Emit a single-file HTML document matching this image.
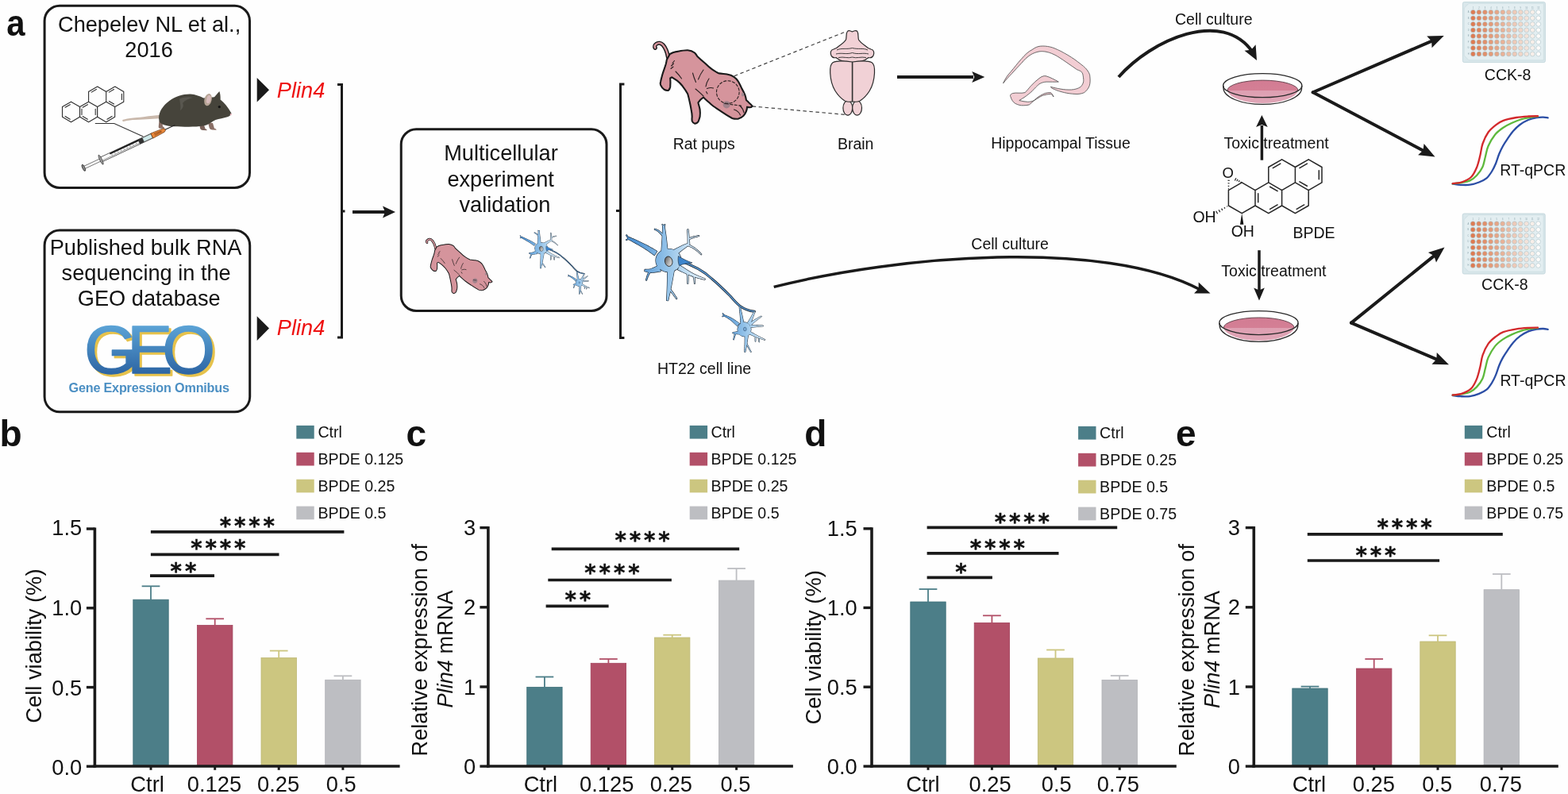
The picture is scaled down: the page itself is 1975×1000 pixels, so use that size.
<!DOCTYPE html>
<html><head><meta charset="utf-8"><title>Figure</title>
<style>
html,body{margin:0;padding:0;background:#fff;}
svg{display:block;}
text{font-family:'Liberation Sans', Arial, sans-serif;}
</style></head>
<body>
<svg width="1975" height="1000" viewBox="0 0 1975 1000">
<rect x="0" y="0" width="1975" height="1000" fill="#fefefe"/>
<text x="0.00" y="0.00" font-size="46" text-anchor="start" font-weight="bold" font-style="normal" fill="#111" transform="translate(8.3,44.8) scale(0.91,1)">a</text>
<text x="-0.50" y="562.00" font-size="46" text-anchor="start" font-weight="bold" font-style="normal" fill="#111" >b</text>
<text x="511.60" y="561.80" font-size="46" text-anchor="start" font-weight="bold" font-style="normal" fill="#111" >c</text>
<text x="1013.20" y="561.50" font-size="46" text-anchor="start" font-weight="bold" font-style="normal" fill="#111" >d</text>
<text x="1481.10" y="561.80" font-size="46" text-anchor="start" font-weight="bold" font-style="normal" fill="#111" >e</text>
<rect x="167.80" y="755.20" width="44.40" height="209.80" fill="#4c7e88" stroke="#3f717b" stroke-width="0.8"/>
<line x1="190.00" y1="738.30" x2="190.00" y2="755.70" stroke="#4c7e88" stroke-width="1.8" stroke-linecap="butt" />
<line x1="178.65" y1="738.30" x2="201.35" y2="738.30" stroke="#4c7e88" stroke-width="1.8" stroke-linecap="butt" />
<rect x="248.50" y="787.60" width="44.40" height="177.40" fill="#b25068" stroke="#a2405a" stroke-width="0.8"/>
<line x1="270.70" y1="779.30" x2="270.70" y2="788.10" stroke="#b25068" stroke-width="1.8" stroke-linecap="butt" />
<line x1="259.35" y1="779.30" x2="282.05" y2="779.30" stroke="#b25068" stroke-width="1.8" stroke-linecap="butt" />
<rect x="329.00" y="828.60" width="44.40" height="136.40" fill="#ccc680" stroke="#bdb772" stroke-width="0.8"/>
<line x1="351.20" y1="819.60" x2="351.20" y2="829.10" stroke="#ccc680" stroke-width="1.8" stroke-linecap="butt" />
<line x1="339.85" y1="819.60" x2="362.55" y2="819.60" stroke="#ccc680" stroke-width="1.8" stroke-linecap="butt" />
<rect x="409.70" y="856.30" width="44.40" height="108.70" fill="#bdbec2" stroke="#b1b2b6" stroke-width="0.8"/>
<line x1="431.90" y1="851.30" x2="431.90" y2="856.80" stroke="#bdbec2" stroke-width="1.8" stroke-linecap="butt" />
<line x1="420.55" y1="851.30" x2="443.25" y2="851.30" stroke="#bdbec2" stroke-width="1.8" stroke-linecap="butt" />
<line x1="119.40" y1="664.40" x2="119.40" y2="966.75" stroke="#1a1a1a" stroke-width="3.6" stroke-linecap="butt" />
<line x1="117.60" y1="965.00" x2="503.60" y2="965.00" stroke="#1a1a1a" stroke-width="3.5" stroke-linecap="butt" />
<line x1="108.90" y1="965.20" x2="119.40" y2="965.20" stroke="#1a1a1a" stroke-width="3.4" stroke-linecap="butt" />
<text x="103.20" y="975.90" font-size="27.3" text-anchor="end" font-weight="normal" font-style="normal" fill="#111" >0.0</text>
<line x1="108.90" y1="865.60" x2="119.40" y2="865.60" stroke="#1a1a1a" stroke-width="3.4" stroke-linecap="butt" />
<text x="103.20" y="875.60" font-size="27.3" text-anchor="end" font-weight="normal" font-style="normal" fill="#111" >0.5</text>
<line x1="108.90" y1="765.80" x2="119.40" y2="765.80" stroke="#1a1a1a" stroke-width="3.4" stroke-linecap="butt" />
<text x="103.20" y="775.20" font-size="27.3" text-anchor="end" font-weight="normal" font-style="normal" fill="#111" >1.0</text>
<line x1="108.90" y1="666.00" x2="119.40" y2="666.00" stroke="#1a1a1a" stroke-width="3.4" stroke-linecap="butt" />
<text x="103.20" y="673.90" font-size="27.3" text-anchor="end" font-weight="normal" font-style="normal" fill="#111" >1.5</text>
<line x1="190.00" y1="965.00" x2="190.00" y2="969.80" stroke="#1a1a1a" stroke-width="3" stroke-linecap="butt" />
<text x="164.34" y="997.00" font-size="27.3" text-anchor="start" font-weight="normal" font-style="normal" fill="#111" >Ctrl</text>
<line x1="270.70" y1="965.00" x2="270.70" y2="969.80" stroke="#1a1a1a" stroke-width="3" stroke-linecap="butt" />
<text x="235.75" y="997.00" font-size="27.3" text-anchor="start" font-weight="normal" font-style="normal" fill="#111" >0.125</text>
<line x1="351.20" y1="965.00" x2="351.20" y2="969.80" stroke="#1a1a1a" stroke-width="3" stroke-linecap="butt" />
<text x="324.05" y="997.00" font-size="27.3" text-anchor="start" font-weight="normal" font-style="normal" fill="#111" >0.25</text>
<line x1="431.90" y1="965.00" x2="431.90" y2="969.80" stroke="#1a1a1a" stroke-width="3" stroke-linecap="butt" />
<text x="410.75" y="997.00" font-size="27.3" text-anchor="start" font-weight="normal" font-style="normal" fill="#111" >0.5</text>
<rect x="373.30" y="535.90" width="22.40" height="16.70" fill="#4c7e88" />
<text x="400.40" y="550.90" font-size="19.6" text-anchor="start" font-weight="normal" font-style="normal" fill="#111" >Ctrl</text>
<rect x="373.30" y="569.80" width="22.40" height="16.70" fill="#b25068" />
<text x="400.40" y="584.80" font-size="19.6" text-anchor="start" font-weight="normal" font-style="normal" fill="#111" >BPDE 0.125</text>
<rect x="373.30" y="603.70" width="22.40" height="16.70" fill="#ccc680" />
<text x="400.40" y="618.70" font-size="19.6" text-anchor="start" font-weight="normal" font-style="normal" fill="#111" >BPDE 0.25</text>
<rect x="373.30" y="637.60" width="22.40" height="16.70" fill="#bdbec2" />
<text x="400.40" y="652.60" font-size="19.6" text-anchor="start" font-weight="normal" font-style="normal" fill="#111" >BPDE 0.5</text>
<line x1="189.90" y1="669.90" x2="433.40" y2="669.90" stroke="#1a1a1a" stroke-width="3.7" stroke-linecap="butt" />
<text x="313.20" y="671.60" style="font-family:DejaVu Sans,sans-serif" font-weight="bold" font-size="27.5" letter-spacing="3.9" text-anchor="middle" fill="#111" stroke="#111" stroke-width="0.45">****</text>
<line x1="189.90" y1="698.40" x2="351.50" y2="698.40" stroke="#1a1a1a" stroke-width="3.7" stroke-linecap="butt" />
<text x="276.80" y="700.10" style="font-family:DejaVu Sans,sans-serif" font-weight="bold" font-size="27.5" letter-spacing="3.9" text-anchor="middle" fill="#111" stroke="#111" stroke-width="0.45">****</text>
<line x1="189.00" y1="725.20" x2="270.00" y2="725.20" stroke="#1a1a1a" stroke-width="3.7" stroke-linecap="butt" />
<text x="232.90" y="728.60" style="font-family:DejaVu Sans,sans-serif" font-weight="bold" font-size="27.5" letter-spacing="3.9" text-anchor="middle" fill="#111" stroke="#111" stroke-width="0.45">**</text>
<text x="0.00" y="0.00" font-size="27.3" text-anchor="middle" font-weight="normal" font-style="normal" fill="#111" transform="translate(52.4,813.6) rotate(-90)">Cell viability (%)</text>
<rect x="663.70" y="865.50" width="44.40" height="99.50" fill="#4c7e88" stroke="#3f717b" stroke-width="0.8"/>
<line x1="685.90" y1="852.50" x2="685.90" y2="866.00" stroke="#4c7e88" stroke-width="1.8" stroke-linecap="butt" />
<line x1="674.55" y1="852.50" x2="697.25" y2="852.50" stroke="#4c7e88" stroke-width="1.8" stroke-linecap="butt" />
<rect x="744.20" y="835.30" width="44.40" height="129.70" fill="#b25068" stroke="#a2405a" stroke-width="0.8"/>
<line x1="766.40" y1="830.00" x2="766.40" y2="835.80" stroke="#b25068" stroke-width="1.8" stroke-linecap="butt" />
<line x1="755.05" y1="830.00" x2="777.75" y2="830.00" stroke="#b25068" stroke-width="1.8" stroke-linecap="butt" />
<rect x="824.50" y="803.00" width="44.40" height="162.00" fill="#ccc680" stroke="#bdb772" stroke-width="0.8"/>
<line x1="846.70" y1="799.70" x2="846.70" y2="803.50" stroke="#ccc680" stroke-width="1.8" stroke-linecap="butt" />
<line x1="835.35" y1="799.70" x2="858.05" y2="799.70" stroke="#ccc680" stroke-width="1.8" stroke-linecap="butt" />
<rect x="905.40" y="731.10" width="44.40" height="233.90" fill="#bdbec2" stroke="#b1b2b6" stroke-width="0.8"/>
<line x1="927.60" y1="716.00" x2="927.60" y2="731.60" stroke="#bdbec2" stroke-width="1.8" stroke-linecap="butt" />
<line x1="916.25" y1="716.00" x2="938.95" y2="716.00" stroke="#bdbec2" stroke-width="1.8" stroke-linecap="butt" />
<line x1="614.90" y1="663.00" x2="614.90" y2="966.75" stroke="#1a1a1a" stroke-width="3.6" stroke-linecap="butt" />
<line x1="613.10" y1="965.00" x2="998.90" y2="965.00" stroke="#1a1a1a" stroke-width="3.5" stroke-linecap="butt" />
<line x1="604.40" y1="965.10" x2="614.90" y2="965.10" stroke="#1a1a1a" stroke-width="3.4" stroke-linecap="butt" />
<text x="599.20" y="974.70" font-size="27.3" text-anchor="end" font-weight="normal" font-style="normal" fill="#111" >0</text>
<line x1="604.40" y1="865.00" x2="614.90" y2="865.00" stroke="#1a1a1a" stroke-width="3.4" stroke-linecap="butt" />
<text x="599.20" y="874.60" font-size="27.3" text-anchor="end" font-weight="normal" font-style="normal" fill="#111" >1</text>
<line x1="604.40" y1="764.80" x2="614.90" y2="764.80" stroke="#1a1a1a" stroke-width="3.4" stroke-linecap="butt" />
<text x="599.20" y="774.40" font-size="27.3" text-anchor="end" font-weight="normal" font-style="normal" fill="#111" >2</text>
<line x1="604.40" y1="664.60" x2="614.90" y2="664.60" stroke="#1a1a1a" stroke-width="3.4" stroke-linecap="butt" />
<text x="599.20" y="674.20" font-size="27.3" text-anchor="end" font-weight="normal" font-style="normal" fill="#111" >3</text>
<line x1="685.90" y1="965.00" x2="685.90" y2="969.80" stroke="#1a1a1a" stroke-width="3" stroke-linecap="butt" />
<text x="659.64" y="997.00" font-size="27.3" text-anchor="start" font-weight="normal" font-style="normal" fill="#111" >Ctrl</text>
<line x1="766.40" y1="965.00" x2="766.40" y2="969.80" stroke="#1a1a1a" stroke-width="3" stroke-linecap="butt" />
<text x="730.05" y="997.00" font-size="27.3" text-anchor="start" font-weight="normal" font-style="normal" fill="#111" >0.125</text>
<line x1="846.70" y1="965.00" x2="846.70" y2="969.80" stroke="#1a1a1a" stroke-width="3" stroke-linecap="butt" />
<text x="818.85" y="997.00" font-size="27.3" text-anchor="start" font-weight="normal" font-style="normal" fill="#111" >0.25</text>
<line x1="927.60" y1="965.00" x2="927.60" y2="969.80" stroke="#1a1a1a" stroke-width="3" stroke-linecap="butt" />
<text x="907.45" y="997.00" font-size="27.3" text-anchor="start" font-weight="normal" font-style="normal" fill="#111" >0.5</text>
<rect x="868.70" y="535.90" width="22.40" height="16.70" fill="#4c7e88" />
<text x="895.50" y="550.90" font-size="19.6" text-anchor="start" font-weight="normal" font-style="normal" fill="#111" >Ctrl</text>
<rect x="868.70" y="569.80" width="22.40" height="16.70" fill="#b25068" />
<text x="895.50" y="584.80" font-size="19.6" text-anchor="start" font-weight="normal" font-style="normal" fill="#111" >BPDE 0.125</text>
<rect x="868.70" y="603.70" width="22.40" height="16.70" fill="#ccc680" />
<text x="895.50" y="618.70" font-size="19.6" text-anchor="start" font-weight="normal" font-style="normal" fill="#111" >BPDE 0.25</text>
<rect x="868.70" y="637.60" width="22.40" height="16.70" fill="#bdbec2" />
<text x="895.50" y="652.60" font-size="19.6" text-anchor="start" font-weight="normal" font-style="normal" fill="#111" >BPDE 0.5</text>
<line x1="694.70" y1="691.40" x2="931.20" y2="691.40" stroke="#1a1a1a" stroke-width="3.7" stroke-linecap="butt" />
<text x="811.10" y="690.00" style="font-family:DejaVu Sans,sans-serif" font-weight="bold" font-size="27.5" letter-spacing="3.9" text-anchor="middle" fill="#111" stroke="#111" stroke-width="0.45">****</text>
<line x1="690.30" y1="730.50" x2="845.90" y2="730.50" stroke="#1a1a1a" stroke-width="3.7" stroke-linecap="butt" />
<text x="772.90" y="730.60" style="font-family:DejaVu Sans,sans-serif" font-weight="bold" font-size="27.5" letter-spacing="3.9" text-anchor="middle" fill="#111" stroke="#111" stroke-width="0.45">****</text>
<line x1="687.60" y1="763.40" x2="766.60" y2="763.40" stroke="#1a1a1a" stroke-width="3.7" stroke-linecap="butt" />
<text x="729.80" y="765.20" style="font-family:DejaVu Sans,sans-serif" font-weight="bold" font-size="27.5" letter-spacing="3.9" text-anchor="middle" fill="#111" stroke="#111" stroke-width="0.45">**</text>
<text x="0.00" y="0.00" font-size="27.2" text-anchor="middle" font-weight="normal" font-style="normal" fill="#111" transform="translate(538,818.75) rotate(-90)">Relative expression of</text>
<text font-size="27.2" text-anchor="middle" fill="#111" transform="translate(570.3,817.5) rotate(-90)"><tspan font-style="italic">Plin4</tspan> mRNA</text>
<rect x="1146.80" y="758.00" width="44.40" height="207.00" fill="#4c7e88" stroke="#3f717b" stroke-width="0.8"/>
<line x1="1169.00" y1="742.00" x2="1169.00" y2="758.50" stroke="#4c7e88" stroke-width="1.8" stroke-linecap="butt" />
<line x1="1157.65" y1="742.00" x2="1180.35" y2="742.00" stroke="#4c7e88" stroke-width="1.8" stroke-linecap="butt" />
<rect x="1227.20" y="784.40" width="44.40" height="180.60" fill="#b25068" stroke="#a2405a" stroke-width="0.8"/>
<line x1="1249.40" y1="775.30" x2="1249.40" y2="784.90" stroke="#b25068" stroke-width="1.8" stroke-linecap="butt" />
<line x1="1238.05" y1="775.30" x2="1260.75" y2="775.30" stroke="#b25068" stroke-width="1.8" stroke-linecap="butt" />
<rect x="1307.30" y="829.00" width="44.40" height="136.00" fill="#ccc680" stroke="#bdb772" stroke-width="0.8"/>
<line x1="1329.50" y1="818.50" x2="1329.50" y2="829.50" stroke="#ccc680" stroke-width="1.8" stroke-linecap="butt" />
<line x1="1318.15" y1="818.50" x2="1340.85" y2="818.50" stroke="#ccc680" stroke-width="1.8" stroke-linecap="butt" />
<rect x="1388.00" y="856.40" width="44.40" height="108.60" fill="#bdbec2" stroke="#b1b2b6" stroke-width="0.8"/>
<line x1="1410.20" y1="851.00" x2="1410.20" y2="856.90" stroke="#bdbec2" stroke-width="1.8" stroke-linecap="butt" />
<line x1="1398.85" y1="851.00" x2="1421.55" y2="851.00" stroke="#bdbec2" stroke-width="1.8" stroke-linecap="butt" />
<line x1="1098.00" y1="664.20" x2="1098.00" y2="966.75" stroke="#1a1a1a" stroke-width="3.6" stroke-linecap="butt" />
<line x1="1096.20" y1="965.00" x2="1481.80" y2="965.00" stroke="#1a1a1a" stroke-width="3.5" stroke-linecap="butt" />
<line x1="1087.50" y1="965.10" x2="1098.00" y2="965.10" stroke="#1a1a1a" stroke-width="3.4" stroke-linecap="butt" />
<text x="1079.80" y="974.70" font-size="27.3" text-anchor="end" font-weight="normal" font-style="normal" fill="#111" >0.0</text>
<line x1="1087.50" y1="865.20" x2="1098.00" y2="865.20" stroke="#1a1a1a" stroke-width="3.4" stroke-linecap="butt" />
<text x="1079.80" y="874.80" font-size="27.3" text-anchor="end" font-weight="normal" font-style="normal" fill="#111" >0.5</text>
<line x1="1087.50" y1="765.40" x2="1098.00" y2="765.40" stroke="#1a1a1a" stroke-width="3.4" stroke-linecap="butt" />
<text x="1079.80" y="775.00" font-size="27.3" text-anchor="end" font-weight="normal" font-style="normal" fill="#111" >1.0</text>
<line x1="1087.50" y1="665.80" x2="1098.00" y2="665.80" stroke="#1a1a1a" stroke-width="3.4" stroke-linecap="butt" />
<text x="1079.80" y="675.40" font-size="27.3" text-anchor="end" font-weight="normal" font-style="normal" fill="#111" >1.5</text>
<line x1="1169.00" y1="965.00" x2="1169.00" y2="969.80" stroke="#1a1a1a" stroke-width="3" stroke-linecap="butt" />
<text x="1141.24" y="997.00" font-size="27.3" text-anchor="start" font-weight="normal" font-style="normal" fill="#111" >Ctrl</text>
<line x1="1249.40" y1="965.00" x2="1249.40" y2="969.80" stroke="#1a1a1a" stroke-width="3" stroke-linecap="butt" />
<text x="1220.55" y="997.00" font-size="27.3" text-anchor="start" font-weight="normal" font-style="normal" fill="#111" >0.25</text>
<line x1="1329.50" y1="965.00" x2="1329.50" y2="969.80" stroke="#1a1a1a" stroke-width="3" stroke-linecap="butt" />
<text x="1311.85" y="997.00" font-size="27.3" text-anchor="start" font-weight="normal" font-style="normal" fill="#111" >0.5</text>
<line x1="1410.20" y1="965.00" x2="1410.20" y2="969.80" stroke="#1a1a1a" stroke-width="3" stroke-linecap="butt" />
<text x="1381.85" y="997.00" font-size="27.3" text-anchor="start" font-weight="normal" font-style="normal" fill="#111" >0.75</text>
<rect x="1358.10" y="536.90" width="22.40" height="16.70" fill="#4c7e88" />
<text x="1385.10" y="551.90" font-size="19.6" text-anchor="start" font-weight="normal" font-style="normal" fill="#111" >Ctrl</text>
<rect x="1358.10" y="570.80" width="22.40" height="16.70" fill="#b25068" />
<text x="1385.10" y="585.80" font-size="19.6" text-anchor="start" font-weight="normal" font-style="normal" fill="#111" >BPDE 0.25</text>
<rect x="1358.10" y="604.70" width="22.40" height="16.70" fill="#ccc680" />
<text x="1385.10" y="619.70" font-size="19.6" text-anchor="start" font-weight="normal" font-style="normal" fill="#111" >BPDE 0.5</text>
<rect x="1358.10" y="638.60" width="22.40" height="16.70" fill="#bdbec2" />
<text x="1385.10" y="653.60" font-size="19.6" text-anchor="start" font-weight="normal" font-style="normal" fill="#111" >BPDE 0.75</text>
<line x1="1167.60" y1="664.40" x2="1407.20" y2="664.40" stroke="#1a1a1a" stroke-width="3.7" stroke-linecap="butt" />
<text x="1289.20" y="667.00" style="font-family:DejaVu Sans,sans-serif" font-weight="bold" font-size="27.5" letter-spacing="3.9" text-anchor="middle" fill="#111" stroke="#111" stroke-width="0.45">****</text>
<line x1="1167.60" y1="696.80" x2="1333.50" y2="696.80" stroke="#1a1a1a" stroke-width="3.7" stroke-linecap="butt" />
<text x="1258.20" y="699.60" style="font-family:DejaVu Sans,sans-serif" font-weight="bold" font-size="27.5" letter-spacing="3.9" text-anchor="middle" fill="#111" stroke="#111" stroke-width="0.45">****</text>
<line x1="1167.60" y1="727.30" x2="1249.90" y2="727.30" stroke="#1a1a1a" stroke-width="3.7" stroke-linecap="butt" />
<text x="1212.30" y="730.00" style="font-family:DejaVu Sans,sans-serif" font-weight="bold" font-size="27.5" letter-spacing="3.9" text-anchor="middle" fill="#111" stroke="#111" stroke-width="0.45">*</text>
<text x="0.00" y="0.00" font-size="27.3" text-anchor="middle" font-weight="normal" font-style="normal" fill="#111" transform="translate(1033.6,815.3) rotate(-90)">Cell viability (%)</text>
<rect x="1627.80" y="867.00" width="44.40" height="98.00" fill="#4c7e88" stroke="#3f717b" stroke-width="0.8"/>
<line x1="1650.00" y1="864.60" x2="1650.00" y2="867.50" stroke="#4c7e88" stroke-width="1.8" stroke-linecap="butt" />
<line x1="1638.65" y1="864.60" x2="1661.35" y2="864.60" stroke="#4c7e88" stroke-width="1.8" stroke-linecap="butt" />
<rect x="1708.50" y="842.00" width="44.40" height="123.00" fill="#b25068" stroke="#a2405a" stroke-width="0.8"/>
<line x1="1730.70" y1="830.00" x2="1730.70" y2="842.50" stroke="#b25068" stroke-width="1.8" stroke-linecap="butt" />
<line x1="1719.35" y1="830.00" x2="1742.05" y2="830.00" stroke="#b25068" stroke-width="1.8" stroke-linecap="butt" />
<rect x="1788.80" y="808.00" width="44.40" height="157.00" fill="#ccc680" stroke="#bdb772" stroke-width="0.8"/>
<line x1="1811.00" y1="800.30" x2="1811.00" y2="808.50" stroke="#ccc680" stroke-width="1.8" stroke-linecap="butt" />
<line x1="1799.65" y1="800.30" x2="1822.35" y2="800.30" stroke="#ccc680" stroke-width="1.8" stroke-linecap="butt" />
<rect x="1869.10" y="742.70" width="44.40" height="222.30" fill="#bdbec2" stroke="#b1b2b6" stroke-width="0.8"/>
<line x1="1891.30" y1="723.00" x2="1891.30" y2="743.20" stroke="#bdbec2" stroke-width="1.8" stroke-linecap="butt" />
<line x1="1879.95" y1="723.00" x2="1902.65" y2="723.00" stroke="#bdbec2" stroke-width="1.8" stroke-linecap="butt" />
<line x1="1579.30" y1="663.00" x2="1579.30" y2="966.75" stroke="#1a1a1a" stroke-width="3.6" stroke-linecap="butt" />
<line x1="1577.50" y1="965.00" x2="1962.80" y2="965.00" stroke="#1a1a1a" stroke-width="3.5" stroke-linecap="butt" />
<line x1="1568.80" y1="965.10" x2="1579.30" y2="965.10" stroke="#1a1a1a" stroke-width="3.4" stroke-linecap="butt" />
<text x="1562.00" y="974.70" font-size="27.3" text-anchor="end" font-weight="normal" font-style="normal" fill="#111" >0</text>
<line x1="1568.80" y1="865.00" x2="1579.30" y2="865.00" stroke="#1a1a1a" stroke-width="3.4" stroke-linecap="butt" />
<text x="1562.00" y="874.60" font-size="27.3" text-anchor="end" font-weight="normal" font-style="normal" fill="#111" >1</text>
<line x1="1568.80" y1="764.80" x2="1579.30" y2="764.80" stroke="#1a1a1a" stroke-width="3.4" stroke-linecap="butt" />
<text x="1562.00" y="774.40" font-size="27.3" text-anchor="end" font-weight="normal" font-style="normal" fill="#111" >2</text>
<line x1="1568.80" y1="664.60" x2="1579.30" y2="664.60" stroke="#1a1a1a" stroke-width="3.4" stroke-linecap="butt" />
<text x="1562.00" y="674.20" font-size="27.3" text-anchor="end" font-weight="normal" font-style="normal" fill="#111" >3</text>
<line x1="1650.00" y1="965.00" x2="1650.00" y2="969.80" stroke="#1a1a1a" stroke-width="3" stroke-linecap="butt" />
<text x="1627.74" y="997.00" font-size="27.3" text-anchor="start" font-weight="normal" font-style="normal" fill="#111" >Ctrl</text>
<line x1="1730.70" y1="965.00" x2="1730.70" y2="969.80" stroke="#1a1a1a" stroke-width="3" stroke-linecap="butt" />
<text x="1703.85" y="997.00" font-size="27.3" text-anchor="start" font-weight="normal" font-style="normal" fill="#111" >0.25</text>
<line x1="1811.00" y1="965.00" x2="1811.00" y2="969.80" stroke="#1a1a1a" stroke-width="3" stroke-linecap="butt" />
<text x="1791.35" y="997.00" font-size="27.3" text-anchor="start" font-weight="normal" font-style="normal" fill="#111" >0.5</text>
<line x1="1891.30" y1="965.00" x2="1891.30" y2="969.80" stroke="#1a1a1a" stroke-width="3" stroke-linecap="butt" />
<text x="1863.75" y="997.00" font-size="27.3" text-anchor="start" font-weight="normal" font-style="normal" fill="#111" >0.75</text>
<rect x="1844.80" y="535.90" width="22.40" height="16.70" fill="#4c7e88" />
<text x="1872.30" y="550.90" font-size="19.6" text-anchor="start" font-weight="normal" font-style="normal" fill="#111" >Ctrl</text>
<rect x="1844.80" y="569.80" width="22.40" height="16.70" fill="#b25068" />
<text x="1872.30" y="584.80" font-size="19.6" text-anchor="start" font-weight="normal" font-style="normal" fill="#111" >BPDE 0.25</text>
<rect x="1844.80" y="603.70" width="22.40" height="16.70" fill="#ccc680" />
<text x="1872.30" y="618.70" font-size="19.6" text-anchor="start" font-weight="normal" font-style="normal" fill="#111" >BPDE 0.5</text>
<rect x="1844.80" y="637.60" width="22.40" height="16.70" fill="#bdbec2" />
<text x="1872.30" y="652.60" font-size="19.6" text-anchor="start" font-weight="normal" font-style="normal" fill="#111" >BPDE 0.75</text>
<line x1="1646.80" y1="672.80" x2="1892.80" y2="672.80" stroke="#1a1a1a" stroke-width="3.7" stroke-linecap="butt" />
<text x="1771.10" y="674.00" style="font-family:DejaVu Sans,sans-serif" font-weight="bold" font-size="27.5" letter-spacing="3.9" text-anchor="middle" fill="#111" stroke="#111" stroke-width="0.45">****</text>
<line x1="1646.80" y1="706.00" x2="1813.10" y2="706.00" stroke="#1a1a1a" stroke-width="3.7" stroke-linecap="butt" />
<text x="1734.80" y="708.90" style="font-family:DejaVu Sans,sans-serif" font-weight="bold" font-size="27.5" letter-spacing="3.9" text-anchor="middle" fill="#111" stroke="#111" stroke-width="0.45">***</text>
<text x="0.00" y="0.00" font-size="27.2" text-anchor="middle" font-weight="normal" font-style="normal" fill="#111" transform="translate(1504,818.8) rotate(-90)">Relative expression of</text>
<text font-size="27.2" text-anchor="middle" fill="#111" transform="translate(1536.3,818) rotate(-90)"><tspan font-style="italic">Plin4</tspan> mRNA</text>
<rect x="56.10" y="7.30" width="258.40" height="229.10" rx="19" fill="none" stroke="#1a1a1a" stroke-width="3"/>
<rect x="56.10" y="289.90" width="258.60" height="228.90" rx="19" fill="none" stroke="#1a1a1a" stroke-width="3"/>
<rect x="505.25" y="162.75" width="258.75" height="228.75" rx="19" fill="none" stroke="#1a1a1a" stroke-width="3"/>
<text x="73.00" y="40.10" font-size="27.2" text-anchor="start" font-weight="normal" font-style="normal" fill="#111" >Chepelev NL et al.,</text>
<text x="157.30" y="71.80" font-size="27.2" text-anchor="start" font-weight="normal" font-style="normal" fill="#111" >2016</text>
<text x="62.70" y="321.20" font-size="27.2" text-anchor="start" font-weight="normal" font-style="normal" fill="#111" >Published bulk RNA</text>
<text x="77.60" y="352.90" font-size="27.2" text-anchor="start" font-weight="normal" font-style="normal" fill="#111" >sequencing in the</text>
<text x="97.80" y="385.20" font-size="27.2" text-anchor="start" font-weight="normal" font-style="normal" fill="#111" >GEO database</text>
<text x="559.20" y="202.00" font-size="27.2" text-anchor="start" font-weight="normal" font-style="normal" fill="#111" >Multicellular</text>
<text x="563.40" y="234.50" font-size="27.2" text-anchor="start" font-weight="normal" font-style="normal" fill="#111" >experiment</text>
<text x="578.50" y="267.00" font-size="27.2" text-anchor="start" font-weight="normal" font-style="normal" fill="#111" >validation</text>
<path d="M323.7,98.0 L339,113.3 L323.7,128.6 Z" fill="#1a1a1a" stroke="none" stroke-width="1" />
<path d="M323.7,398.3 L339,413.6 L323.7,428.9 Z" fill="#1a1a1a" stroke="none" stroke-width="1" />
<text x="348.80" y="123.20" font-size="27.2" text-anchor="start" font-weight="normal" font-style="italic" fill="#ee1111" >Plin4</text>
<text x="348.80" y="422.00" font-size="27.2" text-anchor="start" font-weight="normal" font-style="italic" fill="#ee1111" >Plin4</text>
<path d="M425,106.5 L430.5,106.5 L430.5,425 L425,425" fill="none" stroke="#1a1a1a" stroke-width="3" />
<line x1="430.50" y1="266.00" x2="434.50" y2="266.00" stroke="#1a1a1a" stroke-width="3" stroke-linecap="butt" />
<line x1="444.00" y1="267.00" x2="486.00" y2="267.00" stroke="#1a1a1a" stroke-width="4" stroke-linecap="butt" />
<path d="M498.00,267.00 L482.00,274.50 L485.00,267.00 L482.00,259.50 Z" fill="#1a1a1a"/>
<path d="M786.4,106 L781.5,106 L781.5,425.4 L786.4,425.4" fill="none" stroke="#1a1a1a" stroke-width="3" />
<line x1="776.00" y1="265.50" x2="781.50" y2="265.50" stroke="#1a1a1a" stroke-width="3" stroke-linecap="butt" />
<text x="847.70" y="187.70" font-size="19.5" text-anchor="start" font-weight="normal" font-style="normal" fill="#111" >Rat pups</text>
<text x="1054.90" y="187.70" font-size="19.5" text-anchor="start" font-weight="normal" font-style="normal" fill="#111" >Brain</text>
<text x="1248.20" y="187.30" font-size="19.5" text-anchor="start" font-weight="normal" font-style="normal" fill="#111" >Hippocampal Tissue</text>
<text x="1480.00" y="31.00" font-size="19.5" text-anchor="start" font-weight="normal" font-style="normal" fill="#111" >Cell culture</text>
<text x="1541.50" y="187.00" font-size="19.5" text-anchor="start" font-weight="normal" font-style="normal" fill="#111" >Toxic treatment</text>
<text x="1869.80" y="101.25" font-size="19.5" text-anchor="start" font-weight="normal" font-style="normal" fill="#111" >CCK-8</text>
<text x="1889.20" y="221.25" font-size="19.5" text-anchor="start" font-weight="normal" font-style="normal" fill="#111" >RT-qPCR</text>
<text x="1628.40" y="300.40" font-size="19.5" text-anchor="start" font-weight="normal" font-style="normal" fill="#111" >BPDE</text>
<text x="1502.40" y="280.00" font-size="19.5" text-anchor="start" font-weight="normal" font-style="normal" fill="#111" >OH</text>
<text x="1550.70" y="298.30" font-size="19.5" text-anchor="start" font-weight="normal" font-style="normal" fill="#111" >OH</text>
<text x="1223.30" y="314.40" font-size="19.5" text-anchor="start" font-weight="normal" font-style="normal" fill="#111" >Cell culture</text>
<text x="1538.30" y="347.70" font-size="19.5" text-anchor="start" font-weight="normal" font-style="normal" fill="#111" >Toxic treatment</text>
<text x="1866.10" y="364.70" font-size="19.5" text-anchor="start" font-weight="normal" font-style="normal" fill="#111" >CCK-8</text>
<text x="1889.40" y="486.20" font-size="19.5" text-anchor="start" font-weight="normal" font-style="normal" fill="#111" >RT-qPCR</text>
<text x="828.00" y="470.50" font-size="19.5" text-anchor="start" font-weight="normal" font-style="normal" fill="#111" >HT22 cell line</text>
<line x1="1130.00" y1="96.90" x2="1226.00" y2="96.90" stroke="#1a1a1a" stroke-width="4" stroke-linecap="butt" />
<path d="M1240.30,96.90 L1224.30,103.90 L1227.30,96.90 L1224.30,89.90 Z" fill="#1a1a1a"/>
<path d="M1409,97 C1450,50 1540,10 1578,66" fill="none" stroke="#1a1a1a" stroke-width="4" />
<path d="M1583.00,76.00 L1567.49,63.86 L1575.96,62.76 L1581.61,56.35 Z" fill="#1a1a1a"/>
<path d="M974.7,361.4 C1130,322 1390,300 1512,365" fill="none" stroke="#1a1a1a" stroke-width="3.5" />
<path d="M1524.50,369.60 L1504.07,369.44 L1509.67,363.61 L1509.69,355.53 Z" fill="#1a1a1a"/>
<line x1="1589.40" y1="201.70" x2="1589.40" y2="158.00" stroke="#1a1a1a" stroke-width="3.5" stroke-linecap="butt" />
<path d="M1589.40,145.00 L1596.70,160.00 L1589.40,157.00 L1582.10,160.00 Z" fill="#1a1a1a"/>
<line x1="1586.00" y1="315.20" x2="1586.00" y2="366.00" stroke="#1a1a1a" stroke-width="3.5" stroke-linecap="butt" />
<path d="M1586.00,378.40 L1579.20,362.40 L1586.00,365.40 L1592.80,362.40 Z" fill="#1a1a1a"/>
<line x1="1653.75" y1="116.25" x2="1805.90" y2="50.55" stroke="#1a1a1a" stroke-width="4" stroke-linecap="round" />
<path d="M1818.75,45.00 L1803.56,60.27 L1803.14,51.74 L1797.22,45.58 Z" fill="#1a1a1a"/>
<line x1="1653.75" y1="116.25" x2="1795.12" y2="190.96" stroke="#1a1a1a" stroke-width="4" stroke-linecap="round" />
<path d="M1807.50,197.50 L1786.08,195.23 L1792.47,189.56 L1793.56,181.08 Z" fill="#1a1a1a"/>
<line x1="1702.00" y1="406.60" x2="1808.61" y2="320.40" stroke="#1a1a1a" stroke-width="4" stroke-linecap="round" />
<path d="M1819.50,311.60 L1808.98,330.40 L1806.28,322.29 L1798.92,317.95 Z" fill="#1a1a1a"/>
<line x1="1702.00" y1="406.60" x2="1812.13" y2="453.70" stroke="#1a1a1a" stroke-width="4" stroke-linecap="round" />
<path d="M1825.00,459.20 L1803.47,458.69 L1809.37,452.52 L1809.76,443.98 Z" fill="#1a1a1a"/>
<path d="M122.60,134.50L122.60,147.30M133.70,128.20L144.80,134.60M100.60,147.30L111.60,153.70M89.50,153.70L100.50,147.30M111.60,128.20L122.60,134.50M78.50,134.50L78.50,147.30M122.70,134.60L133.70,128.20M78.50,147.30L89.50,153.70M100.50,134.50L100.50,147.30M111.60,115.40L122.70,109.00M144.80,134.60L155.80,128.20M133.70,128.20L144.70,134.50M122.70,134.50L133.70,128.20M122.70,134.50L122.70,147.30M144.80,109.00L155.80,115.40M155.80,115.40L155.80,128.20M111.60,153.70L122.60,147.30M111.60,128.20L122.70,134.60M100.60,134.50L111.60,128.20M89.50,128.20L100.50,134.50M133.70,115.40L144.80,109.00M122.70,109.00L133.70,115.40M133.70,153.70L144.70,147.30M78.50,134.50L89.50,128.20M133.70,115.40L133.70,128.20M100.60,134.50L100.60,147.30M144.70,134.50L144.70,147.30M122.70,147.30L133.70,153.70M111.60,115.40L111.60,128.20M82.09,135.23L88.29,131.65M88.29,150.15L82.09,146.57M102.99,144.48L102.99,137.32M104.19,135.23L110.39,131.65M110.39,150.15L104.19,146.57M120.21,137.32L120.21,144.48M115.24,116.13L121.44,112.55M137.34,116.13L143.54,112.55M153.36,118.22L153.36,125.38M143.54,131.05L137.34,127.47M141.11,146.57L134.91,150.15" fill="none" stroke="#2e2e2e" stroke-width="1.1" stroke-linecap="round" stroke-linejoin="round"/>
<path d="M119.8,155.5 L143.8,155.5 L180.4,171.9" fill="none" stroke="#333" stroke-width="1.1" />
<path d="M1547.40,239.60L1547.40,259.00M1631.40,268.70L1648.20,259.00M1631.40,210.50L1631.40,229.90M1597.80,229.90L1614.60,239.60M1564.20,229.90L1581.00,239.60M1597.80,210.50L1597.80,229.90M1631.40,229.90L1648.20,239.60M1581.00,259.00L1597.80,268.70M1648.20,200.80L1665.00,210.50M1648.20,239.60L1648.20,259.00M1614.60,239.60L1614.60,259.00M1547.40,239.60L1564.20,229.90M1581.00,239.60L1581.00,259.00M1614.60,259.00L1631.40,268.70M1665.00,210.50L1665.00,229.90M1597.80,210.50L1614.60,200.80M1631.40,210.50L1648.20,200.80M1597.80,268.70L1614.60,259.00M1581.00,239.60L1597.80,229.90M1614.60,239.60L1631.40,229.90M1648.20,239.60L1665.00,229.90M1614.60,200.80L1631.40,210.50M1547.40,259.00L1564.20,268.70M1564.20,268.70L1581.00,259.00M1584.70,254.75L1584.70,243.85M1599.63,235.23L1609.07,240.67M1609.07,257.93L1599.63,263.37M1603.33,211.57L1612.77,206.13M1636.93,211.57L1646.37,206.13M1661.30,214.75L1661.30,225.65M1646.37,234.27L1636.93,228.83M1642.67,257.93L1633.23,263.37" fill="none" stroke="#262626" stroke-width="1.5" stroke-linecap="round" stroke-linejoin="round"/>
<text x="1539.60" y="224.20" font-size="18.5" text-anchor="start" font-weight="normal" font-style="normal" fill="#111" >O</text>
<path d="M1546.83,237.83L1548.02,237.85M1546.69,234.30L1548.26,234.32M1546.56,230.77L1548.49,230.80M1546.42,227.25L1548.73,227.28" fill="none" stroke="#222" stroke-width="1.2" />
<path d="M1562.74,229.94L1563.36,228.71M1560.27,229.13L1561.23,227.22M1557.81,228.31L1559.09,225.74M1555.34,227.50L1556.96,224.25" fill="none" stroke="#222" stroke-width="1.2" />
<path d="M1545.98,260.34L1545.53,259.56M1542.91,262.59L1542.05,261.11M1539.83,264.83L1538.57,262.67M1536.75,267.08L1535.09,264.22M1533.67,269.32L1531.61,265.78" fill="none" stroke="#222" stroke-width="1.2" />
<path d="M1564.20,268.70 L1562.00,282.70 L1566.40,282.70 Z" fill="#111" stroke="none" stroke-width="1" />
<path d="M925,95.6 L1063.5,40.6" fill="none" stroke="#444" stroke-width="1.2" stroke-dasharray="4.5,3.5"/>
<path d="M947.7,133.9 L1069,144.8" fill="none" stroke="#444" stroke-width="1.2" stroke-dasharray="4.5,3.5"/>
<defs><linearGradient id="liq" x1="0" y1="101" x2="0" y2="131" gradientUnits="userSpaceOnUse"><stop offset="0" stop-color="#d27c93"/><stop offset="0.44" stop-color="#d47f95"/><stop offset="0.45" stop-color="#dea0b2"/><stop offset="1" stop-color="#e0a6b7"/></linearGradient></defs>
<g transform="translate(0.00,0.00)">
<path d="M1545.9,114 A44.6,12.9 0 0 1 1635.1,114 A44.8,17.6 0 0 1 1545.9,114 Z" fill="url(#liq)"/>
<path d="M1545.9,114 A44.6,12.9 0 0 1 1635.1,114" fill="none" stroke="#5a3a44" stroke-width="0.9"/>
<ellipse cx="1590.25" cy="107.7" rx="49.6" ry="15" fill="none" stroke="#2a2a2a" stroke-width="1.3"/>
<path d="M1540.7,108 L1541,111 A49.3,20.5 0 0 0 1639.6,111 L1639.8,108" fill="none" stroke="#2a2a2a" stroke-width="1.3"/>
</g>
<g transform="translate(-4.80,298.90)">
<path d="M1545.9,114 A44.6,12.9 0 0 1 1635.1,114 A44.8,17.6 0 0 1 1545.9,114 Z" fill="url(#liq)"/>
<path d="M1545.9,114 A44.6,12.9 0 0 1 1635.1,114" fill="none" stroke="#5a3a44" stroke-width="0.9"/>
<ellipse cx="1590.25" cy="107.7" rx="49.6" ry="15" fill="none" stroke="#2a2a2a" stroke-width="1.3"/>
<path d="M1540.7,108 L1541,111 A49.3,20.5 0 0 0 1639.6,111 L1639.8,108" fill="none" stroke="#2a2a2a" stroke-width="1.3"/>
</g>
<g transform="translate(0.00,0.00)">
<rect x="1842.4" y="2.6" width="104" height="76" rx="2" fill="#d9e7eb" stroke="#bcd2d8" stroke-width="0.8"/>
<path d="M1850,4.4 L1944.3,4.4 L1944.3,75.8 L1850,75.8 L1844.3,70 L1844.3,10 Z" fill="#e3eef1" stroke="#c6d9de" stroke-width="0.6"/>
<circle cx="1855.40" cy="15.30" r="2.9" fill="#df7a50" stroke="#a9c3ca" stroke-width="0.6"/><circle cx="1862.89" cy="15.30" r="2.9" fill="#e0855d" stroke="#a9c3ca" stroke-width="0.6"/><circle cx="1870.38" cy="15.30" r="2.9" fill="#e28f6a" stroke="#a9c3ca" stroke-width="0.6"/><circle cx="1877.87" cy="15.30" r="2.9" fill="#e49a78" stroke="#a9c3ca" stroke-width="0.6"/><circle cx="1885.36" cy="15.30" r="2.9" fill="#e6a586" stroke="#a9c3ca" stroke-width="0.6"/><circle cx="1892.85" cy="15.30" r="2.9" fill="#e9b196" stroke="#a9c3ca" stroke-width="0.6"/><circle cx="1900.34" cy="15.30" r="2.9" fill="#ebbda6" stroke="#a9c3ca" stroke-width="0.6"/><circle cx="1907.83" cy="15.30" r="2.9" fill="#eec9b7" stroke="#a9c3ca" stroke-width="0.6"/><circle cx="1915.32" cy="15.30" r="2.9" fill="#f1d6c8" stroke="#a9c3ca" stroke-width="0.6"/><circle cx="1922.81" cy="15.30" r="2.9" fill="#f4e3da" stroke="#a9c3ca" stroke-width="0.6"/><circle cx="1930.30" cy="15.30" r="2.9" fill="#f8efe9" stroke="#a9c3ca" stroke-width="0.6"/><circle cx="1937.79" cy="15.30" r="2.9" fill="#fdfbfa" stroke="#a9c3ca" stroke-width="0.6"/><circle cx="1855.40" cy="22.83" r="2.9" fill="#df7a50" stroke="#a9c3ca" stroke-width="0.6"/><circle cx="1862.89" cy="22.83" r="2.9" fill="#e0855d" stroke="#a9c3ca" stroke-width="0.6"/><circle cx="1870.38" cy="22.83" r="2.9" fill="#e28f6a" stroke="#a9c3ca" stroke-width="0.6"/><circle cx="1877.87" cy="22.83" r="2.9" fill="#e49a78" stroke="#a9c3ca" stroke-width="0.6"/><circle cx="1885.36" cy="22.83" r="2.9" fill="#e6a586" stroke="#a9c3ca" stroke-width="0.6"/><circle cx="1892.85" cy="22.83" r="2.9" fill="#e9b196" stroke="#a9c3ca" stroke-width="0.6"/><circle cx="1900.34" cy="22.83" r="2.9" fill="#ebbda6" stroke="#a9c3ca" stroke-width="0.6"/><circle cx="1907.83" cy="22.83" r="2.9" fill="#eec9b7" stroke="#a9c3ca" stroke-width="0.6"/><circle cx="1915.32" cy="22.83" r="2.9" fill="#f1d6c8" stroke="#a9c3ca" stroke-width="0.6"/><circle cx="1922.81" cy="22.83" r="2.9" fill="#f4e3da" stroke="#a9c3ca" stroke-width="0.6"/><circle cx="1930.30" cy="22.83" r="2.9" fill="#f8efe9" stroke="#a9c3ca" stroke-width="0.6"/><circle cx="1937.79" cy="22.83" r="2.9" fill="#fdfbfa" stroke="#a9c3ca" stroke-width="0.6"/><circle cx="1855.40" cy="30.36" r="2.9" fill="#df7a50" stroke="#a9c3ca" stroke-width="0.6"/><circle cx="1862.89" cy="30.36" r="2.9" fill="#e0855d" stroke="#a9c3ca" stroke-width="0.6"/><circle cx="1870.38" cy="30.36" r="2.9" fill="#e28f6a" stroke="#a9c3ca" stroke-width="0.6"/><circle cx="1877.87" cy="30.36" r="2.9" fill="#e49a78" stroke="#a9c3ca" stroke-width="0.6"/><circle cx="1885.36" cy="30.36" r="2.9" fill="#e6a586" stroke="#a9c3ca" stroke-width="0.6"/><circle cx="1892.85" cy="30.36" r="2.9" fill="#e9b196" stroke="#a9c3ca" stroke-width="0.6"/><circle cx="1900.34" cy="30.36" r="2.9" fill="#ebbda6" stroke="#a9c3ca" stroke-width="0.6"/><circle cx="1907.83" cy="30.36" r="2.9" fill="#eec9b7" stroke="#a9c3ca" stroke-width="0.6"/><circle cx="1915.32" cy="30.36" r="2.9" fill="#f1d6c8" stroke="#a9c3ca" stroke-width="0.6"/><circle cx="1922.81" cy="30.36" r="2.9" fill="#f4e3da" stroke="#a9c3ca" stroke-width="0.6"/><circle cx="1930.30" cy="30.36" r="2.9" fill="#f8efe9" stroke="#a9c3ca" stroke-width="0.6"/><circle cx="1937.79" cy="30.36" r="2.9" fill="#fdfbfa" stroke="#a9c3ca" stroke-width="0.6"/><circle cx="1855.40" cy="37.89" r="2.9" fill="#df7a50" stroke="#a9c3ca" stroke-width="0.6"/><circle cx="1862.89" cy="37.89" r="2.9" fill="#e0855d" stroke="#a9c3ca" stroke-width="0.6"/><circle cx="1870.38" cy="37.89" r="2.9" fill="#e28f6a" stroke="#a9c3ca" stroke-width="0.6"/><circle cx="1877.87" cy="37.89" r="2.9" fill="#e49a78" stroke="#a9c3ca" stroke-width="0.6"/><circle cx="1885.36" cy="37.89" r="2.9" fill="#e6a586" stroke="#a9c3ca" stroke-width="0.6"/><circle cx="1892.85" cy="37.89" r="2.9" fill="#e9b196" stroke="#a9c3ca" stroke-width="0.6"/><circle cx="1900.34" cy="37.89" r="2.9" fill="#ebbda6" stroke="#a9c3ca" stroke-width="0.6"/><circle cx="1907.83" cy="37.89" r="2.9" fill="#eec9b7" stroke="#a9c3ca" stroke-width="0.6"/><circle cx="1915.32" cy="37.89" r="2.9" fill="#f1d6c8" stroke="#a9c3ca" stroke-width="0.6"/><circle cx="1922.81" cy="37.89" r="2.9" fill="#f4e3da" stroke="#a9c3ca" stroke-width="0.6"/><circle cx="1930.30" cy="37.89" r="2.9" fill="#f8efe9" stroke="#a9c3ca" stroke-width="0.6"/><circle cx="1937.79" cy="37.89" r="2.9" fill="#fdfbfa" stroke="#a9c3ca" stroke-width="0.6"/><circle cx="1855.40" cy="45.42" r="2.9" fill="#df7a50" stroke="#a9c3ca" stroke-width="0.6"/><circle cx="1862.89" cy="45.42" r="2.9" fill="#e0855d" stroke="#a9c3ca" stroke-width="0.6"/><circle cx="1870.38" cy="45.42" r="2.9" fill="#e28f6a" stroke="#a9c3ca" stroke-width="0.6"/><circle cx="1877.87" cy="45.42" r="2.9" fill="#e49a78" stroke="#a9c3ca" stroke-width="0.6"/><circle cx="1885.36" cy="45.42" r="2.9" fill="#e6a586" stroke="#a9c3ca" stroke-width="0.6"/><circle cx="1892.85" cy="45.42" r="2.9" fill="#e9b196" stroke="#a9c3ca" stroke-width="0.6"/><circle cx="1900.34" cy="45.42" r="2.9" fill="#ebbda6" stroke="#a9c3ca" stroke-width="0.6"/><circle cx="1907.83" cy="45.42" r="2.9" fill="#eec9b7" stroke="#a9c3ca" stroke-width="0.6"/><circle cx="1915.32" cy="45.42" r="2.9" fill="#f1d6c8" stroke="#a9c3ca" stroke-width="0.6"/><circle cx="1922.81" cy="45.42" r="2.9" fill="#f4e3da" stroke="#a9c3ca" stroke-width="0.6"/><circle cx="1930.30" cy="45.42" r="2.9" fill="#f8efe9" stroke="#a9c3ca" stroke-width="0.6"/><circle cx="1937.79" cy="45.42" r="2.9" fill="#fdfbfa" stroke="#a9c3ca" stroke-width="0.6"/><circle cx="1855.40" cy="52.95" r="2.9" fill="#df7a50" stroke="#a9c3ca" stroke-width="0.6"/><circle cx="1862.89" cy="52.95" r="2.9" fill="#e0855d" stroke="#a9c3ca" stroke-width="0.6"/><circle cx="1870.38" cy="52.95" r="2.9" fill="#e28f6a" stroke="#a9c3ca" stroke-width="0.6"/><circle cx="1877.87" cy="52.95" r="2.9" fill="#e49a78" stroke="#a9c3ca" stroke-width="0.6"/><circle cx="1885.36" cy="52.95" r="2.9" fill="#e6a586" stroke="#a9c3ca" stroke-width="0.6"/><circle cx="1892.85" cy="52.95" r="2.9" fill="#e9b196" stroke="#a9c3ca" stroke-width="0.6"/><circle cx="1900.34" cy="52.95" r="2.9" fill="#ebbda6" stroke="#a9c3ca" stroke-width="0.6"/><circle cx="1907.83" cy="52.95" r="2.9" fill="#eec9b7" stroke="#a9c3ca" stroke-width="0.6"/><circle cx="1915.32" cy="52.95" r="2.9" fill="#f1d6c8" stroke="#a9c3ca" stroke-width="0.6"/><circle cx="1922.81" cy="52.95" r="2.9" fill="#f4e3da" stroke="#a9c3ca" stroke-width="0.6"/><circle cx="1930.30" cy="52.95" r="2.9" fill="#f8efe9" stroke="#a9c3ca" stroke-width="0.6"/><circle cx="1937.79" cy="52.95" r="2.9" fill="#fdfbfa" stroke="#a9c3ca" stroke-width="0.6"/><circle cx="1855.40" cy="60.48" r="2.9" fill="#df7a50" stroke="#a9c3ca" stroke-width="0.6"/><circle cx="1862.89" cy="60.48" r="2.9" fill="#e0855d" stroke="#a9c3ca" stroke-width="0.6"/><circle cx="1870.38" cy="60.48" r="2.9" fill="#e28f6a" stroke="#a9c3ca" stroke-width="0.6"/><circle cx="1877.87" cy="60.48" r="2.9" fill="#e49a78" stroke="#a9c3ca" stroke-width="0.6"/><circle cx="1885.36" cy="60.48" r="2.9" fill="#e6a586" stroke="#a9c3ca" stroke-width="0.6"/><circle cx="1892.85" cy="60.48" r="2.9" fill="#e9b196" stroke="#a9c3ca" stroke-width="0.6"/><circle cx="1900.34" cy="60.48" r="2.9" fill="#ebbda6" stroke="#a9c3ca" stroke-width="0.6"/><circle cx="1907.83" cy="60.48" r="2.9" fill="#eec9b7" stroke="#a9c3ca" stroke-width="0.6"/><circle cx="1915.32" cy="60.48" r="2.9" fill="#f1d6c8" stroke="#a9c3ca" stroke-width="0.6"/><circle cx="1922.81" cy="60.48" r="2.9" fill="#f4e3da" stroke="#a9c3ca" stroke-width="0.6"/><circle cx="1930.30" cy="60.48" r="2.9" fill="#f8efe9" stroke="#a9c3ca" stroke-width="0.6"/><circle cx="1937.79" cy="60.48" r="2.9" fill="#fdfbfa" stroke="#a9c3ca" stroke-width="0.6"/><circle cx="1855.40" cy="68.01" r="2.9" fill="#df7a50" stroke="#a9c3ca" stroke-width="0.6"/><circle cx="1862.89" cy="68.01" r="2.9" fill="#e0855d" stroke="#a9c3ca" stroke-width="0.6"/><circle cx="1870.38" cy="68.01" r="2.9" fill="#e28f6a" stroke="#a9c3ca" stroke-width="0.6"/><circle cx="1877.87" cy="68.01" r="2.9" fill="#e49a78" stroke="#a9c3ca" stroke-width="0.6"/><circle cx="1885.36" cy="68.01" r="2.9" fill="#e6a586" stroke="#a9c3ca" stroke-width="0.6"/><circle cx="1892.85" cy="68.01" r="2.9" fill="#e9b196" stroke="#a9c3ca" stroke-width="0.6"/><circle cx="1900.34" cy="68.01" r="2.9" fill="#ebbda6" stroke="#a9c3ca" stroke-width="0.6"/><circle cx="1907.83" cy="68.01" r="2.9" fill="#eec9b7" stroke="#a9c3ca" stroke-width="0.6"/><circle cx="1915.32" cy="68.01" r="2.9" fill="#f1d6c8" stroke="#a9c3ca" stroke-width="0.6"/><circle cx="1922.81" cy="68.01" r="2.9" fill="#f4e3da" stroke="#a9c3ca" stroke-width="0.6"/><circle cx="1930.30" cy="68.01" r="2.9" fill="#f8efe9" stroke="#a9c3ca" stroke-width="0.6"/><circle cx="1937.79" cy="68.01" r="2.9" fill="#fdfbfa" stroke="#a9c3ca" stroke-width="0.6"/>
<text x="1855.40" y="10.6" font-size="2.6" text-anchor="middle" fill="#8aa4ac">1</text><text x="1862.89" y="10.6" font-size="2.6" text-anchor="middle" fill="#8aa4ac">2</text><text x="1870.38" y="10.6" font-size="2.6" text-anchor="middle" fill="#8aa4ac">3</text><text x="1877.87" y="10.6" font-size="2.6" text-anchor="middle" fill="#8aa4ac">4</text><text x="1885.36" y="10.6" font-size="2.6" text-anchor="middle" fill="#8aa4ac">5</text><text x="1892.85" y="10.6" font-size="2.6" text-anchor="middle" fill="#8aa4ac">6</text><text x="1900.34" y="10.6" font-size="2.6" text-anchor="middle" fill="#8aa4ac">7</text><text x="1907.83" y="10.6" font-size="2.6" text-anchor="middle" fill="#8aa4ac">8</text><text x="1915.32" y="10.6" font-size="2.6" text-anchor="middle" fill="#8aa4ac">9</text><text x="1922.81" y="10.6" font-size="2.6" text-anchor="middle" fill="#8aa4ac">10</text><text x="1930.30" y="10.6" font-size="2.6" text-anchor="middle" fill="#8aa4ac">11</text><text x="1937.79" y="10.6" font-size="2.6" text-anchor="middle" fill="#8aa4ac">12</text><text x="1849.6" y="16.20" font-size="2.6" text-anchor="middle" fill="#8aa4ac">A</text><text x="1849.6" y="23.73" font-size="2.6" text-anchor="middle" fill="#8aa4ac">B</text><text x="1849.6" y="31.26" font-size="2.6" text-anchor="middle" fill="#8aa4ac">C</text><text x="1849.6" y="38.79" font-size="2.6" text-anchor="middle" fill="#8aa4ac">D</text><text x="1849.6" y="46.32" font-size="2.6" text-anchor="middle" fill="#8aa4ac">E</text><text x="1849.6" y="53.85" font-size="2.6" text-anchor="middle" fill="#8aa4ac">F</text><text x="1849.6" y="61.38" font-size="2.6" text-anchor="middle" fill="#8aa4ac">G</text><text x="1849.6" y="68.91" font-size="2.6" text-anchor="middle" fill="#8aa4ac">H</text>
</g>
<g transform="translate(-0.20,266.40)">
<rect x="1842.4" y="2.6" width="104" height="76" rx="2" fill="#d9e7eb" stroke="#bcd2d8" stroke-width="0.8"/>
<path d="M1850,4.4 L1944.3,4.4 L1944.3,75.8 L1850,75.8 L1844.3,70 L1844.3,10 Z" fill="#e3eef1" stroke="#c6d9de" stroke-width="0.6"/>
<circle cx="1855.40" cy="15.30" r="2.9" fill="#df7a50" stroke="#a9c3ca" stroke-width="0.6"/><circle cx="1862.89" cy="15.30" r="2.9" fill="#e0855d" stroke="#a9c3ca" stroke-width="0.6"/><circle cx="1870.38" cy="15.30" r="2.9" fill="#e28f6a" stroke="#a9c3ca" stroke-width="0.6"/><circle cx="1877.87" cy="15.30" r="2.9" fill="#e49a78" stroke="#a9c3ca" stroke-width="0.6"/><circle cx="1885.36" cy="15.30" r="2.9" fill="#e6a586" stroke="#a9c3ca" stroke-width="0.6"/><circle cx="1892.85" cy="15.30" r="2.9" fill="#e9b196" stroke="#a9c3ca" stroke-width="0.6"/><circle cx="1900.34" cy="15.30" r="2.9" fill="#ebbda6" stroke="#a9c3ca" stroke-width="0.6"/><circle cx="1907.83" cy="15.30" r="2.9" fill="#eec9b7" stroke="#a9c3ca" stroke-width="0.6"/><circle cx="1915.32" cy="15.30" r="2.9" fill="#f1d6c8" stroke="#a9c3ca" stroke-width="0.6"/><circle cx="1922.81" cy="15.30" r="2.9" fill="#f4e3da" stroke="#a9c3ca" stroke-width="0.6"/><circle cx="1930.30" cy="15.30" r="2.9" fill="#f8efe9" stroke="#a9c3ca" stroke-width="0.6"/><circle cx="1937.79" cy="15.30" r="2.9" fill="#fdfbfa" stroke="#a9c3ca" stroke-width="0.6"/><circle cx="1855.40" cy="22.83" r="2.9" fill="#df7a50" stroke="#a9c3ca" stroke-width="0.6"/><circle cx="1862.89" cy="22.83" r="2.9" fill="#e0855d" stroke="#a9c3ca" stroke-width="0.6"/><circle cx="1870.38" cy="22.83" r="2.9" fill="#e28f6a" stroke="#a9c3ca" stroke-width="0.6"/><circle cx="1877.87" cy="22.83" r="2.9" fill="#e49a78" stroke="#a9c3ca" stroke-width="0.6"/><circle cx="1885.36" cy="22.83" r="2.9" fill="#e6a586" stroke="#a9c3ca" stroke-width="0.6"/><circle cx="1892.85" cy="22.83" r="2.9" fill="#e9b196" stroke="#a9c3ca" stroke-width="0.6"/><circle cx="1900.34" cy="22.83" r="2.9" fill="#ebbda6" stroke="#a9c3ca" stroke-width="0.6"/><circle cx="1907.83" cy="22.83" r="2.9" fill="#eec9b7" stroke="#a9c3ca" stroke-width="0.6"/><circle cx="1915.32" cy="22.83" r="2.9" fill="#f1d6c8" stroke="#a9c3ca" stroke-width="0.6"/><circle cx="1922.81" cy="22.83" r="2.9" fill="#f4e3da" stroke="#a9c3ca" stroke-width="0.6"/><circle cx="1930.30" cy="22.83" r="2.9" fill="#f8efe9" stroke="#a9c3ca" stroke-width="0.6"/><circle cx="1937.79" cy="22.83" r="2.9" fill="#fdfbfa" stroke="#a9c3ca" stroke-width="0.6"/><circle cx="1855.40" cy="30.36" r="2.9" fill="#df7a50" stroke="#a9c3ca" stroke-width="0.6"/><circle cx="1862.89" cy="30.36" r="2.9" fill="#e0855d" stroke="#a9c3ca" stroke-width="0.6"/><circle cx="1870.38" cy="30.36" r="2.9" fill="#e28f6a" stroke="#a9c3ca" stroke-width="0.6"/><circle cx="1877.87" cy="30.36" r="2.9" fill="#e49a78" stroke="#a9c3ca" stroke-width="0.6"/><circle cx="1885.36" cy="30.36" r="2.9" fill="#e6a586" stroke="#a9c3ca" stroke-width="0.6"/><circle cx="1892.85" cy="30.36" r="2.9" fill="#e9b196" stroke="#a9c3ca" stroke-width="0.6"/><circle cx="1900.34" cy="30.36" r="2.9" fill="#ebbda6" stroke="#a9c3ca" stroke-width="0.6"/><circle cx="1907.83" cy="30.36" r="2.9" fill="#eec9b7" stroke="#a9c3ca" stroke-width="0.6"/><circle cx="1915.32" cy="30.36" r="2.9" fill="#f1d6c8" stroke="#a9c3ca" stroke-width="0.6"/><circle cx="1922.81" cy="30.36" r="2.9" fill="#f4e3da" stroke="#a9c3ca" stroke-width="0.6"/><circle cx="1930.30" cy="30.36" r="2.9" fill="#f8efe9" stroke="#a9c3ca" stroke-width="0.6"/><circle cx="1937.79" cy="30.36" r="2.9" fill="#fdfbfa" stroke="#a9c3ca" stroke-width="0.6"/><circle cx="1855.40" cy="37.89" r="2.9" fill="#df7a50" stroke="#a9c3ca" stroke-width="0.6"/><circle cx="1862.89" cy="37.89" r="2.9" fill="#e0855d" stroke="#a9c3ca" stroke-width="0.6"/><circle cx="1870.38" cy="37.89" r="2.9" fill="#e28f6a" stroke="#a9c3ca" stroke-width="0.6"/><circle cx="1877.87" cy="37.89" r="2.9" fill="#e49a78" stroke="#a9c3ca" stroke-width="0.6"/><circle cx="1885.36" cy="37.89" r="2.9" fill="#e6a586" stroke="#a9c3ca" stroke-width="0.6"/><circle cx="1892.85" cy="37.89" r="2.9" fill="#e9b196" stroke="#a9c3ca" stroke-width="0.6"/><circle cx="1900.34" cy="37.89" r="2.9" fill="#ebbda6" stroke="#a9c3ca" stroke-width="0.6"/><circle cx="1907.83" cy="37.89" r="2.9" fill="#eec9b7" stroke="#a9c3ca" stroke-width="0.6"/><circle cx="1915.32" cy="37.89" r="2.9" fill="#f1d6c8" stroke="#a9c3ca" stroke-width="0.6"/><circle cx="1922.81" cy="37.89" r="2.9" fill="#f4e3da" stroke="#a9c3ca" stroke-width="0.6"/><circle cx="1930.30" cy="37.89" r="2.9" fill="#f8efe9" stroke="#a9c3ca" stroke-width="0.6"/><circle cx="1937.79" cy="37.89" r="2.9" fill="#fdfbfa" stroke="#a9c3ca" stroke-width="0.6"/><circle cx="1855.40" cy="45.42" r="2.9" fill="#df7a50" stroke="#a9c3ca" stroke-width="0.6"/><circle cx="1862.89" cy="45.42" r="2.9" fill="#e0855d" stroke="#a9c3ca" stroke-width="0.6"/><circle cx="1870.38" cy="45.42" r="2.9" fill="#e28f6a" stroke="#a9c3ca" stroke-width="0.6"/><circle cx="1877.87" cy="45.42" r="2.9" fill="#e49a78" stroke="#a9c3ca" stroke-width="0.6"/><circle cx="1885.36" cy="45.42" r="2.9" fill="#e6a586" stroke="#a9c3ca" stroke-width="0.6"/><circle cx="1892.85" cy="45.42" r="2.9" fill="#e9b196" stroke="#a9c3ca" stroke-width="0.6"/><circle cx="1900.34" cy="45.42" r="2.9" fill="#ebbda6" stroke="#a9c3ca" stroke-width="0.6"/><circle cx="1907.83" cy="45.42" r="2.9" fill="#eec9b7" stroke="#a9c3ca" stroke-width="0.6"/><circle cx="1915.32" cy="45.42" r="2.9" fill="#f1d6c8" stroke="#a9c3ca" stroke-width="0.6"/><circle cx="1922.81" cy="45.42" r="2.9" fill="#f4e3da" stroke="#a9c3ca" stroke-width="0.6"/><circle cx="1930.30" cy="45.42" r="2.9" fill="#f8efe9" stroke="#a9c3ca" stroke-width="0.6"/><circle cx="1937.79" cy="45.42" r="2.9" fill="#fdfbfa" stroke="#a9c3ca" stroke-width="0.6"/><circle cx="1855.40" cy="52.95" r="2.9" fill="#df7a50" stroke="#a9c3ca" stroke-width="0.6"/><circle cx="1862.89" cy="52.95" r="2.9" fill="#e0855d" stroke="#a9c3ca" stroke-width="0.6"/><circle cx="1870.38" cy="52.95" r="2.9" fill="#e28f6a" stroke="#a9c3ca" stroke-width="0.6"/><circle cx="1877.87" cy="52.95" r="2.9" fill="#e49a78" stroke="#a9c3ca" stroke-width="0.6"/><circle cx="1885.36" cy="52.95" r="2.9" fill="#e6a586" stroke="#a9c3ca" stroke-width="0.6"/><circle cx="1892.85" cy="52.95" r="2.9" fill="#e9b196" stroke="#a9c3ca" stroke-width="0.6"/><circle cx="1900.34" cy="52.95" r="2.9" fill="#ebbda6" stroke="#a9c3ca" stroke-width="0.6"/><circle cx="1907.83" cy="52.95" r="2.9" fill="#eec9b7" stroke="#a9c3ca" stroke-width="0.6"/><circle cx="1915.32" cy="52.95" r="2.9" fill="#f1d6c8" stroke="#a9c3ca" stroke-width="0.6"/><circle cx="1922.81" cy="52.95" r="2.9" fill="#f4e3da" stroke="#a9c3ca" stroke-width="0.6"/><circle cx="1930.30" cy="52.95" r="2.9" fill="#f8efe9" stroke="#a9c3ca" stroke-width="0.6"/><circle cx="1937.79" cy="52.95" r="2.9" fill="#fdfbfa" stroke="#a9c3ca" stroke-width="0.6"/><circle cx="1855.40" cy="60.48" r="2.9" fill="#df7a50" stroke="#a9c3ca" stroke-width="0.6"/><circle cx="1862.89" cy="60.48" r="2.9" fill="#e0855d" stroke="#a9c3ca" stroke-width="0.6"/><circle cx="1870.38" cy="60.48" r="2.9" fill="#e28f6a" stroke="#a9c3ca" stroke-width="0.6"/><circle cx="1877.87" cy="60.48" r="2.9" fill="#e49a78" stroke="#a9c3ca" stroke-width="0.6"/><circle cx="1885.36" cy="60.48" r="2.9" fill="#e6a586" stroke="#a9c3ca" stroke-width="0.6"/><circle cx="1892.85" cy="60.48" r="2.9" fill="#e9b196" stroke="#a9c3ca" stroke-width="0.6"/><circle cx="1900.34" cy="60.48" r="2.9" fill="#ebbda6" stroke="#a9c3ca" stroke-width="0.6"/><circle cx="1907.83" cy="60.48" r="2.9" fill="#eec9b7" stroke="#a9c3ca" stroke-width="0.6"/><circle cx="1915.32" cy="60.48" r="2.9" fill="#f1d6c8" stroke="#a9c3ca" stroke-width="0.6"/><circle cx="1922.81" cy="60.48" r="2.9" fill="#f4e3da" stroke="#a9c3ca" stroke-width="0.6"/><circle cx="1930.30" cy="60.48" r="2.9" fill="#f8efe9" stroke="#a9c3ca" stroke-width="0.6"/><circle cx="1937.79" cy="60.48" r="2.9" fill="#fdfbfa" stroke="#a9c3ca" stroke-width="0.6"/><circle cx="1855.40" cy="68.01" r="2.9" fill="#df7a50" stroke="#a9c3ca" stroke-width="0.6"/><circle cx="1862.89" cy="68.01" r="2.9" fill="#e0855d" stroke="#a9c3ca" stroke-width="0.6"/><circle cx="1870.38" cy="68.01" r="2.9" fill="#e28f6a" stroke="#a9c3ca" stroke-width="0.6"/><circle cx="1877.87" cy="68.01" r="2.9" fill="#e49a78" stroke="#a9c3ca" stroke-width="0.6"/><circle cx="1885.36" cy="68.01" r="2.9" fill="#e6a586" stroke="#a9c3ca" stroke-width="0.6"/><circle cx="1892.85" cy="68.01" r="2.9" fill="#e9b196" stroke="#a9c3ca" stroke-width="0.6"/><circle cx="1900.34" cy="68.01" r="2.9" fill="#ebbda6" stroke="#a9c3ca" stroke-width="0.6"/><circle cx="1907.83" cy="68.01" r="2.9" fill="#eec9b7" stroke="#a9c3ca" stroke-width="0.6"/><circle cx="1915.32" cy="68.01" r="2.9" fill="#f1d6c8" stroke="#a9c3ca" stroke-width="0.6"/><circle cx="1922.81" cy="68.01" r="2.9" fill="#f4e3da" stroke="#a9c3ca" stroke-width="0.6"/><circle cx="1930.30" cy="68.01" r="2.9" fill="#f8efe9" stroke="#a9c3ca" stroke-width="0.6"/><circle cx="1937.79" cy="68.01" r="2.9" fill="#fdfbfa" stroke="#a9c3ca" stroke-width="0.6"/>
<text x="1855.40" y="10.6" font-size="2.6" text-anchor="middle" fill="#8aa4ac">1</text><text x="1862.89" y="10.6" font-size="2.6" text-anchor="middle" fill="#8aa4ac">2</text><text x="1870.38" y="10.6" font-size="2.6" text-anchor="middle" fill="#8aa4ac">3</text><text x="1877.87" y="10.6" font-size="2.6" text-anchor="middle" fill="#8aa4ac">4</text><text x="1885.36" y="10.6" font-size="2.6" text-anchor="middle" fill="#8aa4ac">5</text><text x="1892.85" y="10.6" font-size="2.6" text-anchor="middle" fill="#8aa4ac">6</text><text x="1900.34" y="10.6" font-size="2.6" text-anchor="middle" fill="#8aa4ac">7</text><text x="1907.83" y="10.6" font-size="2.6" text-anchor="middle" fill="#8aa4ac">8</text><text x="1915.32" y="10.6" font-size="2.6" text-anchor="middle" fill="#8aa4ac">9</text><text x="1922.81" y="10.6" font-size="2.6" text-anchor="middle" fill="#8aa4ac">10</text><text x="1930.30" y="10.6" font-size="2.6" text-anchor="middle" fill="#8aa4ac">11</text><text x="1937.79" y="10.6" font-size="2.6" text-anchor="middle" fill="#8aa4ac">12</text><text x="1849.6" y="16.20" font-size="2.6" text-anchor="middle" fill="#8aa4ac">A</text><text x="1849.6" y="23.73" font-size="2.6" text-anchor="middle" fill="#8aa4ac">B</text><text x="1849.6" y="31.26" font-size="2.6" text-anchor="middle" fill="#8aa4ac">C</text><text x="1849.6" y="38.79" font-size="2.6" text-anchor="middle" fill="#8aa4ac">D</text><text x="1849.6" y="46.32" font-size="2.6" text-anchor="middle" fill="#8aa4ac">E</text><text x="1849.6" y="53.85" font-size="2.6" text-anchor="middle" fill="#8aa4ac">F</text><text x="1849.6" y="61.38" font-size="2.6" text-anchor="middle" fill="#8aa4ac">G</text><text x="1849.6" y="68.91" font-size="2.6" text-anchor="middle" fill="#8aa4ac">H</text>
</g>
<g transform="translate(0,0.00)" fill="none" stroke-width="2.3" stroke-linecap="round">
<path d="M1829.70,231.60 C1831.42,231.80 1836.37,232.62 1840.00,232.80 C1843.63,232.98 1847.67,233.25 1851.50,232.70 C1855.33,232.15 1859.50,230.90 1863.00,229.50 C1866.50,228.10 1869.83,226.55 1872.50,224.30 C1875.17,222.05 1877.08,219.05 1879.00,216.00 C1880.92,212.95 1882.45,209.70 1884.00,206.00 C1885.55,202.30 1886.80,197.47 1888.30,193.80 C1889.80,190.13 1891.25,187.15 1893.00,184.00 C1894.75,180.85 1896.63,178.07 1898.80,174.90 C1900.97,171.73 1903.38,167.98 1906.00,165.00 C1908.62,162.02 1911.33,159.33 1914.50,157.00 C1917.67,154.67 1921.50,152.48 1925.00,151.00 C1928.50,149.52 1932.33,148.67 1935.50,148.10 C1938.67,147.53 1941.63,147.55 1944.00,147.60 C1946.37,147.65 1948.75,148.27 1949.70,148.40" stroke="#2b4ea5"/>
<path d="M1829.70,231.30 C1831.58,231.08 1837.37,230.65 1841.00,230.00 C1844.63,229.35 1848.33,228.90 1851.50,227.40 C1854.67,225.90 1857.37,223.80 1860.00,221.00 C1862.63,218.20 1865.47,214.60 1867.30,210.60 C1869.13,206.60 1869.80,201.43 1871.00,197.00 C1872.20,192.57 1872.50,188.55 1874.50,184.00 C1876.50,179.45 1879.92,173.53 1883.00,169.70 C1886.08,165.87 1889.50,163.45 1893.00,161.00 C1896.50,158.55 1900.00,156.83 1904.00,155.00 C1908.00,153.17 1912.62,151.28 1917.00,150.00 C1921.38,148.72 1926.97,147.87 1930.30,147.30 C1933.63,146.73 1935.88,146.72 1937.00,146.60" stroke="#5db93c"/>
<path d="M1829.70,231.10 C1831.58,230.83 1837.12,230.85 1841.00,229.50 C1844.88,228.15 1849.83,226.08 1853.00,223.00 C1856.17,219.92 1858.12,215.50 1860.00,211.00 C1861.88,206.50 1863.05,201.00 1864.30,196.00 C1865.55,191.00 1865.78,185.92 1867.50,181.00 C1869.22,176.08 1871.85,170.42 1874.60,166.50 C1877.35,162.58 1880.85,159.95 1884.00,157.50 C1887.15,155.05 1889.17,153.38 1893.50,151.80 C1897.83,150.22 1904.75,148.88 1910.00,148.00 C1915.25,147.12 1920.50,146.80 1925.00,146.50 C1929.50,146.20 1935.00,146.25 1937.00,146.20" stroke="#d3292c"/>
</g>
<g transform="translate(0,266.40)" fill="none" stroke-width="2.3" stroke-linecap="round">
<path d="M1829.70,231.60 C1831.42,231.80 1836.37,232.62 1840.00,232.80 C1843.63,232.98 1847.67,233.25 1851.50,232.70 C1855.33,232.15 1859.50,230.90 1863.00,229.50 C1866.50,228.10 1869.83,226.55 1872.50,224.30 C1875.17,222.05 1877.08,219.05 1879.00,216.00 C1880.92,212.95 1882.45,209.70 1884.00,206.00 C1885.55,202.30 1886.80,197.47 1888.30,193.80 C1889.80,190.13 1891.25,187.15 1893.00,184.00 C1894.75,180.85 1896.63,178.07 1898.80,174.90 C1900.97,171.73 1903.38,167.98 1906.00,165.00 C1908.62,162.02 1911.33,159.33 1914.50,157.00 C1917.67,154.67 1921.50,152.48 1925.00,151.00 C1928.50,149.52 1932.33,148.67 1935.50,148.10 C1938.67,147.53 1941.63,147.55 1944.00,147.60 C1946.37,147.65 1948.75,148.27 1949.70,148.40" stroke="#2b4ea5"/>
<path d="M1829.70,231.30 C1831.58,231.08 1837.37,230.65 1841.00,230.00 C1844.63,229.35 1848.33,228.90 1851.50,227.40 C1854.67,225.90 1857.37,223.80 1860.00,221.00 C1862.63,218.20 1865.47,214.60 1867.30,210.60 C1869.13,206.60 1869.80,201.43 1871.00,197.00 C1872.20,192.57 1872.50,188.55 1874.50,184.00 C1876.50,179.45 1879.92,173.53 1883.00,169.70 C1886.08,165.87 1889.50,163.45 1893.00,161.00 C1896.50,158.55 1900.00,156.83 1904.00,155.00 C1908.00,153.17 1912.62,151.28 1917.00,150.00 C1921.38,148.72 1926.97,147.87 1930.30,147.30 C1933.63,146.73 1935.88,146.72 1937.00,146.60" stroke="#5db93c"/>
<path d="M1829.70,231.10 C1831.58,230.83 1837.12,230.85 1841.00,229.50 C1844.88,228.15 1849.83,226.08 1853.00,223.00 C1856.17,219.92 1858.12,215.50 1860.00,211.00 C1861.88,206.50 1863.05,201.00 1864.30,196.00 C1865.55,191.00 1865.78,185.92 1867.50,181.00 C1869.22,176.08 1871.85,170.42 1874.60,166.50 C1877.35,162.58 1880.85,159.95 1884.00,157.50 C1887.15,155.05 1889.17,153.38 1893.50,151.80 C1897.83,150.22 1904.75,148.88 1910.00,148.00 C1915.25,147.12 1920.50,146.80 1925.00,146.50 C1929.50,146.20 1935.00,146.25 1937.00,146.20" stroke="#d3292c"/>
</g>
<g stroke="#2a2a2a" stroke-width="1.2" stroke-linejoin="round">
<ellipse cx="1067.8" cy="136" rx="5.9" ry="9.2" fill="#f1d1d6"/>
<ellipse cx="1079.6" cy="136" rx="5.9" ry="9.2" fill="#f1d1d6"/>
<path d="M1067.4,39.5 C1069,37.5 1071,38.5 1073.4,40 C1076,38.5 1078,37.5 1079.8,39.5 C1081.5,42 1080.5,46 1081.5,50 C1084,54 1089,57 1093.5,60.5 L1097,62 C1100.5,62.5 1101.5,66 1100.2,69.5 C1099,72.5 1096,73 1094,72.5 C1090,76 1083,78.5 1073.5,78.5 C1064,78.5 1057,76 1053,72.5 C1051,73 1048,72.5 1046.8,69.5 C1045.5,66 1046.5,62.5 1050,62 L1053.5,60.5 C1058,57 1063,54 1065.5,50 C1066.5,46 1065.5,42 1067.4,39.5 Z" fill="#f1d1d6"/>
<path d="M1054,63 C1060,60 1066,62.5 1073.5,60.5 C1081,62.5 1087,60 1093,63 M1053,68 C1060,66 1066,69 1073.5,66.5 C1081,69 1087,66 1094,68 M1056,72.5 C1063,71 1068,74 1073.5,72 C1079,74 1084,71 1091,72.5" fill="none" stroke-width="0.9"/>
<path d="M1073.4,78 C1066,77 1054,76.3 1049,78.8 C1046,80.8 1045.4,86 1045.7,92 C1046.1,100 1048,108 1052,114.5 C1055.5,120 1060,124.5 1064,127 C1067,128.3 1071,128.4 1073.4,127.8 Z" fill="#f1d1d6"/>
<path d="M1073.8,78 C1081.2,77 1093.2,76.3 1098.2,78.8 C1101.2,80.8 1101.8,86 1101.5,92 C1101.1,100 1099.2,108 1095.2,114.5 C1091.7,120 1087.2,124.5 1083.2,127 C1080.2,128.3 1076.2,128.4 1073.8,127.8 Z" fill="#f1d1d6"/>
</g>
<path d="M1263.6,104.9 C1266,99 1269,95 1273,90.5 C1277,86 1282,79 1286.5,74.3 C1291,69 1295,65 1300,62.6 C1303.5,60 1307,58.3 1310.8,58.1 C1315,57.8 1318.5,58.2 1322.5,59 C1327,60 1331,62 1336,64.4 C1342,67.5 1348,71 1354,75.2 C1359,79 1364,82.5 1367.5,86 C1371,90 1373,93.5 1372.9,96.8 C1373.3,101 1373.3,105 1372,108.5 C1370.5,112 1368.5,114.5 1365.7,116.6 C1362,118.3 1358,118.7 1354,118.4 C1349,118.2 1345,117.6 1340.5,116.6 C1336,115.5 1331,114 1327,112.1 C1325,111.3 1323.8,110.4 1323.4,109.4 C1327,110.2 1331,111.3 1336,112.1 C1340,112.8 1345,113.2 1349.5,113 C1354,112.7 1358,111.5 1361.2,109.4 C1363.6,106.8 1365.2,103.5 1364.8,100.4 C1364.5,97 1364.2,93.5 1363,91.4 C1361.5,89.5 1359,88.5 1356.7,87.8 C1352.5,85 1349,82.3 1345,79.7 C1340.5,76.5 1336,73.5 1331.5,70.7 C1327,68.2 1322.5,66.2 1318,65.3 C1315,64.7 1312,64.5 1309,64.9 C1305,65.6 1301.5,67 1298.2,68.9 C1294,71.5 1290,75.5 1286.5,79.7 C1282.5,84 1278.5,88 1274.8,92.3 C1270.5,96.8 1266.5,101 1263.6,104.9 Z" fill="#f2cdd3" stroke="#4a4a4a" stroke-width="0.8"/>
<path d="M1333.3,103.1 C1328,100 1323,97.5 1318,95.9 C1315,95 1312,96.3 1309,98.6 C1305,101.5 1301.5,105 1298.2,108.5 C1295.5,111.5 1293.5,114.5 1291,116.6 C1286,118 1280,116.3 1275.7,117.5 C1272.5,118.5 1272,120.5 1273,122 C1274,125.5 1276,128.5 1278.4,130.1 C1282,132.3 1286,133 1289.2,132.8 C1291.7,132.7 1294,132.7 1296.4,131.9 C1299.5,129.5 1302.5,126.5 1305.4,123.8 C1309,121 1312.5,119 1316.2,117.5 C1318.5,116.8 1321,116.5 1323.4,116.6 C1325,117.8 1326.3,119.8 1327,122 C1326.2,120.3 1325,119 1323.4,118.4 C1320,118.6 1317,119.2 1313.5,120.2 C1310,121.7 1306.5,124.2 1302.7,126.5 C1300,127.6 1297.5,128.3 1294.6,128.3 C1291,128 1287,127.5 1283.8,126.5 C1286.5,125 1288.5,123.5 1291,122 C1294.5,119.5 1297.5,117 1300,114.8 C1303,111.5 1306,108.3 1309,105.8 C1312,104 1315,103.3 1318,103.1 C1323,103 1328,103.4 1333.3,103.1 Z" fill="#f2cdd3" stroke="#4a4a4a" stroke-width="0.8"/>
<g transform="translate(0,0)" stroke-linejoin="round" stroke-linecap="round">
<path d="M841.5,72 C840.5,66 838.5,60.5 835,56.5 C832.5,54 829,53.5 826.5,55.5 C824.5,57 824.3,59 825.2,60.3" fill="none" stroke="#1a1a1a" stroke-width="5.24"/>
<path d="M841.5,72 C840.5,66 838.5,60.5 835,56.5 C832.5,54 829,53.5 826.5,55.5 C824.5,57 824.3,59 825.2,60.3" fill="none" stroke="#d5949c" stroke-width="2.4"/>
<path d="M843.7,68.2 C846,66.5 849.5,65.5 853,64.9 C857.5,64 862,63 866.2,63.2 C869.5,63.4 872.5,64.5 875,66.5 C876.5,68 877.5,69.5 878.3,70.9 C881.5,74 885,77 888.2,79.7 C891,82.5 894,85.2 897,87.4 C900,89.5 903,91.5 905.8,92.4 C909,93 912.5,93 915.7,93.5 C919,94 922,95 924.5,96.8 C927,98.5 928.8,100.5 930,102.8 C931.5,105.5 933,108.5 934.4,111.6 C935.8,114 937.2,116.8 938.3,119.3 C939,121.5 939.6,123.5 939.9,125.9 C941,127 942.2,128 943.2,129.2 C944.8,130.5 946.3,131.8 947.6,133.6 C946.8,134.8 945.5,135.3 944.3,135.3 C943,135.2 942,135 941,134.7 C941,136.5 940.7,138.4 939.9,140.2 C939,142.3 938,144 936.6,145.7 C934.5,147.6 932.3,149 930,149.6 C927.5,150 924.8,149.8 922.3,149 C917.5,146.5 912.5,143.3 908,140.2 C904.5,137.8 900.5,135.2 897,132.5 C894,130 891,127.3 888.2,124.8 C887.5,124 886.7,123.3 886,122.6 C883,124.5 880.8,126.8 879.4,129.2 C880,132 881.2,135 881.6,138 C882,141 882,144 881.6,146.8 C881,149 880.4,151.3 879.4,153.4 C878.2,155 876.5,155.8 875,155.6 C873.5,155 872.3,153.8 871.7,152.3 C871.3,150.5 871.5,148.6 871.7,146.8 C871.7,144 871.2,141 870.6,138 C870,134.3 869.2,130.5 868.4,127 C867.8,124 867,121 866.2,118.2 C864.3,114.8 862,111.4 859.6,108.3 C857.5,105.8 855.3,103.5 853,101.7 C850.8,100.1 848.6,98.6 846.4,97.3 C845.6,97.6 844.9,98 844.2,98.4 C844.5,102 844.6,105.8 844.2,109.4 C843.8,111.2 843,112.8 842,113.8 C840.3,114.2 838.2,113.6 836.5,112.7 C834.5,111.3 833,109.3 832.1,107.2 C831.6,105.8 831.6,104.2 832.1,102.8 C832.7,99.8 833.5,96.9 834.3,94 C835,91.8 835.7,89.6 836.5,87.4 C837.3,85.2 838,83 838.7,80.8 C839.1,79 839.5,77.1 839.8,75.3 C841.2,72.8 842.4,70.5 843.7,68.2 Z" fill="#d5949c" stroke="#1a1a1a" stroke-width="2.1"/>
<path d="M847,79.5 L849.5,76.5 M845.5,83 L848.5,80 M845,86.5 L848,84 M851,90 C854,93 856.5,96 858.5,99 M872.5,92 C873.5,96 875,100 876.5,103.5 M886,88 C883,92 881,96 879.5,100 M893,99 C891,102 889.5,105.5 889,109 M876,112 C880,115 883,118 886,121 M890.5,111.5 C893,110.5 896,110 898.5,111 M889.5,115.5 L891,118 M924.5,138 C928,139 931,141.5 932.5,145 M932,133 C934.5,135.5 936.5,138.5 937,142" fill="none" stroke="#2a2020" stroke-width="1.1"/>
<circle cx="915.2" cy="131.8" r="4.6" fill="#9b8089" opacity="0.9"/>
<path d="M912.5,130.5 L917.5,131" stroke="#3a2a30" stroke-width="1.1" fill="none"/>
<ellipse cx="935.5" cy="119" rx="1.7" ry="2.6" fill="#a08890"/>
<circle cx="916.8" cy="116" r="14.3" fill="none" stroke="#2a2020" stroke-width="1.1" stroke-dasharray="3.2,2.4"/>
<path d="M920,131.5 L936,133.5" fill="none" stroke="#2a2020" stroke-width="1.1" stroke-dasharray="3,2.4"/>
</g>
<g transform="translate(537.2,300.8) scale(0.672) translate(-824.3,-53.3)" stroke-linejoin="round" stroke-linecap="round">
<path d="M841.5,72 C840.5,66 838.5,60.5 835,56.5 C832.5,54 829,53.5 826.5,55.5 C824.5,57 824.3,59 825.2,60.3" fill="none" stroke="#1a1a1a" stroke-width="4.43"/>
<path d="M841.5,72 C840.5,66 838.5,60.5 835,56.5 C832.5,54 829,53.5 826.5,55.5 C824.5,57 824.3,59 825.2,60.3" fill="none" stroke="#d5949c" stroke-width="2.4"/>
<path d="M843.7,68.2 C846,66.5 849.5,65.5 853,64.9 C857.5,64 862,63 866.2,63.2 C869.5,63.4 872.5,64.5 875,66.5 C876.5,68 877.5,69.5 878.3,70.9 C881.5,74 885,77 888.2,79.7 C891,82.5 894,85.2 897,87.4 C900,89.5 903,91.5 905.8,92.4 C909,93 912.5,93 915.7,93.5 C919,94 922,95 924.5,96.8 C927,98.5 928.8,100.5 930,102.8 C931.5,105.5 933,108.5 934.4,111.6 C935.8,114 937.2,116.8 938.3,119.3 C939,121.5 939.6,123.5 939.9,125.9 C941,127 942.2,128 943.2,129.2 C944.8,130.5 946.3,131.8 947.6,133.6 C946.8,134.8 945.5,135.3 944.3,135.3 C943,135.2 942,135 941,134.7 C941,136.5 940.7,138.4 939.9,140.2 C939,142.3 938,144 936.6,145.7 C934.5,147.6 932.3,149 930,149.6 C927.5,150 924.8,149.8 922.3,149 C917.5,146.5 912.5,143.3 908,140.2 C904.5,137.8 900.5,135.2 897,132.5 C894,130 891,127.3 888.2,124.8 C887.5,124 886.7,123.3 886,122.6 C883,124.5 880.8,126.8 879.4,129.2 C880,132 881.2,135 881.6,138 C882,141 882,144 881.6,146.8 C881,149 880.4,151.3 879.4,153.4 C878.2,155 876.5,155.8 875,155.6 C873.5,155 872.3,153.8 871.7,152.3 C871.3,150.5 871.5,148.6 871.7,146.8 C871.7,144 871.2,141 870.6,138 C870,134.3 869.2,130.5 868.4,127 C867.8,124 867,121 866.2,118.2 C864.3,114.8 862,111.4 859.6,108.3 C857.5,105.8 855.3,103.5 853,101.7 C850.8,100.1 848.6,98.6 846.4,97.3 C845.6,97.6 844.9,98 844.2,98.4 C844.5,102 844.6,105.8 844.2,109.4 C843.8,111.2 843,112.8 842,113.8 C840.3,114.2 838.2,113.6 836.5,112.7 C834.5,111.3 833,109.3 832.1,107.2 C831.6,105.8 831.6,104.2 832.1,102.8 C832.7,99.8 833.5,96.9 834.3,94 C835,91.8 835.7,89.6 836.5,87.4 C837.3,85.2 838,83 838.7,80.8 C839.1,79 839.5,77.1 839.8,75.3 C841.2,72.8 842.4,70.5 843.7,68.2 Z" fill="#d5949c" stroke="#1a1a1a" stroke-width="1.5"/>
<path d="M847,79.5 L849.5,76.5 M845.5,83 L848.5,80 M845,86.5 L848,84 M851,90 C854,93 856.5,96 858.5,99 M872.5,92 C873.5,96 875,100 876.5,103.5 M886,88 C883,92 881,96 879.5,100 M893,99 C891,102 889.5,105.5 889,109 M876,112 C880,115 883,118 886,121 M890.5,111.5 C893,110.5 896,110 898.5,111 M889.5,115.5 L891,118 M924.5,138 C928,139 931,141.5 932.5,145 M932,133 C934.5,135.5 936.5,138.5 937,142" fill="none" stroke="#2a2020" stroke-width="1.1"/>
<circle cx="915.2" cy="131.8" r="4.6" fill="#9b8089" opacity="0.9"/>
<path d="M912.5,130.5 L917.5,131" stroke="#3a2a30" stroke-width="1.1" fill="none"/>
<ellipse cx="935.5" cy="119" rx="1.7" ry="2.6" fill="#a08890"/>
</g>
<g stroke-linejoin="round">
<path d="M200.5,149.2 C190,149.8 178,150.5 168,151 C162,151.3 158,151.6 155.3,151.9 C158,151.2 163,150.5 168,150 C178,149 190,147.8 200.5,146.8 Z" fill="#c9b8ab"/>
<path d="M200.8,146.2 C190,147.2 178,148.6 168,149.6 C162,150.3 158,151 155.3,151.9" fill="none" stroke="#c9b8ab" stroke-width="2.2" stroke-linecap="round"/>
<path d="M200.5,152 L199.8,158.5 C199.5,160.5 200,161.8 201.5,161.8 L207,161.8 C207.5,160.8 206.5,160 205,159.6 L204.5,153 Z" fill="#8a6f66"/>
<path d="M262,154 L263.5,160.5 C264,162.5 265.5,163.5 267.5,163.5 L272.5,163.8 C272.8,162.8 271.5,162 270,161.8 L268,155 Z" fill="#8a6f66"/>
<path d="M251,156 L252,161.5 C252.5,163.2 254,164 256,164 L260.5,164.2 C260.8,163.2 259.8,162.6 258.5,162.3 L256.8,156.5 Z" fill="#7a625a"/>
<path d="M200.1,149.5 C199.6,141.5 205,133 213,127.2 C220.5,121.8 231,118.3 240,118.6 C246,119 251.5,121.3 256.5,123.5 L270,122.3 L276.3,115 C277.4,117.5 277.9,122 277.6,125.6 C282.5,129.5 287.5,135.5 291.5,142.8 C291,145 289,146.6 286.5,147.3 C281.5,148.8 276,149.6 271.5,151 C267.5,152.8 264.5,155.5 260,157.6 C254,159.3 246,159.6 238,159.7 C230,159.8 222,159.7 215,159.1 C208.5,158.4 203.5,156.6 201.2,154 C200.5,152.6 200.2,151 200.1,149.5 Z" fill="#46443b"/>
<path d="M226,124.5 C232,122 238,121.5 243,123 C238,124 233,126 230,130 C232,133 230,137 227,139 C228,135 227,130 226,124.5 Z" fill="#5e5c55" opacity="0.8"/>
<ellipse cx="262" cy="125.6" rx="4.6" ry="7.8" transform="rotate(14 262 125.6)" fill="#b7a596"/>
<ellipse cx="262.8" cy="125.2" rx="2.6" ry="5.2" transform="rotate(14 262.8 125.2)" fill="#d8bcbc"/>
<circle cx="276.3" cy="134.6" r="1.6" fill="#111"/>
<circle cx="290.8" cy="144.2" r="1.1" fill="#e9b6bf"/>
</g>
<g transform="translate(104.8,211.6) rotate(-25.1)">
<rect x="0" y="-1.7" width="25" height="3.4" fill="#f6f6f6" stroke="#3a3a3a" stroke-width="0.6"/>
<ellipse cx="0.6" cy="0" rx="1.5" ry="4.4" fill="#8a8a8a" stroke="#222" stroke-width="0.7"/>
<rect x="24.6" y="-3.1" width="71" height="6.2" fill="#fafafa" stroke="#333" stroke-width="0.7"/>
<rect x="38" y="-3.1" width="42" height="2.1" fill="#1e1e1e"/>
<path d="M40.0,-1 L40.0,1.2 M44.2,-1 L44.2,1.2 M48.4,-1 L48.4,1.2 M52.6,-1 L52.6,1.2 M56.8,-1 L56.8,1.2 M61.0,-1 L61.0,1.2 M65.2,-1 L65.2,1.2 M69.4,-1 L69.4,1.2 M73.6,-1 L73.6,1.2 M77.8,-1 L77.8,1.2  M26,1.6 L80,1.6" stroke="#555" stroke-width="0.5" fill="none"/>
<rect x="77.5" y="-3.1" width="6" height="6.2" fill="#333"/>
<rect x="83.5" y="-2.7" width="12" height="5.4" fill="#cfeaea" stroke="#333" stroke-width="0.5"/>
<ellipse cx="24.6" cy="0" rx="1.4" ry="6.6" fill="#a0a0a0" stroke="#333" stroke-width="0.7"/>
<path d="M95.5,-3.4 L112,-2.4 L114,-1 L114,1 L112,2.4 L95.5,3.4 Z" fill="#e8873a" stroke="#5a3010" stroke-width="0.6"/>
<path d="M99,-1 L109,-0.6 M99,1 L109,0.6" stroke="#7a3a10" stroke-width="0.7"/>
<line x1="114" y1="0" x2="127.6" y2="0" stroke="#222" stroke-width="1"/>
</g>
<defs><linearGradient id="geob" x1="0" y1="405" x2="0" y2="472" gradientUnits="userSpaceOnUse"><stop offset="0" stop-color="#5fa8da"/><stop offset="1" stop-color="#2c64a3"/></linearGradient></defs>
<text x="109" y="472.5" font-size="86" letter-spacing="-13" stroke-width="1.4" stroke-linejoin="round" fill="#e6c24c" stroke="#e6c24c">GEO</text>
<text x="106" y="469.5" font-size="86" letter-spacing="-13" stroke-width="1.4" stroke-linejoin="round" fill="url(#geob)" stroke="url(#geob)">GEO</text>
<text x="86.5" y="494" font-size="16.2" font-weight="bold" fill="#4b8fc3" letter-spacing="-0.2">Gene Expression Omnibus</text>
<defs><linearGradient id="ngr" x1="800" y1="0" x2="885" y2="0" gradientUnits="userSpaceOnUse"><stop offset="0" stop-color="#4f92d2"/><stop offset="0.45" stop-color="#8fc0e8"/><stop offset="0.75" stop-color="#c2def3"/><stop offset="1" stop-color="#e2f0fa"/></linearGradient><linearGradient id="ngr2" x1="910" y1="0" x2="962" y2="0" gradientUnits="userSpaceOnUse"><stop offset="0" stop-color="#4f92d2"/><stop offset="0.5" stop-color="#8fc0e8"/><stop offset="1" stop-color="#d8ebf8"/></linearGradient><linearGradient id="nuc" x1="0" y1="0" x2="1" y2="1"><stop offset="0" stop-color="#4a4a4a"/><stop offset="0.6" stop-color="#bdbdbd"/><stop offset="1" stop-color="#eeeeee"/></linearGradient></defs>
<g transform="translate(0,0)">
<path d="M855,328 C870,333 885,340 896.5,351 C905,358 914,367 920,373 C925,379 929,383 931.7,385.2 C937,389 944,391.5 950.4,392.3" fill="none" stroke="#1d2935" stroke-width="3.0" stroke-linecap="round"/>
<path d="M855,328 C870,333 885,340 896.5,351 C905,358 914,367 920,373 C925,379 929,383 931.7,385.2 C937,389 944,391.5 950.4,392.3" fill="none" stroke="#5a9ad6" stroke-width="1.4" stroke-linecap="round"/>
<path d="M826.00,328.00 a16.00,14.50 0 1 0 32.00,0 a16.00,14.50 0 1 0 -32.00,0 Z" fill="#1d2935" stroke="#1d2935" stroke-width="1.20" stroke-linejoin="round"/>
<path d="M827.63,316.48 L826.77,315.98 L825.64,315.30 L824.28,314.49 L822.75,313.58 L821.13,312.63 L819.47,311.67 L817.82,310.73 L816.25,309.88 L814.73,309.08 L813.18,308.28 L811.61,307.50 L810.03,306.73 L808.46,305.98 L806.90,305.24 L805.37,304.51 L803.88,303.81 L802.34,303.09 L800.72,302.35 L799.07,301.61 L797.47,300.89 L795.96,300.23 L794.61,299.63 L793.48,299.13 L792.62,298.75 L791.38,301.25 L792.20,301.71 L793.30,302.30 L794.59,303.01 L796.03,303.79 L797.56,304.63 L799.13,305.50 L800.67,306.36 L802.12,307.19 L803.55,308.01 L805.00,308.85 L806.48,309.71 L807.97,310.58 L809.45,311.46 L810.92,312.35 L812.35,313.24 L813.75,314.12 L815.18,315.06 L816.69,316.09 L818.23,317.16 L819.75,318.23 L821.17,319.24 L822.46,320.16 L823.55,320.94 L824.37,321.52 Z" fill="#1d2935" stroke="#1d2935" stroke-width="1.20" stroke-linejoin="round"/>
<path d="M792.67,300.06 L792.39,299.70 L791.99,299.19 L791.51,298.58 L791.00,297.92 L790.48,297.26 L790.01,296.65 L789.61,296.14 L789.33,295.78 L788.67,296.22 L788.89,296.62 L789.21,297.18 L789.59,297.85 L790.00,298.58 L790.41,299.31 L790.79,299.98 L791.11,300.55 L791.33,300.94 Z" fill="#1d2935" stroke="#1d2935" stroke-width="1.20" stroke-linejoin="round"/>
<path d="M791.67,299.88 L791.42,300.05 L791.05,300.29 L790.62,300.58 L790.15,300.89 L789.69,301.20 L789.25,301.48 L788.89,301.72 L788.64,301.89 L788.96,302.51 L789.25,302.39 L789.65,302.23 L790.13,302.03 L790.65,301.81 L791.17,301.60 L791.65,301.40 L792.05,301.23 L792.33,301.12 Z" fill="#1d2935" stroke="#1d2935" stroke-width="1.20" stroke-linejoin="round"/>
<path d="M841.00,315.92 L840.84,314.51 L840.64,312.61 L840.39,310.33 L840.11,307.81 L839.82,305.18 L839.53,302.57 L839.24,300.11 L838.97,297.91 L838.70,295.86 L838.40,293.78 L838.10,291.74 L837.80,289.77 L837.52,287.95 L837.27,286.34 L837.06,284.98 L836.90,283.93 L834.70,284.07 L834.67,285.13 L834.64,286.51 L834.59,288.14 L834.55,289.98 L834.49,291.95 L834.41,294.00 L834.33,296.06 L834.23,298.09 L834.11,300.26 L833.95,302.71 L833.77,305.31 L833.59,307.94 L833.41,310.46 L833.24,312.74 L833.10,314.66 L833.00,316.08 Z" fill="#1d2935" stroke="#1d2935" stroke-width="1.20" stroke-linejoin="round"/>
<path d="M837.29,297.24 L836.77,296.74 L836.06,296.04 L835.21,295.21 L834.27,294.29 L833.28,293.35 L832.29,292.43 L831.33,291.61 L830.46,290.92 L829.62,290.35 L828.77,289.86 L827.92,289.43 L827.11,289.05 L826.35,288.73 L825.69,288.46 L825.14,288.24 L824.72,288.05 L824.28,288.95 L824.70,289.18 L825.24,289.45 L825.88,289.77 L826.58,290.13 L827.33,290.55 L828.08,291.01 L828.83,291.52 L829.54,292.08 L830.29,292.77 L831.13,293.63 L832.02,294.59 L832.92,295.59 L833.78,296.56 L834.56,297.46 L835.22,298.21 L835.71,298.76 Z" fill="#1d2935" stroke="#1d2935" stroke-width="1.20" stroke-linejoin="round"/>
<path d="M836.34,284.64 L836.19,284.45 L835.97,284.19 L835.70,283.87 L835.42,283.52 L835.13,283.18 L834.87,282.86 L834.65,282.59 L834.49,282.41 L833.91,282.79 L834.02,283.01 L834.18,283.32 L834.38,283.68 L834.58,284.08 L834.79,284.47 L834.98,284.84 L835.15,285.15 L835.26,285.36 Z" fill="#1d2935" stroke="#1d2935" stroke-width="1.20" stroke-linejoin="round"/>
<path d="M836.41,285.40 L836.54,285.20 L836.71,284.91 L836.92,284.57 L837.15,284.21 L837.37,283.84 L837.58,283.50 L837.75,283.21 L837.88,283.01 L837.32,282.59 L837.16,282.76 L836.93,283.00 L836.65,283.28 L836.35,283.59 L836.06,283.91 L835.78,284.19 L835.55,284.43 L835.39,284.60 Z" fill="#1d2935" stroke="#1d2935" stroke-width="1.20" stroke-linejoin="round"/>
<path d="M851.92,320.92 L852.66,320.32 L853.66,319.49 L854.84,318.51 L856.14,317.43 L857.48,316.32 L858.81,315.24 L860.06,314.24 L861.14,313.40 L862.14,312.66 L863.16,311.93 L864.17,311.24 L865.14,310.58 L866.05,309.99 L866.87,309.46 L867.56,309.01 L868.10,308.65 L866.90,306.35 L866.31,306.57 L865.55,306.86 L864.64,307.21 L863.61,307.60 L862.48,308.05 L861.30,308.53 L860.08,309.05 L858.86,309.60 L857.55,310.23 L856.07,310.96 L854.50,311.76 L852.93,312.57 L851.42,313.35 L850.05,314.06 L848.91,314.65 L848.08,315.08 Z" fill="#1d2935" stroke="#1d2935" stroke-width="1.20" stroke-linejoin="round"/>
<path d="M868.70,307.95 L868.63,307.08 L868.55,305.91 L868.45,304.50 L868.34,302.96 L868.21,301.34 L868.09,299.75 L867.97,298.26 L867.85,296.95 L867.73,295.74 L867.60,294.54 L867.46,293.36 L867.32,292.25 L867.19,291.22 L867.07,290.30 L866.97,289.54 L866.90,288.94 L865.70,289.06 L865.74,289.66 L865.79,290.43 L865.85,291.35 L865.92,292.38 L865.98,293.49 L866.05,294.67 L866.10,295.86 L866.15,297.05 L866.18,298.35 L866.21,299.84 L866.23,301.43 L866.25,303.04 L866.27,304.59 L866.28,306.00 L866.29,307.18 L866.30,308.05 Z" fill="#1d2935" stroke="#1d2935" stroke-width="1.20" stroke-linejoin="round"/>
<path d="M867.48,301.75 L868.01,301.53 L868.71,301.24 L869.53,300.89 L870.45,300.51 L871.41,300.11 L872.38,299.72 L873.31,299.37 L874.17,299.07 L875.02,298.80 L875.93,298.54 L876.86,298.30 L877.78,298.07 L878.65,297.86 L879.43,297.67 L880.09,297.51 L880.59,297.39 L880.41,296.61 L879.91,296.70 L879.25,296.82 L878.46,296.96 L877.57,297.12 L876.63,297.30 L875.67,297.50 L874.73,297.71 L873.83,297.93 L872.92,298.20 L871.94,298.50 L870.94,298.84 L869.94,299.18 L869.00,299.51 L868.15,299.82 L867.45,300.07 L866.92,300.25 Z" fill="#1d2935" stroke="#1d2935" stroke-width="1.20" stroke-linejoin="round"/>
<path d="M866.10,309.31 L866.77,309.62 L867.66,310.02 L868.71,310.48 L869.86,311.00 L871.08,311.58 L872.32,312.20 L873.51,312.86 L874.61,313.55 L875.73,314.34 L876.94,315.30 L878.19,316.34 L879.43,317.41 L880.60,318.46 L881.66,319.41 L882.56,320.21 L883.23,320.80 L883.77,320.20 L883.13,319.59 L882.28,318.75 L881.27,317.75 L880.13,316.65 L878.93,315.50 L877.71,314.38 L876.52,313.35 L875.39,312.45 L874.25,311.67 L873.04,310.92 L871.79,310.21 L870.57,309.56 L869.42,308.97 L868.39,308.46 L867.54,308.03 L866.90,307.69 Z" fill="#1d2935" stroke="#1d2935" stroke-width="1.20" stroke-linejoin="round"/>
<path d="M829.87,334.16 L829.01,334.56 L827.86,335.11 L826.53,335.75 L825.08,336.44 L823.59,337.14 L822.13,337.78 L820.80,338.33 L819.70,338.72 L818.71,338.98 L817.65,339.17 L816.56,339.29 L815.49,339.35 L814.48,339.37 L813.55,339.38 L812.75,339.38 L812.11,339.41 L811.89,341.59 L812.45,341.74 L813.18,341.96 L814.09,342.23 L815.13,342.53 L816.30,342.81 L817.56,343.05 L818.90,343.22 L820.30,343.28 L821.81,343.22 L823.46,343.07 L825.19,342.86 L826.92,342.62 L828.57,342.37 L830.05,342.14 L831.25,341.95 L832.13,341.84 Z" fill="#1d2935" stroke="#1d2935" stroke-width="1.20" stroke-linejoin="round"/>
<path d="M818.11,340.54 L817.89,341.01 L817.59,341.63 L817.23,342.38 L816.84,343.22 L816.43,344.10 L816.02,345.00 L815.64,345.89 L815.31,346.71 L815.02,347.54 L814.74,348.42 L814.48,349.31 L814.24,350.19 L814.01,351.02 L813.82,351.76 L813.65,352.38 L813.52,352.85 L814.48,353.15 L814.64,352.69 L814.86,352.08 L815.11,351.36 L815.39,350.56 L815.70,349.71 L816.02,348.86 L816.35,348.04 L816.69,347.29 L817.05,346.53 L817.48,345.71 L817.94,344.87 L818.41,344.03 L818.87,343.24 L819.28,342.52 L819.63,341.92 L819.89,341.46 Z" fill="#1d2935" stroke="#1d2935" stroke-width="1.20" stroke-linejoin="round"/>
<path d="M840.77,339.59 L840.75,341.16 L840.72,343.25 L840.69,345.74 L840.66,348.50 L840.62,351.40 L840.57,354.32 L840.51,357.13 L840.45,359.71 L840.36,362.24 L840.26,364.92 L840.14,367.65 L840.01,370.33 L839.89,372.85 L839.77,375.12 L839.68,377.03 L839.61,378.47 L841.59,378.73 L841.90,377.32 L842.31,375.46 L842.80,373.24 L843.34,370.77 L843.91,368.14 L844.49,365.45 L845.04,362.80 L845.55,360.29 L846.05,357.73 L846.58,354.94 L847.12,352.05 L847.64,349.18 L848.13,346.45 L848.58,344.00 L848.95,341.95 L849.23,340.41 Z" fill="#1d2935" stroke="#1d2935" stroke-width="1.20" stroke-linejoin="round"/>
<path d="M842.42,364.63 L842.81,365.08 L843.33,365.67 L843.95,366.38 L844.63,367.16 L845.35,367.99 L846.07,368.84 L846.76,369.67 L847.40,370.45 L848.01,371.24 L848.67,372.11 L849.34,373.02 L849.99,373.92 L850.61,374.77 L851.17,375.54 L851.63,376.19 L851.99,376.68 L852.81,376.12 L852.49,375.61 L852.07,374.94 L851.57,374.13 L851.01,373.23 L850.41,372.29 L849.79,371.33 L849.18,370.41 L848.60,369.55 L848.01,368.71 L847.36,367.82 L846.69,366.92 L846.02,366.04 L845.38,365.21 L844.81,364.46 L844.33,363.84 L843.98,363.37 Z" fill="#1d2935" stroke="#1d2935" stroke-width="1.20" stroke-linejoin="round"/>
<path d="M853.57,339.64 L854.92,340.26 L856.73,341.11 L858.91,342.14 L861.33,343.27 L863.89,344.45 L866.48,345.60 L868.98,346.66 L871.29,347.58 L873.56,348.37 L875.95,349.13 L878.36,349.84 L880.71,350.49 L882.92,351.08 L884.90,351.59 L886.55,352.02 L887.80,352.37 L888.20,351.23 L886.99,350.72 L885.40,350.07 L883.51,349.30 L881.42,348.44 L879.20,347.49 L876.94,346.49 L874.75,345.46 L872.71,344.42 L870.63,343.27 L868.37,341.93 L866.01,340.48 L863.67,339.00 L861.44,337.57 L859.42,336.27 L857.72,335.17 L856.43,334.36 Z" fill="#1d2935" stroke="#1d2935" stroke-width="1.20" stroke-linejoin="round"/>
<path d="M865.20,345.06 L865.25,345.52 L865.32,346.14 L865.40,346.86 L865.49,347.67 L865.58,348.52 L865.67,349.38 L865.74,350.23 L865.80,351.01 L865.83,351.81 L865.86,352.68 L865.88,353.57 L865.89,354.46 L865.89,355.31 L865.89,356.07 L865.90,356.71 L865.90,357.19 L866.70,357.21 L866.73,356.73 L866.77,356.09 L866.81,355.33 L866.86,354.49 L866.91,353.59 L866.96,352.69 L866.99,351.81 L867.00,350.99 L867.00,350.17 L866.98,349.31 L866.95,348.42 L866.92,347.56 L866.88,346.74 L866.85,346.01 L866.82,345.40 L866.80,344.94 Z" fill="#1d2935" stroke="#1d2935" stroke-width="1.20" stroke-linejoin="round"/>
<path d="M873.21,348.13 L873.27,348.43 L873.36,348.82 L873.46,349.28 L873.56,349.79 L873.68,350.34 L873.79,350.92 L873.89,351.49 L873.98,352.06 L874.06,352.67 L874.14,353.37 L874.21,354.12 L874.29,354.88 L874.35,355.60 L874.41,356.26 L874.46,356.81 L874.50,357.22 L875.30,357.18 L875.30,356.77 L875.29,356.22 L875.29,355.56 L875.29,354.82 L875.28,354.06 L875.27,353.30 L875.25,352.58 L875.22,351.94 L875.18,351.34 L875.13,350.73 L875.06,350.13 L875.00,349.56 L874.93,349.03 L874.87,348.56 L874.82,348.17 L874.79,347.87 Z" fill="#1d2935" stroke="#1d2935" stroke-width="1.20" stroke-linejoin="round"/>
<path d="M826.00,328.00 a16.00,14.50 0 1 0 32.00,0 a16.00,14.50 0 1 0 -32.00,0 Z" fill="url(#ngr)"/>
<path d="M827.63,316.48 L826.77,315.98 L825.64,315.30 L824.28,314.49 L822.75,313.58 L821.13,312.63 L819.47,311.67 L817.82,310.73 L816.25,309.88 L814.73,309.08 L813.18,308.28 L811.61,307.50 L810.03,306.73 L808.46,305.98 L806.90,305.24 L805.37,304.51 L803.88,303.81 L802.34,303.09 L800.72,302.35 L799.07,301.61 L797.47,300.89 L795.96,300.23 L794.61,299.63 L793.48,299.13 L792.62,298.75 L791.38,301.25 L792.20,301.71 L793.30,302.30 L794.59,303.01 L796.03,303.79 L797.56,304.63 L799.13,305.50 L800.67,306.36 L802.12,307.19 L803.55,308.01 L805.00,308.85 L806.48,309.71 L807.97,310.58 L809.45,311.46 L810.92,312.35 L812.35,313.24 L813.75,314.12 L815.18,315.06 L816.69,316.09 L818.23,317.16 L819.75,318.23 L821.17,319.24 L822.46,320.16 L823.55,320.94 L824.37,321.52 Z" fill="url(#ngr)"/>
<path d="M792.67,300.06 L792.39,299.70 L791.99,299.19 L791.51,298.58 L791.00,297.92 L790.48,297.26 L790.01,296.65 L789.61,296.14 L789.33,295.78 L788.67,296.22 L788.89,296.62 L789.21,297.18 L789.59,297.85 L790.00,298.58 L790.41,299.31 L790.79,299.98 L791.11,300.55 L791.33,300.94 Z" fill="url(#ngr)"/>
<path d="M791.67,299.88 L791.42,300.05 L791.05,300.29 L790.62,300.58 L790.15,300.89 L789.69,301.20 L789.25,301.48 L788.89,301.72 L788.64,301.89 L788.96,302.51 L789.25,302.39 L789.65,302.23 L790.13,302.03 L790.65,301.81 L791.17,301.60 L791.65,301.40 L792.05,301.23 L792.33,301.12 Z" fill="url(#ngr)"/>
<path d="M841.00,315.92 L840.84,314.51 L840.64,312.61 L840.39,310.33 L840.11,307.81 L839.82,305.18 L839.53,302.57 L839.24,300.11 L838.97,297.91 L838.70,295.86 L838.40,293.78 L838.10,291.74 L837.80,289.77 L837.52,287.95 L837.27,286.34 L837.06,284.98 L836.90,283.93 L834.70,284.07 L834.67,285.13 L834.64,286.51 L834.59,288.14 L834.55,289.98 L834.49,291.95 L834.41,294.00 L834.33,296.06 L834.23,298.09 L834.11,300.26 L833.95,302.71 L833.77,305.31 L833.59,307.94 L833.41,310.46 L833.24,312.74 L833.10,314.66 L833.00,316.08 Z" fill="url(#ngr)"/>
<path d="M837.29,297.24 L836.77,296.74 L836.06,296.04 L835.21,295.21 L834.27,294.29 L833.28,293.35 L832.29,292.43 L831.33,291.61 L830.46,290.92 L829.62,290.35 L828.77,289.86 L827.92,289.43 L827.11,289.05 L826.35,288.73 L825.69,288.46 L825.14,288.24 L824.72,288.05 L824.28,288.95 L824.70,289.18 L825.24,289.45 L825.88,289.77 L826.58,290.13 L827.33,290.55 L828.08,291.01 L828.83,291.52 L829.54,292.08 L830.29,292.77 L831.13,293.63 L832.02,294.59 L832.92,295.59 L833.78,296.56 L834.56,297.46 L835.22,298.21 L835.71,298.76 Z" fill="url(#ngr)"/>
<path d="M836.34,284.64 L836.19,284.45 L835.97,284.19 L835.70,283.87 L835.42,283.52 L835.13,283.18 L834.87,282.86 L834.65,282.59 L834.49,282.41 L833.91,282.79 L834.02,283.01 L834.18,283.32 L834.38,283.68 L834.58,284.08 L834.79,284.47 L834.98,284.84 L835.15,285.15 L835.26,285.36 Z" fill="url(#ngr)"/>
<path d="M836.41,285.40 L836.54,285.20 L836.71,284.91 L836.92,284.57 L837.15,284.21 L837.37,283.84 L837.58,283.50 L837.75,283.21 L837.88,283.01 L837.32,282.59 L837.16,282.76 L836.93,283.00 L836.65,283.28 L836.35,283.59 L836.06,283.91 L835.78,284.19 L835.55,284.43 L835.39,284.60 Z" fill="url(#ngr)"/>
<path d="M851.92,320.92 L852.66,320.32 L853.66,319.49 L854.84,318.51 L856.14,317.43 L857.48,316.32 L858.81,315.24 L860.06,314.24 L861.14,313.40 L862.14,312.66 L863.16,311.93 L864.17,311.24 L865.14,310.58 L866.05,309.99 L866.87,309.46 L867.56,309.01 L868.10,308.65 L866.90,306.35 L866.31,306.57 L865.55,306.86 L864.64,307.21 L863.61,307.60 L862.48,308.05 L861.30,308.53 L860.08,309.05 L858.86,309.60 L857.55,310.23 L856.07,310.96 L854.50,311.76 L852.93,312.57 L851.42,313.35 L850.05,314.06 L848.91,314.65 L848.08,315.08 Z" fill="url(#ngr)"/>
<path d="M868.70,307.95 L868.63,307.08 L868.55,305.91 L868.45,304.50 L868.34,302.96 L868.21,301.34 L868.09,299.75 L867.97,298.26 L867.85,296.95 L867.73,295.74 L867.60,294.54 L867.46,293.36 L867.32,292.25 L867.19,291.22 L867.07,290.30 L866.97,289.54 L866.90,288.94 L865.70,289.06 L865.74,289.66 L865.79,290.43 L865.85,291.35 L865.92,292.38 L865.98,293.49 L866.05,294.67 L866.10,295.86 L866.15,297.05 L866.18,298.35 L866.21,299.84 L866.23,301.43 L866.25,303.04 L866.27,304.59 L866.28,306.00 L866.29,307.18 L866.30,308.05 Z" fill="url(#ngr)"/>
<path d="M867.48,301.75 L868.01,301.53 L868.71,301.24 L869.53,300.89 L870.45,300.51 L871.41,300.11 L872.38,299.72 L873.31,299.37 L874.17,299.07 L875.02,298.80 L875.93,298.54 L876.86,298.30 L877.78,298.07 L878.65,297.86 L879.43,297.67 L880.09,297.51 L880.59,297.39 L880.41,296.61 L879.91,296.70 L879.25,296.82 L878.46,296.96 L877.57,297.12 L876.63,297.30 L875.67,297.50 L874.73,297.71 L873.83,297.93 L872.92,298.20 L871.94,298.50 L870.94,298.84 L869.94,299.18 L869.00,299.51 L868.15,299.82 L867.45,300.07 L866.92,300.25 Z" fill="url(#ngr)"/>
<path d="M866.10,309.31 L866.77,309.62 L867.66,310.02 L868.71,310.48 L869.86,311.00 L871.08,311.58 L872.32,312.20 L873.51,312.86 L874.61,313.55 L875.73,314.34 L876.94,315.30 L878.19,316.34 L879.43,317.41 L880.60,318.46 L881.66,319.41 L882.56,320.21 L883.23,320.80 L883.77,320.20 L883.13,319.59 L882.28,318.75 L881.27,317.75 L880.13,316.65 L878.93,315.50 L877.71,314.38 L876.52,313.35 L875.39,312.45 L874.25,311.67 L873.04,310.92 L871.79,310.21 L870.57,309.56 L869.42,308.97 L868.39,308.46 L867.54,308.03 L866.90,307.69 Z" fill="url(#ngr)"/>
<path d="M829.87,334.16 L829.01,334.56 L827.86,335.11 L826.53,335.75 L825.08,336.44 L823.59,337.14 L822.13,337.78 L820.80,338.33 L819.70,338.72 L818.71,338.98 L817.65,339.17 L816.56,339.29 L815.49,339.35 L814.48,339.37 L813.55,339.38 L812.75,339.38 L812.11,339.41 L811.89,341.59 L812.45,341.74 L813.18,341.96 L814.09,342.23 L815.13,342.53 L816.30,342.81 L817.56,343.05 L818.90,343.22 L820.30,343.28 L821.81,343.22 L823.46,343.07 L825.19,342.86 L826.92,342.62 L828.57,342.37 L830.05,342.14 L831.25,341.95 L832.13,341.84 Z" fill="url(#ngr)"/>
<path d="M818.11,340.54 L817.89,341.01 L817.59,341.63 L817.23,342.38 L816.84,343.22 L816.43,344.10 L816.02,345.00 L815.64,345.89 L815.31,346.71 L815.02,347.54 L814.74,348.42 L814.48,349.31 L814.24,350.19 L814.01,351.02 L813.82,351.76 L813.65,352.38 L813.52,352.85 L814.48,353.15 L814.64,352.69 L814.86,352.08 L815.11,351.36 L815.39,350.56 L815.70,349.71 L816.02,348.86 L816.35,348.04 L816.69,347.29 L817.05,346.53 L817.48,345.71 L817.94,344.87 L818.41,344.03 L818.87,343.24 L819.28,342.52 L819.63,341.92 L819.89,341.46 Z" fill="url(#ngr)"/>
<path d="M840.77,339.59 L840.75,341.16 L840.72,343.25 L840.69,345.74 L840.66,348.50 L840.62,351.40 L840.57,354.32 L840.51,357.13 L840.45,359.71 L840.36,362.24 L840.26,364.92 L840.14,367.65 L840.01,370.33 L839.89,372.85 L839.77,375.12 L839.68,377.03 L839.61,378.47 L841.59,378.73 L841.90,377.32 L842.31,375.46 L842.80,373.24 L843.34,370.77 L843.91,368.14 L844.49,365.45 L845.04,362.80 L845.55,360.29 L846.05,357.73 L846.58,354.94 L847.12,352.05 L847.64,349.18 L848.13,346.45 L848.58,344.00 L848.95,341.95 L849.23,340.41 Z" fill="url(#ngr)"/>
<path d="M842.42,364.63 L842.81,365.08 L843.33,365.67 L843.95,366.38 L844.63,367.16 L845.35,367.99 L846.07,368.84 L846.76,369.67 L847.40,370.45 L848.01,371.24 L848.67,372.11 L849.34,373.02 L849.99,373.92 L850.61,374.77 L851.17,375.54 L851.63,376.19 L851.99,376.68 L852.81,376.12 L852.49,375.61 L852.07,374.94 L851.57,374.13 L851.01,373.23 L850.41,372.29 L849.79,371.33 L849.18,370.41 L848.60,369.55 L848.01,368.71 L847.36,367.82 L846.69,366.92 L846.02,366.04 L845.38,365.21 L844.81,364.46 L844.33,363.84 L843.98,363.37 Z" fill="url(#ngr)"/>
<path d="M853.57,339.64 L854.92,340.26 L856.73,341.11 L858.91,342.14 L861.33,343.27 L863.89,344.45 L866.48,345.60 L868.98,346.66 L871.29,347.58 L873.56,348.37 L875.95,349.13 L878.36,349.84 L880.71,350.49 L882.92,351.08 L884.90,351.59 L886.55,352.02 L887.80,352.37 L888.20,351.23 L886.99,350.72 L885.40,350.07 L883.51,349.30 L881.42,348.44 L879.20,347.49 L876.94,346.49 L874.75,345.46 L872.71,344.42 L870.63,343.27 L868.37,341.93 L866.01,340.48 L863.67,339.00 L861.44,337.57 L859.42,336.27 L857.72,335.17 L856.43,334.36 Z" fill="url(#ngr)"/>
<path d="M865.20,345.06 L865.25,345.52 L865.32,346.14 L865.40,346.86 L865.49,347.67 L865.58,348.52 L865.67,349.38 L865.74,350.23 L865.80,351.01 L865.83,351.81 L865.86,352.68 L865.88,353.57 L865.89,354.46 L865.89,355.31 L865.89,356.07 L865.90,356.71 L865.90,357.19 L866.70,357.21 L866.73,356.73 L866.77,356.09 L866.81,355.33 L866.86,354.49 L866.91,353.59 L866.96,352.69 L866.99,351.81 L867.00,350.99 L867.00,350.17 L866.98,349.31 L866.95,348.42 L866.92,347.56 L866.88,346.74 L866.85,346.01 L866.82,345.40 L866.80,344.94 Z" fill="url(#ngr)"/>
<path d="M873.21,348.13 L873.27,348.43 L873.36,348.82 L873.46,349.28 L873.56,349.79 L873.68,350.34 L873.79,350.92 L873.89,351.49 L873.98,352.06 L874.06,352.67 L874.14,353.37 L874.21,354.12 L874.29,354.88 L874.35,355.60 L874.41,356.26 L874.46,356.81 L874.50,357.22 L875.30,357.18 L875.30,356.77 L875.29,356.22 L875.29,355.56 L875.29,354.82 L875.28,354.06 L875.27,353.30 L875.25,352.58 L875.22,351.94 L875.18,351.34 L875.13,350.73 L875.06,350.13 L875.00,349.56 L874.93,349.03 L874.87,348.56 L874.82,348.17 L874.79,347.87 Z" fill="url(#ngr)"/>
<path d="M854.4,322.5 C860,326 866,329 872,331 C866,331.5 860,332.5 855.5,334.5 C854,331 853.8,326 854.4,322.5 Z" fill="#3d85cc" stroke="#1d2935" stroke-width="0.6"/>
<ellipse cx="842.2" cy="329.2" rx="4.7" ry="6.3" transform="rotate(-12 842.2 329.2)" fill="url(#nuc)" stroke="#222" stroke-width="0.8"/>
<path d="M929.00,414.80 a8.50,9.00 0 1 0 17.00,0 a8.50,9.00 0 1 0 -17.00,0 Z" fill="#1d2935" stroke="#1d2935" stroke-width="1.00" stroke-linejoin="round"/>
<path d="M931.40,407.24 L930.68,406.75 L929.71,406.07 L928.54,405.25 L927.24,404.34 L925.85,403.39 L924.44,402.46 L923.07,401.59 L921.77,400.82 L920.48,400.14 L919.12,399.49 L917.73,398.87 L916.38,398.29 L915.10,397.77 L913.96,397.31 L913.01,396.92 L912.30,396.62 L911.70,397.78 L912.38,398.19 L913.27,398.71 L914.33,399.34 L915.50,400.03 L916.72,400.79 L917.96,401.58 L919.15,402.38 L920.23,403.18 L921.31,404.05 L922.48,405.06 L923.69,406.15 L924.89,407.26 L926.03,408.33 L927.06,409.31 L927.93,410.14 L928.60,410.76 Z" fill="#1d2935" stroke="#1d2935" stroke-width="1.00" stroke-linejoin="round"/>
<path d="M912.47,397.22 L912.31,396.99 L912.09,396.66 L911.81,396.26 L911.52,395.84 L911.22,395.41 L910.95,395.01 L910.72,394.68 L910.56,394.45 L910.04,394.75 L910.17,395.01 L910.34,395.37 L910.55,395.80 L910.78,396.26 L911.01,396.73 L911.22,397.16 L911.40,397.52 L911.53,397.78 Z" fill="#1d2935" stroke="#1d2935" stroke-width="1.00" stroke-linejoin="round"/>
<path d="M911.75,397.07 L911.57,397.20 L911.32,397.38 L911.03,397.59 L910.71,397.83 L910.39,398.06 L910.09,398.28 L909.85,398.46 L909.67,398.58 L909.93,399.02 L910.12,398.92 L910.40,398.79 L910.73,398.64 L911.09,398.47 L911.45,398.31 L911.78,398.15 L912.06,398.02 L912.25,397.93 Z" fill="#1d2935" stroke="#1d2935" stroke-width="1.00" stroke-linejoin="round"/>
<path d="M936.98,407.73 L936.82,406.89 L936.59,405.77 L936.33,404.44 L936.04,402.95 L935.73,401.38 L935.40,399.79 L935.09,398.24 L934.78,396.81 L934.47,395.38 L934.12,393.85 L933.76,392.30 L933.40,390.76 L933.05,389.31 L932.74,388.01 L932.49,386.92 L932.29,386.10 L931.11,386.30 L931.20,387.14 L931.32,388.26 L931.46,389.59 L931.62,391.06 L931.78,392.63 L931.94,394.21 L932.09,395.76 L932.22,397.19 L932.34,398.64 L932.46,400.20 L932.58,401.81 L932.69,403.40 L932.79,404.91 L932.88,406.26 L932.96,407.41 L933.02,408.27 Z" fill="#1d2935" stroke="#1d2935" stroke-width="1.00" stroke-linejoin="round"/>
<path d="M944.79,408.90 L945.05,408.26 L945.40,407.40 L945.82,406.38 L946.29,405.24 L946.78,404.04 L947.27,402.82 L947.74,401.64 L948.16,400.55 L948.56,399.46 L948.97,398.32 L949.38,397.15 L949.77,396.01 L950.14,394.93 L950.47,393.96 L950.74,393.15 L950.95,392.54 L949.85,392.06 L949.54,392.63 L949.14,393.39 L948.66,394.29 L948.13,395.29 L947.56,396.35 L946.98,397.43 L946.40,398.48 L945.84,399.45 L945.27,400.44 L944.63,401.51 L943.96,402.62 L943.29,403.72 L942.65,404.77 L942.07,405.71 L941.58,406.50 L941.21,407.10 Z" fill="#1d2935" stroke="#1d2935" stroke-width="1.00" stroke-linejoin="round"/>
<path d="M945.06,410.39 L945.65,409.88 L946.44,409.18 L947.38,408.35 L948.41,407.43 L949.50,406.47 L950.59,405.53 L951.64,404.63 L952.59,403.84 L953.51,403.09 L954.49,402.33 L955.49,401.57 L956.46,400.84 L957.38,400.15 L958.20,399.54 L958.89,399.03 L959.42,398.64 L958.98,397.96 L958.41,398.28 L957.65,398.68 L956.75,399.17 L955.74,399.71 L954.66,400.30 L953.56,400.92 L952.46,401.54 L951.41,402.16 L950.33,402.83 L949.14,403.57 L947.91,404.36 L946.69,405.16 L945.52,405.92 L944.47,406.61 L943.60,407.18 L942.94,407.61 Z" fill="#1d2935" stroke="#1d2935" stroke-width="1.00" stroke-linejoin="round"/>
<path d="M945.08,412.50 L945.69,412.42 L946.50,412.33 L947.47,412.21 L948.54,412.08 L949.68,411.94 L950.84,411.81 L951.97,411.68 L953.04,411.56 L954.12,411.45 L955.29,411.34 L956.51,411.23 L957.71,411.12 L958.86,411.02 L959.89,410.93 L960.76,410.86 L961.41,410.80 L961.39,410.00 L960.74,409.97 L959.87,409.93 L958.84,409.88 L957.69,409.83 L956.47,409.77 L955.25,409.72 L954.06,409.67 L952.96,409.64 L951.88,409.61 L950.73,409.58 L949.56,409.56 L948.41,409.55 L947.32,409.53 L946.35,409.52 L945.54,409.51 L944.92,409.50 Z" fill="#1d2935" stroke="#1d2935" stroke-width="1.00" stroke-linejoin="round"/>
<path d="M930.87,417.00 L930.47,417.10 L929.93,417.23 L929.29,417.39 L928.59,417.56 L927.87,417.73 L927.16,417.90 L926.51,418.05 L925.97,418.16 L925.50,418.26 L925.04,418.33 L924.59,418.40 L924.18,418.46 L923.79,418.50 L923.45,418.54 L923.16,418.57 L922.93,418.60 L922.87,419.80 L923.09,419.85 L923.37,419.91 L923.71,419.99 L924.10,420.08 L924.53,420.17 L925.00,420.27 L925.50,420.36 L926.03,420.44 L926.62,420.51 L927.31,420.59 L928.05,420.67 L928.80,420.75 L929.53,420.83 L930.18,420.90 L930.73,420.95 L931.13,421.00 Z" fill="#1d2935" stroke="#1d2935" stroke-width="1.00" stroke-linejoin="round"/>
<path d="M925.88,419.20 L925.78,419.56 L925.63,420.04 L925.46,420.62 L925.26,421.27 L925.07,421.94 L924.87,422.62 L924.69,423.27 L924.53,423.86 L924.39,424.43 L924.26,425.02 L924.13,425.62 L924.01,426.19 L923.90,426.73 L923.80,427.21 L923.72,427.61 L923.66,427.92 L924.34,428.08 L924.42,427.78 L924.53,427.38 L924.66,426.91 L924.80,426.38 L924.96,425.82 L925.13,425.25 L925.30,424.68 L925.47,424.14 L925.66,423.57 L925.88,422.95 L926.12,422.29 L926.36,421.63 L926.59,421.01 L926.81,420.44 L926.99,419.96 L927.12,419.60 Z" fill="#1d2935" stroke="#1d2935" stroke-width="1.00" stroke-linejoin="round"/>
<path d="M938.26,419.82 L938.25,420.75 L938.24,422.00 L938.23,423.49 L938.21,425.14 L938.20,426.87 L938.18,428.62 L938.16,430.31 L938.13,431.87 L938.09,433.41 L938.04,435.04 L937.99,436.71 L937.93,438.35 L937.88,439.90 L937.83,441.29 L937.78,442.46 L937.75,443.34 L938.85,443.46 L939.00,442.59 L939.21,441.44 L939.46,440.07 L939.74,438.55 L940.03,436.93 L940.33,435.28 L940.61,433.66 L940.87,432.13 L941.13,430.58 L941.40,428.90 L941.67,427.16 L941.94,425.44 L942.19,423.81 L942.41,422.34 L942.60,421.11 L942.74,420.18 Z" fill="#1d2935" stroke="#1d2935" stroke-width="1.00" stroke-linejoin="round"/>
<path d="M939.32,432.30 L939.57,432.76 L939.91,433.37 L940.30,434.11 L940.75,434.93 L941.21,435.79 L941.68,436.65 L942.14,437.48 L942.57,438.23 L942.98,438.97 L943.43,439.74 L943.89,440.52 L944.33,441.28 L944.76,441.99 L945.14,442.63 L945.45,443.16 L945.69,443.57 L946.31,443.23 L946.08,442.81 L945.79,442.26 L945.44,441.60 L945.05,440.87 L944.64,440.10 L944.22,439.30 L943.82,438.51 L943.43,437.77 L943.05,437.00 L942.63,436.15 L942.20,435.27 L941.78,434.40 L941.38,433.56 L941.01,432.81 L940.71,432.18 L940.48,431.70 Z" fill="#1d2935" stroke="#1d2935" stroke-width="1.00" stroke-linejoin="round"/>
<path d="M943.21,420.56 L944.00,420.90 L945.07,421.37 L946.33,421.92 L947.75,422.53 L949.24,423.18 L950.75,423.81 L952.21,424.42 L953.56,424.95 L954.90,425.46 L956.31,425.96 L957.75,426.46 L959.17,426.94 L960.50,427.39 L961.69,427.78 L962.69,428.12 L963.45,428.37 L963.75,427.63 L963.03,427.28 L962.08,426.83 L960.94,426.29 L959.68,425.68 L958.35,425.03 L956.99,424.36 L955.67,423.69 L954.44,423.05 L953.19,422.36 L951.84,421.59 L950.44,420.78 L949.05,419.97 L947.74,419.18 L946.55,418.48 L945.55,417.88 L944.79,417.44 Z" fill="#1d2935" stroke="#1d2935" stroke-width="1.00" stroke-linejoin="round"/>
<path d="M951.00,424.50 L951.02,424.98 L951.04,425.66 L951.07,426.47 L951.10,427.35 L951.13,428.23 L951.16,429.04 L951.18,429.72 L951.20,430.20 L951.80,430.20 L951.82,429.72 L951.84,429.04 L951.87,428.23 L951.90,427.35 L951.93,426.47 L951.96,425.66 L951.98,424.98 L952.00,424.50 Z" fill="#1d2935" stroke="#1d2935" stroke-width="1.00" stroke-linejoin="round"/>
<path d="M955.50,426.33 L955.54,426.73 L955.60,427.28 L955.67,427.95 L955.75,428.68 L955.83,429.40 L955.90,430.07 L955.96,430.63 L956.00,431.02 L956.60,430.98 L956.59,430.59 L956.58,430.02 L956.56,429.35 L956.55,428.62 L956.53,427.90 L956.52,427.23 L956.51,426.66 L956.50,426.27 Z" fill="#1d2935" stroke="#1d2935" stroke-width="1.00" stroke-linejoin="round"/>
<path d="M929.00,414.80 a8.50,9.00 0 1 0 17.00,0 a8.50,9.00 0 1 0 -17.00,0 Z" fill="url(#ngr2)"/>
<path d="M931.40,407.24 L930.68,406.75 L929.71,406.07 L928.54,405.25 L927.24,404.34 L925.85,403.39 L924.44,402.46 L923.07,401.59 L921.77,400.82 L920.48,400.14 L919.12,399.49 L917.73,398.87 L916.38,398.29 L915.10,397.77 L913.96,397.31 L913.01,396.92 L912.30,396.62 L911.70,397.78 L912.38,398.19 L913.27,398.71 L914.33,399.34 L915.50,400.03 L916.72,400.79 L917.96,401.58 L919.15,402.38 L920.23,403.18 L921.31,404.05 L922.48,405.06 L923.69,406.15 L924.89,407.26 L926.03,408.33 L927.06,409.31 L927.93,410.14 L928.60,410.76 Z" fill="url(#ngr2)"/>
<path d="M912.47,397.22 L912.31,396.99 L912.09,396.66 L911.81,396.26 L911.52,395.84 L911.22,395.41 L910.95,395.01 L910.72,394.68 L910.56,394.45 L910.04,394.75 L910.17,395.01 L910.34,395.37 L910.55,395.80 L910.78,396.26 L911.01,396.73 L911.22,397.16 L911.40,397.52 L911.53,397.78 Z" fill="url(#ngr2)"/>
<path d="M911.75,397.07 L911.57,397.20 L911.32,397.38 L911.03,397.59 L910.71,397.83 L910.39,398.06 L910.09,398.28 L909.85,398.46 L909.67,398.58 L909.93,399.02 L910.12,398.92 L910.40,398.79 L910.73,398.64 L911.09,398.47 L911.45,398.31 L911.78,398.15 L912.06,398.02 L912.25,397.93 Z" fill="url(#ngr2)"/>
<path d="M936.98,407.73 L936.82,406.89 L936.59,405.77 L936.33,404.44 L936.04,402.95 L935.73,401.38 L935.40,399.79 L935.09,398.24 L934.78,396.81 L934.47,395.38 L934.12,393.85 L933.76,392.30 L933.40,390.76 L933.05,389.31 L932.74,388.01 L932.49,386.92 L932.29,386.10 L931.11,386.30 L931.20,387.14 L931.32,388.26 L931.46,389.59 L931.62,391.06 L931.78,392.63 L931.94,394.21 L932.09,395.76 L932.22,397.19 L932.34,398.64 L932.46,400.20 L932.58,401.81 L932.69,403.40 L932.79,404.91 L932.88,406.26 L932.96,407.41 L933.02,408.27 Z" fill="url(#ngr2)"/>
<path d="M944.79,408.90 L945.05,408.26 L945.40,407.40 L945.82,406.38 L946.29,405.24 L946.78,404.04 L947.27,402.82 L947.74,401.64 L948.16,400.55 L948.56,399.46 L948.97,398.32 L949.38,397.15 L949.77,396.01 L950.14,394.93 L950.47,393.96 L950.74,393.15 L950.95,392.54 L949.85,392.06 L949.54,392.63 L949.14,393.39 L948.66,394.29 L948.13,395.29 L947.56,396.35 L946.98,397.43 L946.40,398.48 L945.84,399.45 L945.27,400.44 L944.63,401.51 L943.96,402.62 L943.29,403.72 L942.65,404.77 L942.07,405.71 L941.58,406.50 L941.21,407.10 Z" fill="url(#ngr2)"/>
<path d="M945.06,410.39 L945.65,409.88 L946.44,409.18 L947.38,408.35 L948.41,407.43 L949.50,406.47 L950.59,405.53 L951.64,404.63 L952.59,403.84 L953.51,403.09 L954.49,402.33 L955.49,401.57 L956.46,400.84 L957.38,400.15 L958.20,399.54 L958.89,399.03 L959.42,398.64 L958.98,397.96 L958.41,398.28 L957.65,398.68 L956.75,399.17 L955.74,399.71 L954.66,400.30 L953.56,400.92 L952.46,401.54 L951.41,402.16 L950.33,402.83 L949.14,403.57 L947.91,404.36 L946.69,405.16 L945.52,405.92 L944.47,406.61 L943.60,407.18 L942.94,407.61 Z" fill="url(#ngr2)"/>
<path d="M945.08,412.50 L945.69,412.42 L946.50,412.33 L947.47,412.21 L948.54,412.08 L949.68,411.94 L950.84,411.81 L951.97,411.68 L953.04,411.56 L954.12,411.45 L955.29,411.34 L956.51,411.23 L957.71,411.12 L958.86,411.02 L959.89,410.93 L960.76,410.86 L961.41,410.80 L961.39,410.00 L960.74,409.97 L959.87,409.93 L958.84,409.88 L957.69,409.83 L956.47,409.77 L955.25,409.72 L954.06,409.67 L952.96,409.64 L951.88,409.61 L950.73,409.58 L949.56,409.56 L948.41,409.55 L947.32,409.53 L946.35,409.52 L945.54,409.51 L944.92,409.50 Z" fill="url(#ngr2)"/>
<path d="M930.87,417.00 L930.47,417.10 L929.93,417.23 L929.29,417.39 L928.59,417.56 L927.87,417.73 L927.16,417.90 L926.51,418.05 L925.97,418.16 L925.50,418.26 L925.04,418.33 L924.59,418.40 L924.18,418.46 L923.79,418.50 L923.45,418.54 L923.16,418.57 L922.93,418.60 L922.87,419.80 L923.09,419.85 L923.37,419.91 L923.71,419.99 L924.10,420.08 L924.53,420.17 L925.00,420.27 L925.50,420.36 L926.03,420.44 L926.62,420.51 L927.31,420.59 L928.05,420.67 L928.80,420.75 L929.53,420.83 L930.18,420.90 L930.73,420.95 L931.13,421.00 Z" fill="url(#ngr2)"/>
<path d="M925.88,419.20 L925.78,419.56 L925.63,420.04 L925.46,420.62 L925.26,421.27 L925.07,421.94 L924.87,422.62 L924.69,423.27 L924.53,423.86 L924.39,424.43 L924.26,425.02 L924.13,425.62 L924.01,426.19 L923.90,426.73 L923.80,427.21 L923.72,427.61 L923.66,427.92 L924.34,428.08 L924.42,427.78 L924.53,427.38 L924.66,426.91 L924.80,426.38 L924.96,425.82 L925.13,425.25 L925.30,424.68 L925.47,424.14 L925.66,423.57 L925.88,422.95 L926.12,422.29 L926.36,421.63 L926.59,421.01 L926.81,420.44 L926.99,419.96 L927.12,419.60 Z" fill="url(#ngr2)"/>
<path d="M938.26,419.82 L938.25,420.75 L938.24,422.00 L938.23,423.49 L938.21,425.14 L938.20,426.87 L938.18,428.62 L938.16,430.31 L938.13,431.87 L938.09,433.41 L938.04,435.04 L937.99,436.71 L937.93,438.35 L937.88,439.90 L937.83,441.29 L937.78,442.46 L937.75,443.34 L938.85,443.46 L939.00,442.59 L939.21,441.44 L939.46,440.07 L939.74,438.55 L940.03,436.93 L940.33,435.28 L940.61,433.66 L940.87,432.13 L941.13,430.58 L941.40,428.90 L941.67,427.16 L941.94,425.44 L942.19,423.81 L942.41,422.34 L942.60,421.11 L942.74,420.18 Z" fill="url(#ngr2)"/>
<path d="M939.32,432.30 L939.57,432.76 L939.91,433.37 L940.30,434.11 L940.75,434.93 L941.21,435.79 L941.68,436.65 L942.14,437.48 L942.57,438.23 L942.98,438.97 L943.43,439.74 L943.89,440.52 L944.33,441.28 L944.76,441.99 L945.14,442.63 L945.45,443.16 L945.69,443.57 L946.31,443.23 L946.08,442.81 L945.79,442.26 L945.44,441.60 L945.05,440.87 L944.64,440.10 L944.22,439.30 L943.82,438.51 L943.43,437.77 L943.05,437.00 L942.63,436.15 L942.20,435.27 L941.78,434.40 L941.38,433.56 L941.01,432.81 L940.71,432.18 L940.48,431.70 Z" fill="url(#ngr2)"/>
<path d="M943.21,420.56 L944.00,420.90 L945.07,421.37 L946.33,421.92 L947.75,422.53 L949.24,423.18 L950.75,423.81 L952.21,424.42 L953.56,424.95 L954.90,425.46 L956.31,425.96 L957.75,426.46 L959.17,426.94 L960.50,427.39 L961.69,427.78 L962.69,428.12 L963.45,428.37 L963.75,427.63 L963.03,427.28 L962.08,426.83 L960.94,426.29 L959.68,425.68 L958.35,425.03 L956.99,424.36 L955.67,423.69 L954.44,423.05 L953.19,422.36 L951.84,421.59 L950.44,420.78 L949.05,419.97 L947.74,419.18 L946.55,418.48 L945.55,417.88 L944.79,417.44 Z" fill="url(#ngr2)"/>
<path d="M951.00,424.50 L951.02,424.98 L951.04,425.66 L951.07,426.47 L951.10,427.35 L951.13,428.23 L951.16,429.04 L951.18,429.72 L951.20,430.20 L951.80,430.20 L951.82,429.72 L951.84,429.04 L951.87,428.23 L951.90,427.35 L951.93,426.47 L951.96,425.66 L951.98,424.98 L952.00,424.50 Z" fill="url(#ngr2)"/>
<path d="M955.50,426.33 L955.54,426.73 L955.60,427.28 L955.67,427.95 L955.75,428.68 L955.83,429.40 L955.90,430.07 L955.96,430.63 L956.00,431.02 L956.60,430.98 L956.59,430.59 L956.58,430.02 L956.56,429.35 L956.55,428.62 L956.53,427.90 L956.52,427.23 L956.51,426.66 L956.50,426.27 Z" fill="url(#ngr2)"/>
<ellipse cx="938.3" cy="414.5" rx="1.8" ry="2.3" fill="#7fb1dc" stroke="#2a4a6a" stroke-width="0.6"/>
</g>
<g transform="translate(656,290) scale(0.5) translate(-790.7,-282.6)">
<path d="M855,328 C870,333 885,340 896.5,351 C905,358 914,367 920,373 C925,379 929,383 931.7,385.2 C937,389 944,391.5 950.4,392.3" fill="none" stroke="#1d2935" stroke-width="3.0" stroke-linecap="round"/>
<path d="M855,328 C870,333 885,340 896.5,351 C905,358 914,367 920,373 C925,379 929,383 931.7,385.2 C937,389 944,391.5 950.4,392.3" fill="none" stroke="#5a9ad6" stroke-width="1.4" stroke-linecap="round"/>
<path d="M826.00,328.00 a16.00,14.50 0 1 0 32.00,0 a16.00,14.50 0 1 0 -32.00,0 Z" fill="#1d2935" stroke="#1d2935" stroke-width="1.20" stroke-linejoin="round"/>
<path d="M827.63,316.48 L826.77,315.98 L825.64,315.30 L824.28,314.49 L822.75,313.58 L821.13,312.63 L819.47,311.67 L817.82,310.73 L816.25,309.88 L814.73,309.08 L813.18,308.28 L811.61,307.50 L810.03,306.73 L808.46,305.98 L806.90,305.24 L805.37,304.51 L803.88,303.81 L802.34,303.09 L800.72,302.35 L799.07,301.61 L797.47,300.89 L795.96,300.23 L794.61,299.63 L793.48,299.13 L792.62,298.75 L791.38,301.25 L792.20,301.71 L793.30,302.30 L794.59,303.01 L796.03,303.79 L797.56,304.63 L799.13,305.50 L800.67,306.36 L802.12,307.19 L803.55,308.01 L805.00,308.85 L806.48,309.71 L807.97,310.58 L809.45,311.46 L810.92,312.35 L812.35,313.24 L813.75,314.12 L815.18,315.06 L816.69,316.09 L818.23,317.16 L819.75,318.23 L821.17,319.24 L822.46,320.16 L823.55,320.94 L824.37,321.52 Z" fill="#1d2935" stroke="#1d2935" stroke-width="1.20" stroke-linejoin="round"/>
<path d="M792.67,300.06 L792.39,299.70 L791.99,299.19 L791.51,298.58 L791.00,297.92 L790.48,297.26 L790.01,296.65 L789.61,296.14 L789.33,295.78 L788.67,296.22 L788.89,296.62 L789.21,297.18 L789.59,297.85 L790.00,298.58 L790.41,299.31 L790.79,299.98 L791.11,300.55 L791.33,300.94 Z" fill="#1d2935" stroke="#1d2935" stroke-width="1.20" stroke-linejoin="round"/>
<path d="M791.67,299.88 L791.42,300.05 L791.05,300.29 L790.62,300.58 L790.15,300.89 L789.69,301.20 L789.25,301.48 L788.89,301.72 L788.64,301.89 L788.96,302.51 L789.25,302.39 L789.65,302.23 L790.13,302.03 L790.65,301.81 L791.17,301.60 L791.65,301.40 L792.05,301.23 L792.33,301.12 Z" fill="#1d2935" stroke="#1d2935" stroke-width="1.20" stroke-linejoin="round"/>
<path d="M841.00,315.92 L840.84,314.51 L840.64,312.61 L840.39,310.33 L840.11,307.81 L839.82,305.18 L839.53,302.57 L839.24,300.11 L838.97,297.91 L838.70,295.86 L838.40,293.78 L838.10,291.74 L837.80,289.77 L837.52,287.95 L837.27,286.34 L837.06,284.98 L836.90,283.93 L834.70,284.07 L834.67,285.13 L834.64,286.51 L834.59,288.14 L834.55,289.98 L834.49,291.95 L834.41,294.00 L834.33,296.06 L834.23,298.09 L834.11,300.26 L833.95,302.71 L833.77,305.31 L833.59,307.94 L833.41,310.46 L833.24,312.74 L833.10,314.66 L833.00,316.08 Z" fill="#1d2935" stroke="#1d2935" stroke-width="1.20" stroke-linejoin="round"/>
<path d="M837.29,297.24 L836.77,296.74 L836.06,296.04 L835.21,295.21 L834.27,294.29 L833.28,293.35 L832.29,292.43 L831.33,291.61 L830.46,290.92 L829.62,290.35 L828.77,289.86 L827.92,289.43 L827.11,289.05 L826.35,288.73 L825.69,288.46 L825.14,288.24 L824.72,288.05 L824.28,288.95 L824.70,289.18 L825.24,289.45 L825.88,289.77 L826.58,290.13 L827.33,290.55 L828.08,291.01 L828.83,291.52 L829.54,292.08 L830.29,292.77 L831.13,293.63 L832.02,294.59 L832.92,295.59 L833.78,296.56 L834.56,297.46 L835.22,298.21 L835.71,298.76 Z" fill="#1d2935" stroke="#1d2935" stroke-width="1.20" stroke-linejoin="round"/>
<path d="M836.34,284.64 L836.19,284.45 L835.97,284.19 L835.70,283.87 L835.42,283.52 L835.13,283.18 L834.87,282.86 L834.65,282.59 L834.49,282.41 L833.91,282.79 L834.02,283.01 L834.18,283.32 L834.38,283.68 L834.58,284.08 L834.79,284.47 L834.98,284.84 L835.15,285.15 L835.26,285.36 Z" fill="#1d2935" stroke="#1d2935" stroke-width="1.20" stroke-linejoin="round"/>
<path d="M836.41,285.40 L836.54,285.20 L836.71,284.91 L836.92,284.57 L837.15,284.21 L837.37,283.84 L837.58,283.50 L837.75,283.21 L837.88,283.01 L837.32,282.59 L837.16,282.76 L836.93,283.00 L836.65,283.28 L836.35,283.59 L836.06,283.91 L835.78,284.19 L835.55,284.43 L835.39,284.60 Z" fill="#1d2935" stroke="#1d2935" stroke-width="1.20" stroke-linejoin="round"/>
<path d="M851.92,320.92 L852.66,320.32 L853.66,319.49 L854.84,318.51 L856.14,317.43 L857.48,316.32 L858.81,315.24 L860.06,314.24 L861.14,313.40 L862.14,312.66 L863.16,311.93 L864.17,311.24 L865.14,310.58 L866.05,309.99 L866.87,309.46 L867.56,309.01 L868.10,308.65 L866.90,306.35 L866.31,306.57 L865.55,306.86 L864.64,307.21 L863.61,307.60 L862.48,308.05 L861.30,308.53 L860.08,309.05 L858.86,309.60 L857.55,310.23 L856.07,310.96 L854.50,311.76 L852.93,312.57 L851.42,313.35 L850.05,314.06 L848.91,314.65 L848.08,315.08 Z" fill="#1d2935" stroke="#1d2935" stroke-width="1.20" stroke-linejoin="round"/>
<path d="M868.70,307.95 L868.63,307.08 L868.55,305.91 L868.45,304.50 L868.34,302.96 L868.21,301.34 L868.09,299.75 L867.97,298.26 L867.85,296.95 L867.73,295.74 L867.60,294.54 L867.46,293.36 L867.32,292.25 L867.19,291.22 L867.07,290.30 L866.97,289.54 L866.90,288.94 L865.70,289.06 L865.74,289.66 L865.79,290.43 L865.85,291.35 L865.92,292.38 L865.98,293.49 L866.05,294.67 L866.10,295.86 L866.15,297.05 L866.18,298.35 L866.21,299.84 L866.23,301.43 L866.25,303.04 L866.27,304.59 L866.28,306.00 L866.29,307.18 L866.30,308.05 Z" fill="#1d2935" stroke="#1d2935" stroke-width="1.20" stroke-linejoin="round"/>
<path d="M867.48,301.75 L868.01,301.53 L868.71,301.24 L869.53,300.89 L870.45,300.51 L871.41,300.11 L872.38,299.72 L873.31,299.37 L874.17,299.07 L875.02,298.80 L875.93,298.54 L876.86,298.30 L877.78,298.07 L878.65,297.86 L879.43,297.67 L880.09,297.51 L880.59,297.39 L880.41,296.61 L879.91,296.70 L879.25,296.82 L878.46,296.96 L877.57,297.12 L876.63,297.30 L875.67,297.50 L874.73,297.71 L873.83,297.93 L872.92,298.20 L871.94,298.50 L870.94,298.84 L869.94,299.18 L869.00,299.51 L868.15,299.82 L867.45,300.07 L866.92,300.25 Z" fill="#1d2935" stroke="#1d2935" stroke-width="1.20" stroke-linejoin="round"/>
<path d="M866.10,309.31 L866.77,309.62 L867.66,310.02 L868.71,310.48 L869.86,311.00 L871.08,311.58 L872.32,312.20 L873.51,312.86 L874.61,313.55 L875.73,314.34 L876.94,315.30 L878.19,316.34 L879.43,317.41 L880.60,318.46 L881.66,319.41 L882.56,320.21 L883.23,320.80 L883.77,320.20 L883.13,319.59 L882.28,318.75 L881.27,317.75 L880.13,316.65 L878.93,315.50 L877.71,314.38 L876.52,313.35 L875.39,312.45 L874.25,311.67 L873.04,310.92 L871.79,310.21 L870.57,309.56 L869.42,308.97 L868.39,308.46 L867.54,308.03 L866.90,307.69 Z" fill="#1d2935" stroke="#1d2935" stroke-width="1.20" stroke-linejoin="round"/>
<path d="M829.87,334.16 L829.01,334.56 L827.86,335.11 L826.53,335.75 L825.08,336.44 L823.59,337.14 L822.13,337.78 L820.80,338.33 L819.70,338.72 L818.71,338.98 L817.65,339.17 L816.56,339.29 L815.49,339.35 L814.48,339.37 L813.55,339.38 L812.75,339.38 L812.11,339.41 L811.89,341.59 L812.45,341.74 L813.18,341.96 L814.09,342.23 L815.13,342.53 L816.30,342.81 L817.56,343.05 L818.90,343.22 L820.30,343.28 L821.81,343.22 L823.46,343.07 L825.19,342.86 L826.92,342.62 L828.57,342.37 L830.05,342.14 L831.25,341.95 L832.13,341.84 Z" fill="#1d2935" stroke="#1d2935" stroke-width="1.20" stroke-linejoin="round"/>
<path d="M818.11,340.54 L817.89,341.01 L817.59,341.63 L817.23,342.38 L816.84,343.22 L816.43,344.10 L816.02,345.00 L815.64,345.89 L815.31,346.71 L815.02,347.54 L814.74,348.42 L814.48,349.31 L814.24,350.19 L814.01,351.02 L813.82,351.76 L813.65,352.38 L813.52,352.85 L814.48,353.15 L814.64,352.69 L814.86,352.08 L815.11,351.36 L815.39,350.56 L815.70,349.71 L816.02,348.86 L816.35,348.04 L816.69,347.29 L817.05,346.53 L817.48,345.71 L817.94,344.87 L818.41,344.03 L818.87,343.24 L819.28,342.52 L819.63,341.92 L819.89,341.46 Z" fill="#1d2935" stroke="#1d2935" stroke-width="1.20" stroke-linejoin="round"/>
<path d="M840.77,339.59 L840.75,341.16 L840.72,343.25 L840.69,345.74 L840.66,348.50 L840.62,351.40 L840.57,354.32 L840.51,357.13 L840.45,359.71 L840.36,362.24 L840.26,364.92 L840.14,367.65 L840.01,370.33 L839.89,372.85 L839.77,375.12 L839.68,377.03 L839.61,378.47 L841.59,378.73 L841.90,377.32 L842.31,375.46 L842.80,373.24 L843.34,370.77 L843.91,368.14 L844.49,365.45 L845.04,362.80 L845.55,360.29 L846.05,357.73 L846.58,354.94 L847.12,352.05 L847.64,349.18 L848.13,346.45 L848.58,344.00 L848.95,341.95 L849.23,340.41 Z" fill="#1d2935" stroke="#1d2935" stroke-width="1.20" stroke-linejoin="round"/>
<path d="M842.42,364.63 L842.81,365.08 L843.33,365.67 L843.95,366.38 L844.63,367.16 L845.35,367.99 L846.07,368.84 L846.76,369.67 L847.40,370.45 L848.01,371.24 L848.67,372.11 L849.34,373.02 L849.99,373.92 L850.61,374.77 L851.17,375.54 L851.63,376.19 L851.99,376.68 L852.81,376.12 L852.49,375.61 L852.07,374.94 L851.57,374.13 L851.01,373.23 L850.41,372.29 L849.79,371.33 L849.18,370.41 L848.60,369.55 L848.01,368.71 L847.36,367.82 L846.69,366.92 L846.02,366.04 L845.38,365.21 L844.81,364.46 L844.33,363.84 L843.98,363.37 Z" fill="#1d2935" stroke="#1d2935" stroke-width="1.20" stroke-linejoin="round"/>
<path d="M853.57,339.64 L854.92,340.26 L856.73,341.11 L858.91,342.14 L861.33,343.27 L863.89,344.45 L866.48,345.60 L868.98,346.66 L871.29,347.58 L873.56,348.37 L875.95,349.13 L878.36,349.84 L880.71,350.49 L882.92,351.08 L884.90,351.59 L886.55,352.02 L887.80,352.37 L888.20,351.23 L886.99,350.72 L885.40,350.07 L883.51,349.30 L881.42,348.44 L879.20,347.49 L876.94,346.49 L874.75,345.46 L872.71,344.42 L870.63,343.27 L868.37,341.93 L866.01,340.48 L863.67,339.00 L861.44,337.57 L859.42,336.27 L857.72,335.17 L856.43,334.36 Z" fill="#1d2935" stroke="#1d2935" stroke-width="1.20" stroke-linejoin="round"/>
<path d="M865.20,345.06 L865.25,345.52 L865.32,346.14 L865.40,346.86 L865.49,347.67 L865.58,348.52 L865.67,349.38 L865.74,350.23 L865.80,351.01 L865.83,351.81 L865.86,352.68 L865.88,353.57 L865.89,354.46 L865.89,355.31 L865.89,356.07 L865.90,356.71 L865.90,357.19 L866.70,357.21 L866.73,356.73 L866.77,356.09 L866.81,355.33 L866.86,354.49 L866.91,353.59 L866.96,352.69 L866.99,351.81 L867.00,350.99 L867.00,350.17 L866.98,349.31 L866.95,348.42 L866.92,347.56 L866.88,346.74 L866.85,346.01 L866.82,345.40 L866.80,344.94 Z" fill="#1d2935" stroke="#1d2935" stroke-width="1.20" stroke-linejoin="round"/>
<path d="M873.21,348.13 L873.27,348.43 L873.36,348.82 L873.46,349.28 L873.56,349.79 L873.68,350.34 L873.79,350.92 L873.89,351.49 L873.98,352.06 L874.06,352.67 L874.14,353.37 L874.21,354.12 L874.29,354.88 L874.35,355.60 L874.41,356.26 L874.46,356.81 L874.50,357.22 L875.30,357.18 L875.30,356.77 L875.29,356.22 L875.29,355.56 L875.29,354.82 L875.28,354.06 L875.27,353.30 L875.25,352.58 L875.22,351.94 L875.18,351.34 L875.13,350.73 L875.06,350.13 L875.00,349.56 L874.93,349.03 L874.87,348.56 L874.82,348.17 L874.79,347.87 Z" fill="#1d2935" stroke="#1d2935" stroke-width="1.20" stroke-linejoin="round"/>
<path d="M826.00,328.00 a16.00,14.50 0 1 0 32.00,0 a16.00,14.50 0 1 0 -32.00,0 Z" fill="url(#ngr)"/>
<path d="M827.63,316.48 L826.77,315.98 L825.64,315.30 L824.28,314.49 L822.75,313.58 L821.13,312.63 L819.47,311.67 L817.82,310.73 L816.25,309.88 L814.73,309.08 L813.18,308.28 L811.61,307.50 L810.03,306.73 L808.46,305.98 L806.90,305.24 L805.37,304.51 L803.88,303.81 L802.34,303.09 L800.72,302.35 L799.07,301.61 L797.47,300.89 L795.96,300.23 L794.61,299.63 L793.48,299.13 L792.62,298.75 L791.38,301.25 L792.20,301.71 L793.30,302.30 L794.59,303.01 L796.03,303.79 L797.56,304.63 L799.13,305.50 L800.67,306.36 L802.12,307.19 L803.55,308.01 L805.00,308.85 L806.48,309.71 L807.97,310.58 L809.45,311.46 L810.92,312.35 L812.35,313.24 L813.75,314.12 L815.18,315.06 L816.69,316.09 L818.23,317.16 L819.75,318.23 L821.17,319.24 L822.46,320.16 L823.55,320.94 L824.37,321.52 Z" fill="url(#ngr)"/>
<path d="M792.67,300.06 L792.39,299.70 L791.99,299.19 L791.51,298.58 L791.00,297.92 L790.48,297.26 L790.01,296.65 L789.61,296.14 L789.33,295.78 L788.67,296.22 L788.89,296.62 L789.21,297.18 L789.59,297.85 L790.00,298.58 L790.41,299.31 L790.79,299.98 L791.11,300.55 L791.33,300.94 Z" fill="url(#ngr)"/>
<path d="M791.67,299.88 L791.42,300.05 L791.05,300.29 L790.62,300.58 L790.15,300.89 L789.69,301.20 L789.25,301.48 L788.89,301.72 L788.64,301.89 L788.96,302.51 L789.25,302.39 L789.65,302.23 L790.13,302.03 L790.65,301.81 L791.17,301.60 L791.65,301.40 L792.05,301.23 L792.33,301.12 Z" fill="url(#ngr)"/>
<path d="M841.00,315.92 L840.84,314.51 L840.64,312.61 L840.39,310.33 L840.11,307.81 L839.82,305.18 L839.53,302.57 L839.24,300.11 L838.97,297.91 L838.70,295.86 L838.40,293.78 L838.10,291.74 L837.80,289.77 L837.52,287.95 L837.27,286.34 L837.06,284.98 L836.90,283.93 L834.70,284.07 L834.67,285.13 L834.64,286.51 L834.59,288.14 L834.55,289.98 L834.49,291.95 L834.41,294.00 L834.33,296.06 L834.23,298.09 L834.11,300.26 L833.95,302.71 L833.77,305.31 L833.59,307.94 L833.41,310.46 L833.24,312.74 L833.10,314.66 L833.00,316.08 Z" fill="url(#ngr)"/>
<path d="M837.29,297.24 L836.77,296.74 L836.06,296.04 L835.21,295.21 L834.27,294.29 L833.28,293.35 L832.29,292.43 L831.33,291.61 L830.46,290.92 L829.62,290.35 L828.77,289.86 L827.92,289.43 L827.11,289.05 L826.35,288.73 L825.69,288.46 L825.14,288.24 L824.72,288.05 L824.28,288.95 L824.70,289.18 L825.24,289.45 L825.88,289.77 L826.58,290.13 L827.33,290.55 L828.08,291.01 L828.83,291.52 L829.54,292.08 L830.29,292.77 L831.13,293.63 L832.02,294.59 L832.92,295.59 L833.78,296.56 L834.56,297.46 L835.22,298.21 L835.71,298.76 Z" fill="url(#ngr)"/>
<path d="M836.34,284.64 L836.19,284.45 L835.97,284.19 L835.70,283.87 L835.42,283.52 L835.13,283.18 L834.87,282.86 L834.65,282.59 L834.49,282.41 L833.91,282.79 L834.02,283.01 L834.18,283.32 L834.38,283.68 L834.58,284.08 L834.79,284.47 L834.98,284.84 L835.15,285.15 L835.26,285.36 Z" fill="url(#ngr)"/>
<path d="M836.41,285.40 L836.54,285.20 L836.71,284.91 L836.92,284.57 L837.15,284.21 L837.37,283.84 L837.58,283.50 L837.75,283.21 L837.88,283.01 L837.32,282.59 L837.16,282.76 L836.93,283.00 L836.65,283.28 L836.35,283.59 L836.06,283.91 L835.78,284.19 L835.55,284.43 L835.39,284.60 Z" fill="url(#ngr)"/>
<path d="M851.92,320.92 L852.66,320.32 L853.66,319.49 L854.84,318.51 L856.14,317.43 L857.48,316.32 L858.81,315.24 L860.06,314.24 L861.14,313.40 L862.14,312.66 L863.16,311.93 L864.17,311.24 L865.14,310.58 L866.05,309.99 L866.87,309.46 L867.56,309.01 L868.10,308.65 L866.90,306.35 L866.31,306.57 L865.55,306.86 L864.64,307.21 L863.61,307.60 L862.48,308.05 L861.30,308.53 L860.08,309.05 L858.86,309.60 L857.55,310.23 L856.07,310.96 L854.50,311.76 L852.93,312.57 L851.42,313.35 L850.05,314.06 L848.91,314.65 L848.08,315.08 Z" fill="url(#ngr)"/>
<path d="M868.70,307.95 L868.63,307.08 L868.55,305.91 L868.45,304.50 L868.34,302.96 L868.21,301.34 L868.09,299.75 L867.97,298.26 L867.85,296.95 L867.73,295.74 L867.60,294.54 L867.46,293.36 L867.32,292.25 L867.19,291.22 L867.07,290.30 L866.97,289.54 L866.90,288.94 L865.70,289.06 L865.74,289.66 L865.79,290.43 L865.85,291.35 L865.92,292.38 L865.98,293.49 L866.05,294.67 L866.10,295.86 L866.15,297.05 L866.18,298.35 L866.21,299.84 L866.23,301.43 L866.25,303.04 L866.27,304.59 L866.28,306.00 L866.29,307.18 L866.30,308.05 Z" fill="url(#ngr)"/>
<path d="M867.48,301.75 L868.01,301.53 L868.71,301.24 L869.53,300.89 L870.45,300.51 L871.41,300.11 L872.38,299.72 L873.31,299.37 L874.17,299.07 L875.02,298.80 L875.93,298.54 L876.86,298.30 L877.78,298.07 L878.65,297.86 L879.43,297.67 L880.09,297.51 L880.59,297.39 L880.41,296.61 L879.91,296.70 L879.25,296.82 L878.46,296.96 L877.57,297.12 L876.63,297.30 L875.67,297.50 L874.73,297.71 L873.83,297.93 L872.92,298.20 L871.94,298.50 L870.94,298.84 L869.94,299.18 L869.00,299.51 L868.15,299.82 L867.45,300.07 L866.92,300.25 Z" fill="url(#ngr)"/>
<path d="M866.10,309.31 L866.77,309.62 L867.66,310.02 L868.71,310.48 L869.86,311.00 L871.08,311.58 L872.32,312.20 L873.51,312.86 L874.61,313.55 L875.73,314.34 L876.94,315.30 L878.19,316.34 L879.43,317.41 L880.60,318.46 L881.66,319.41 L882.56,320.21 L883.23,320.80 L883.77,320.20 L883.13,319.59 L882.28,318.75 L881.27,317.75 L880.13,316.65 L878.93,315.50 L877.71,314.38 L876.52,313.35 L875.39,312.45 L874.25,311.67 L873.04,310.92 L871.79,310.21 L870.57,309.56 L869.42,308.97 L868.39,308.46 L867.54,308.03 L866.90,307.69 Z" fill="url(#ngr)"/>
<path d="M829.87,334.16 L829.01,334.56 L827.86,335.11 L826.53,335.75 L825.08,336.44 L823.59,337.14 L822.13,337.78 L820.80,338.33 L819.70,338.72 L818.71,338.98 L817.65,339.17 L816.56,339.29 L815.49,339.35 L814.48,339.37 L813.55,339.38 L812.75,339.38 L812.11,339.41 L811.89,341.59 L812.45,341.74 L813.18,341.96 L814.09,342.23 L815.13,342.53 L816.30,342.81 L817.56,343.05 L818.90,343.22 L820.30,343.28 L821.81,343.22 L823.46,343.07 L825.19,342.86 L826.92,342.62 L828.57,342.37 L830.05,342.14 L831.25,341.95 L832.13,341.84 Z" fill="url(#ngr)"/>
<path d="M818.11,340.54 L817.89,341.01 L817.59,341.63 L817.23,342.38 L816.84,343.22 L816.43,344.10 L816.02,345.00 L815.64,345.89 L815.31,346.71 L815.02,347.54 L814.74,348.42 L814.48,349.31 L814.24,350.19 L814.01,351.02 L813.82,351.76 L813.65,352.38 L813.52,352.85 L814.48,353.15 L814.64,352.69 L814.86,352.08 L815.11,351.36 L815.39,350.56 L815.70,349.71 L816.02,348.86 L816.35,348.04 L816.69,347.29 L817.05,346.53 L817.48,345.71 L817.94,344.87 L818.41,344.03 L818.87,343.24 L819.28,342.52 L819.63,341.92 L819.89,341.46 Z" fill="url(#ngr)"/>
<path d="M840.77,339.59 L840.75,341.16 L840.72,343.25 L840.69,345.74 L840.66,348.50 L840.62,351.40 L840.57,354.32 L840.51,357.13 L840.45,359.71 L840.36,362.24 L840.26,364.92 L840.14,367.65 L840.01,370.33 L839.89,372.85 L839.77,375.12 L839.68,377.03 L839.61,378.47 L841.59,378.73 L841.90,377.32 L842.31,375.46 L842.80,373.24 L843.34,370.77 L843.91,368.14 L844.49,365.45 L845.04,362.80 L845.55,360.29 L846.05,357.73 L846.58,354.94 L847.12,352.05 L847.64,349.18 L848.13,346.45 L848.58,344.00 L848.95,341.95 L849.23,340.41 Z" fill="url(#ngr)"/>
<path d="M842.42,364.63 L842.81,365.08 L843.33,365.67 L843.95,366.38 L844.63,367.16 L845.35,367.99 L846.07,368.84 L846.76,369.67 L847.40,370.45 L848.01,371.24 L848.67,372.11 L849.34,373.02 L849.99,373.92 L850.61,374.77 L851.17,375.54 L851.63,376.19 L851.99,376.68 L852.81,376.12 L852.49,375.61 L852.07,374.94 L851.57,374.13 L851.01,373.23 L850.41,372.29 L849.79,371.33 L849.18,370.41 L848.60,369.55 L848.01,368.71 L847.36,367.82 L846.69,366.92 L846.02,366.04 L845.38,365.21 L844.81,364.46 L844.33,363.84 L843.98,363.37 Z" fill="url(#ngr)"/>
<path d="M853.57,339.64 L854.92,340.26 L856.73,341.11 L858.91,342.14 L861.33,343.27 L863.89,344.45 L866.48,345.60 L868.98,346.66 L871.29,347.58 L873.56,348.37 L875.95,349.13 L878.36,349.84 L880.71,350.49 L882.92,351.08 L884.90,351.59 L886.55,352.02 L887.80,352.37 L888.20,351.23 L886.99,350.72 L885.40,350.07 L883.51,349.30 L881.42,348.44 L879.20,347.49 L876.94,346.49 L874.75,345.46 L872.71,344.42 L870.63,343.27 L868.37,341.93 L866.01,340.48 L863.67,339.00 L861.44,337.57 L859.42,336.27 L857.72,335.17 L856.43,334.36 Z" fill="url(#ngr)"/>
<path d="M865.20,345.06 L865.25,345.52 L865.32,346.14 L865.40,346.86 L865.49,347.67 L865.58,348.52 L865.67,349.38 L865.74,350.23 L865.80,351.01 L865.83,351.81 L865.86,352.68 L865.88,353.57 L865.89,354.46 L865.89,355.31 L865.89,356.07 L865.90,356.71 L865.90,357.19 L866.70,357.21 L866.73,356.73 L866.77,356.09 L866.81,355.33 L866.86,354.49 L866.91,353.59 L866.96,352.69 L866.99,351.81 L867.00,350.99 L867.00,350.17 L866.98,349.31 L866.95,348.42 L866.92,347.56 L866.88,346.74 L866.85,346.01 L866.82,345.40 L866.80,344.94 Z" fill="url(#ngr)"/>
<path d="M873.21,348.13 L873.27,348.43 L873.36,348.82 L873.46,349.28 L873.56,349.79 L873.68,350.34 L873.79,350.92 L873.89,351.49 L873.98,352.06 L874.06,352.67 L874.14,353.37 L874.21,354.12 L874.29,354.88 L874.35,355.60 L874.41,356.26 L874.46,356.81 L874.50,357.22 L875.30,357.18 L875.30,356.77 L875.29,356.22 L875.29,355.56 L875.29,354.82 L875.28,354.06 L875.27,353.30 L875.25,352.58 L875.22,351.94 L875.18,351.34 L875.13,350.73 L875.06,350.13 L875.00,349.56 L874.93,349.03 L874.87,348.56 L874.82,348.17 L874.79,347.87 Z" fill="url(#ngr)"/>
<path d="M854.4,322.5 C860,326 866,329 872,331 C866,331.5 860,332.5 855.5,334.5 C854,331 853.8,326 854.4,322.5 Z" fill="#3d85cc" stroke="#1d2935" stroke-width="0.6"/>
<ellipse cx="842.2" cy="329.2" rx="4.7" ry="6.3" transform="rotate(-12 842.2 329.2)" fill="url(#nuc)" stroke="#222" stroke-width="0.8"/>
<path d="M929.00,414.80 a8.50,9.00 0 1 0 17.00,0 a8.50,9.00 0 1 0 -17.00,0 Z" fill="#1d2935" stroke="#1d2935" stroke-width="1.00" stroke-linejoin="round"/>
<path d="M931.40,407.24 L930.68,406.75 L929.71,406.07 L928.54,405.25 L927.24,404.34 L925.85,403.39 L924.44,402.46 L923.07,401.59 L921.77,400.82 L920.48,400.14 L919.12,399.49 L917.73,398.87 L916.38,398.29 L915.10,397.77 L913.96,397.31 L913.01,396.92 L912.30,396.62 L911.70,397.78 L912.38,398.19 L913.27,398.71 L914.33,399.34 L915.50,400.03 L916.72,400.79 L917.96,401.58 L919.15,402.38 L920.23,403.18 L921.31,404.05 L922.48,405.06 L923.69,406.15 L924.89,407.26 L926.03,408.33 L927.06,409.31 L927.93,410.14 L928.60,410.76 Z" fill="#1d2935" stroke="#1d2935" stroke-width="1.00" stroke-linejoin="round"/>
<path d="M912.47,397.22 L912.31,396.99 L912.09,396.66 L911.81,396.26 L911.52,395.84 L911.22,395.41 L910.95,395.01 L910.72,394.68 L910.56,394.45 L910.04,394.75 L910.17,395.01 L910.34,395.37 L910.55,395.80 L910.78,396.26 L911.01,396.73 L911.22,397.16 L911.40,397.52 L911.53,397.78 Z" fill="#1d2935" stroke="#1d2935" stroke-width="1.00" stroke-linejoin="round"/>
<path d="M911.75,397.07 L911.57,397.20 L911.32,397.38 L911.03,397.59 L910.71,397.83 L910.39,398.06 L910.09,398.28 L909.85,398.46 L909.67,398.58 L909.93,399.02 L910.12,398.92 L910.40,398.79 L910.73,398.64 L911.09,398.47 L911.45,398.31 L911.78,398.15 L912.06,398.02 L912.25,397.93 Z" fill="#1d2935" stroke="#1d2935" stroke-width="1.00" stroke-linejoin="round"/>
<path d="M936.98,407.73 L936.82,406.89 L936.59,405.77 L936.33,404.44 L936.04,402.95 L935.73,401.38 L935.40,399.79 L935.09,398.24 L934.78,396.81 L934.47,395.38 L934.12,393.85 L933.76,392.30 L933.40,390.76 L933.05,389.31 L932.74,388.01 L932.49,386.92 L932.29,386.10 L931.11,386.30 L931.20,387.14 L931.32,388.26 L931.46,389.59 L931.62,391.06 L931.78,392.63 L931.94,394.21 L932.09,395.76 L932.22,397.19 L932.34,398.64 L932.46,400.20 L932.58,401.81 L932.69,403.40 L932.79,404.91 L932.88,406.26 L932.96,407.41 L933.02,408.27 Z" fill="#1d2935" stroke="#1d2935" stroke-width="1.00" stroke-linejoin="round"/>
<path d="M944.79,408.90 L945.05,408.26 L945.40,407.40 L945.82,406.38 L946.29,405.24 L946.78,404.04 L947.27,402.82 L947.74,401.64 L948.16,400.55 L948.56,399.46 L948.97,398.32 L949.38,397.15 L949.77,396.01 L950.14,394.93 L950.47,393.96 L950.74,393.15 L950.95,392.54 L949.85,392.06 L949.54,392.63 L949.14,393.39 L948.66,394.29 L948.13,395.29 L947.56,396.35 L946.98,397.43 L946.40,398.48 L945.84,399.45 L945.27,400.44 L944.63,401.51 L943.96,402.62 L943.29,403.72 L942.65,404.77 L942.07,405.71 L941.58,406.50 L941.21,407.10 Z" fill="#1d2935" stroke="#1d2935" stroke-width="1.00" stroke-linejoin="round"/>
<path d="M945.06,410.39 L945.65,409.88 L946.44,409.18 L947.38,408.35 L948.41,407.43 L949.50,406.47 L950.59,405.53 L951.64,404.63 L952.59,403.84 L953.51,403.09 L954.49,402.33 L955.49,401.57 L956.46,400.84 L957.38,400.15 L958.20,399.54 L958.89,399.03 L959.42,398.64 L958.98,397.96 L958.41,398.28 L957.65,398.68 L956.75,399.17 L955.74,399.71 L954.66,400.30 L953.56,400.92 L952.46,401.54 L951.41,402.16 L950.33,402.83 L949.14,403.57 L947.91,404.36 L946.69,405.16 L945.52,405.92 L944.47,406.61 L943.60,407.18 L942.94,407.61 Z" fill="#1d2935" stroke="#1d2935" stroke-width="1.00" stroke-linejoin="round"/>
<path d="M945.08,412.50 L945.69,412.42 L946.50,412.33 L947.47,412.21 L948.54,412.08 L949.68,411.94 L950.84,411.81 L951.97,411.68 L953.04,411.56 L954.12,411.45 L955.29,411.34 L956.51,411.23 L957.71,411.12 L958.86,411.02 L959.89,410.93 L960.76,410.86 L961.41,410.80 L961.39,410.00 L960.74,409.97 L959.87,409.93 L958.84,409.88 L957.69,409.83 L956.47,409.77 L955.25,409.72 L954.06,409.67 L952.96,409.64 L951.88,409.61 L950.73,409.58 L949.56,409.56 L948.41,409.55 L947.32,409.53 L946.35,409.52 L945.54,409.51 L944.92,409.50 Z" fill="#1d2935" stroke="#1d2935" stroke-width="1.00" stroke-linejoin="round"/>
<path d="M930.87,417.00 L930.47,417.10 L929.93,417.23 L929.29,417.39 L928.59,417.56 L927.87,417.73 L927.16,417.90 L926.51,418.05 L925.97,418.16 L925.50,418.26 L925.04,418.33 L924.59,418.40 L924.18,418.46 L923.79,418.50 L923.45,418.54 L923.16,418.57 L922.93,418.60 L922.87,419.80 L923.09,419.85 L923.37,419.91 L923.71,419.99 L924.10,420.08 L924.53,420.17 L925.00,420.27 L925.50,420.36 L926.03,420.44 L926.62,420.51 L927.31,420.59 L928.05,420.67 L928.80,420.75 L929.53,420.83 L930.18,420.90 L930.73,420.95 L931.13,421.00 Z" fill="#1d2935" stroke="#1d2935" stroke-width="1.00" stroke-linejoin="round"/>
<path d="M925.88,419.20 L925.78,419.56 L925.63,420.04 L925.46,420.62 L925.26,421.27 L925.07,421.94 L924.87,422.62 L924.69,423.27 L924.53,423.86 L924.39,424.43 L924.26,425.02 L924.13,425.62 L924.01,426.19 L923.90,426.73 L923.80,427.21 L923.72,427.61 L923.66,427.92 L924.34,428.08 L924.42,427.78 L924.53,427.38 L924.66,426.91 L924.80,426.38 L924.96,425.82 L925.13,425.25 L925.30,424.68 L925.47,424.14 L925.66,423.57 L925.88,422.95 L926.12,422.29 L926.36,421.63 L926.59,421.01 L926.81,420.44 L926.99,419.96 L927.12,419.60 Z" fill="#1d2935" stroke="#1d2935" stroke-width="1.00" stroke-linejoin="round"/>
<path d="M938.26,419.82 L938.25,420.75 L938.24,422.00 L938.23,423.49 L938.21,425.14 L938.20,426.87 L938.18,428.62 L938.16,430.31 L938.13,431.87 L938.09,433.41 L938.04,435.04 L937.99,436.71 L937.93,438.35 L937.88,439.90 L937.83,441.29 L937.78,442.46 L937.75,443.34 L938.85,443.46 L939.00,442.59 L939.21,441.44 L939.46,440.07 L939.74,438.55 L940.03,436.93 L940.33,435.28 L940.61,433.66 L940.87,432.13 L941.13,430.58 L941.40,428.90 L941.67,427.16 L941.94,425.44 L942.19,423.81 L942.41,422.34 L942.60,421.11 L942.74,420.18 Z" fill="#1d2935" stroke="#1d2935" stroke-width="1.00" stroke-linejoin="round"/>
<path d="M939.32,432.30 L939.57,432.76 L939.91,433.37 L940.30,434.11 L940.75,434.93 L941.21,435.79 L941.68,436.65 L942.14,437.48 L942.57,438.23 L942.98,438.97 L943.43,439.74 L943.89,440.52 L944.33,441.28 L944.76,441.99 L945.14,442.63 L945.45,443.16 L945.69,443.57 L946.31,443.23 L946.08,442.81 L945.79,442.26 L945.44,441.60 L945.05,440.87 L944.64,440.10 L944.22,439.30 L943.82,438.51 L943.43,437.77 L943.05,437.00 L942.63,436.15 L942.20,435.27 L941.78,434.40 L941.38,433.56 L941.01,432.81 L940.71,432.18 L940.48,431.70 Z" fill="#1d2935" stroke="#1d2935" stroke-width="1.00" stroke-linejoin="round"/>
<path d="M943.21,420.56 L944.00,420.90 L945.07,421.37 L946.33,421.92 L947.75,422.53 L949.24,423.18 L950.75,423.81 L952.21,424.42 L953.56,424.95 L954.90,425.46 L956.31,425.96 L957.75,426.46 L959.17,426.94 L960.50,427.39 L961.69,427.78 L962.69,428.12 L963.45,428.37 L963.75,427.63 L963.03,427.28 L962.08,426.83 L960.94,426.29 L959.68,425.68 L958.35,425.03 L956.99,424.36 L955.67,423.69 L954.44,423.05 L953.19,422.36 L951.84,421.59 L950.44,420.78 L949.05,419.97 L947.74,419.18 L946.55,418.48 L945.55,417.88 L944.79,417.44 Z" fill="#1d2935" stroke="#1d2935" stroke-width="1.00" stroke-linejoin="round"/>
<path d="M951.00,424.50 L951.02,424.98 L951.04,425.66 L951.07,426.47 L951.10,427.35 L951.13,428.23 L951.16,429.04 L951.18,429.72 L951.20,430.20 L951.80,430.20 L951.82,429.72 L951.84,429.04 L951.87,428.23 L951.90,427.35 L951.93,426.47 L951.96,425.66 L951.98,424.98 L952.00,424.50 Z" fill="#1d2935" stroke="#1d2935" stroke-width="1.00" stroke-linejoin="round"/>
<path d="M955.50,426.33 L955.54,426.73 L955.60,427.28 L955.67,427.95 L955.75,428.68 L955.83,429.40 L955.90,430.07 L955.96,430.63 L956.00,431.02 L956.60,430.98 L956.59,430.59 L956.58,430.02 L956.56,429.35 L956.55,428.62 L956.53,427.90 L956.52,427.23 L956.51,426.66 L956.50,426.27 Z" fill="#1d2935" stroke="#1d2935" stroke-width="1.00" stroke-linejoin="round"/>
<path d="M929.00,414.80 a8.50,9.00 0 1 0 17.00,0 a8.50,9.00 0 1 0 -17.00,0 Z" fill="url(#ngr2)"/>
<path d="M931.40,407.24 L930.68,406.75 L929.71,406.07 L928.54,405.25 L927.24,404.34 L925.85,403.39 L924.44,402.46 L923.07,401.59 L921.77,400.82 L920.48,400.14 L919.12,399.49 L917.73,398.87 L916.38,398.29 L915.10,397.77 L913.96,397.31 L913.01,396.92 L912.30,396.62 L911.70,397.78 L912.38,398.19 L913.27,398.71 L914.33,399.34 L915.50,400.03 L916.72,400.79 L917.96,401.58 L919.15,402.38 L920.23,403.18 L921.31,404.05 L922.48,405.06 L923.69,406.15 L924.89,407.26 L926.03,408.33 L927.06,409.31 L927.93,410.14 L928.60,410.76 Z" fill="url(#ngr2)"/>
<path d="M912.47,397.22 L912.31,396.99 L912.09,396.66 L911.81,396.26 L911.52,395.84 L911.22,395.41 L910.95,395.01 L910.72,394.68 L910.56,394.45 L910.04,394.75 L910.17,395.01 L910.34,395.37 L910.55,395.80 L910.78,396.26 L911.01,396.73 L911.22,397.16 L911.40,397.52 L911.53,397.78 Z" fill="url(#ngr2)"/>
<path d="M911.75,397.07 L911.57,397.20 L911.32,397.38 L911.03,397.59 L910.71,397.83 L910.39,398.06 L910.09,398.28 L909.85,398.46 L909.67,398.58 L909.93,399.02 L910.12,398.92 L910.40,398.79 L910.73,398.64 L911.09,398.47 L911.45,398.31 L911.78,398.15 L912.06,398.02 L912.25,397.93 Z" fill="url(#ngr2)"/>
<path d="M936.98,407.73 L936.82,406.89 L936.59,405.77 L936.33,404.44 L936.04,402.95 L935.73,401.38 L935.40,399.79 L935.09,398.24 L934.78,396.81 L934.47,395.38 L934.12,393.85 L933.76,392.30 L933.40,390.76 L933.05,389.31 L932.74,388.01 L932.49,386.92 L932.29,386.10 L931.11,386.30 L931.20,387.14 L931.32,388.26 L931.46,389.59 L931.62,391.06 L931.78,392.63 L931.94,394.21 L932.09,395.76 L932.22,397.19 L932.34,398.64 L932.46,400.20 L932.58,401.81 L932.69,403.40 L932.79,404.91 L932.88,406.26 L932.96,407.41 L933.02,408.27 Z" fill="url(#ngr2)"/>
<path d="M944.79,408.90 L945.05,408.26 L945.40,407.40 L945.82,406.38 L946.29,405.24 L946.78,404.04 L947.27,402.82 L947.74,401.64 L948.16,400.55 L948.56,399.46 L948.97,398.32 L949.38,397.15 L949.77,396.01 L950.14,394.93 L950.47,393.96 L950.74,393.15 L950.95,392.54 L949.85,392.06 L949.54,392.63 L949.14,393.39 L948.66,394.29 L948.13,395.29 L947.56,396.35 L946.98,397.43 L946.40,398.48 L945.84,399.45 L945.27,400.44 L944.63,401.51 L943.96,402.62 L943.29,403.72 L942.65,404.77 L942.07,405.71 L941.58,406.50 L941.21,407.10 Z" fill="url(#ngr2)"/>
<path d="M945.06,410.39 L945.65,409.88 L946.44,409.18 L947.38,408.35 L948.41,407.43 L949.50,406.47 L950.59,405.53 L951.64,404.63 L952.59,403.84 L953.51,403.09 L954.49,402.33 L955.49,401.57 L956.46,400.84 L957.38,400.15 L958.20,399.54 L958.89,399.03 L959.42,398.64 L958.98,397.96 L958.41,398.28 L957.65,398.68 L956.75,399.17 L955.74,399.71 L954.66,400.30 L953.56,400.92 L952.46,401.54 L951.41,402.16 L950.33,402.83 L949.14,403.57 L947.91,404.36 L946.69,405.16 L945.52,405.92 L944.47,406.61 L943.60,407.18 L942.94,407.61 Z" fill="url(#ngr2)"/>
<path d="M945.08,412.50 L945.69,412.42 L946.50,412.33 L947.47,412.21 L948.54,412.08 L949.68,411.94 L950.84,411.81 L951.97,411.68 L953.04,411.56 L954.12,411.45 L955.29,411.34 L956.51,411.23 L957.71,411.12 L958.86,411.02 L959.89,410.93 L960.76,410.86 L961.41,410.80 L961.39,410.00 L960.74,409.97 L959.87,409.93 L958.84,409.88 L957.69,409.83 L956.47,409.77 L955.25,409.72 L954.06,409.67 L952.96,409.64 L951.88,409.61 L950.73,409.58 L949.56,409.56 L948.41,409.55 L947.32,409.53 L946.35,409.52 L945.54,409.51 L944.92,409.50 Z" fill="url(#ngr2)"/>
<path d="M930.87,417.00 L930.47,417.10 L929.93,417.23 L929.29,417.39 L928.59,417.56 L927.87,417.73 L927.16,417.90 L926.51,418.05 L925.97,418.16 L925.50,418.26 L925.04,418.33 L924.59,418.40 L924.18,418.46 L923.79,418.50 L923.45,418.54 L923.16,418.57 L922.93,418.60 L922.87,419.80 L923.09,419.85 L923.37,419.91 L923.71,419.99 L924.10,420.08 L924.53,420.17 L925.00,420.27 L925.50,420.36 L926.03,420.44 L926.62,420.51 L927.31,420.59 L928.05,420.67 L928.80,420.75 L929.53,420.83 L930.18,420.90 L930.73,420.95 L931.13,421.00 Z" fill="url(#ngr2)"/>
<path d="M925.88,419.20 L925.78,419.56 L925.63,420.04 L925.46,420.62 L925.26,421.27 L925.07,421.94 L924.87,422.62 L924.69,423.27 L924.53,423.86 L924.39,424.43 L924.26,425.02 L924.13,425.62 L924.01,426.19 L923.90,426.73 L923.80,427.21 L923.72,427.61 L923.66,427.92 L924.34,428.08 L924.42,427.78 L924.53,427.38 L924.66,426.91 L924.80,426.38 L924.96,425.82 L925.13,425.25 L925.30,424.68 L925.47,424.14 L925.66,423.57 L925.88,422.95 L926.12,422.29 L926.36,421.63 L926.59,421.01 L926.81,420.44 L926.99,419.96 L927.12,419.60 Z" fill="url(#ngr2)"/>
<path d="M938.26,419.82 L938.25,420.75 L938.24,422.00 L938.23,423.49 L938.21,425.14 L938.20,426.87 L938.18,428.62 L938.16,430.31 L938.13,431.87 L938.09,433.41 L938.04,435.04 L937.99,436.71 L937.93,438.35 L937.88,439.90 L937.83,441.29 L937.78,442.46 L937.75,443.34 L938.85,443.46 L939.00,442.59 L939.21,441.44 L939.46,440.07 L939.74,438.55 L940.03,436.93 L940.33,435.28 L940.61,433.66 L940.87,432.13 L941.13,430.58 L941.40,428.90 L941.67,427.16 L941.94,425.44 L942.19,423.81 L942.41,422.34 L942.60,421.11 L942.74,420.18 Z" fill="url(#ngr2)"/>
<path d="M939.32,432.30 L939.57,432.76 L939.91,433.37 L940.30,434.11 L940.75,434.93 L941.21,435.79 L941.68,436.65 L942.14,437.48 L942.57,438.23 L942.98,438.97 L943.43,439.74 L943.89,440.52 L944.33,441.28 L944.76,441.99 L945.14,442.63 L945.45,443.16 L945.69,443.57 L946.31,443.23 L946.08,442.81 L945.79,442.26 L945.44,441.60 L945.05,440.87 L944.64,440.10 L944.22,439.30 L943.82,438.51 L943.43,437.77 L943.05,437.00 L942.63,436.15 L942.20,435.27 L941.78,434.40 L941.38,433.56 L941.01,432.81 L940.71,432.18 L940.48,431.70 Z" fill="url(#ngr2)"/>
<path d="M943.21,420.56 L944.00,420.90 L945.07,421.37 L946.33,421.92 L947.75,422.53 L949.24,423.18 L950.75,423.81 L952.21,424.42 L953.56,424.95 L954.90,425.46 L956.31,425.96 L957.75,426.46 L959.17,426.94 L960.50,427.39 L961.69,427.78 L962.69,428.12 L963.45,428.37 L963.75,427.63 L963.03,427.28 L962.08,426.83 L960.94,426.29 L959.68,425.68 L958.35,425.03 L956.99,424.36 L955.67,423.69 L954.44,423.05 L953.19,422.36 L951.84,421.59 L950.44,420.78 L949.05,419.97 L947.74,419.18 L946.55,418.48 L945.55,417.88 L944.79,417.44 Z" fill="url(#ngr2)"/>
<path d="M951.00,424.50 L951.02,424.98 L951.04,425.66 L951.07,426.47 L951.10,427.35 L951.13,428.23 L951.16,429.04 L951.18,429.72 L951.20,430.20 L951.80,430.20 L951.82,429.72 L951.84,429.04 L951.87,428.23 L951.90,427.35 L951.93,426.47 L951.96,425.66 L951.98,424.98 L952.00,424.50 Z" fill="url(#ngr2)"/>
<path d="M955.50,426.33 L955.54,426.73 L955.60,427.28 L955.67,427.95 L955.75,428.68 L955.83,429.40 L955.90,430.07 L955.96,430.63 L956.00,431.02 L956.60,430.98 L956.59,430.59 L956.58,430.02 L956.56,429.35 L956.55,428.62 L956.53,427.90 L956.52,427.23 L956.51,426.66 L956.50,426.27 Z" fill="url(#ngr2)"/>
<ellipse cx="938.3" cy="414.5" rx="1.8" ry="2.3" fill="#7fb1dc" stroke="#2a4a6a" stroke-width="0.6"/>
</g>
</svg>
</body></html>
